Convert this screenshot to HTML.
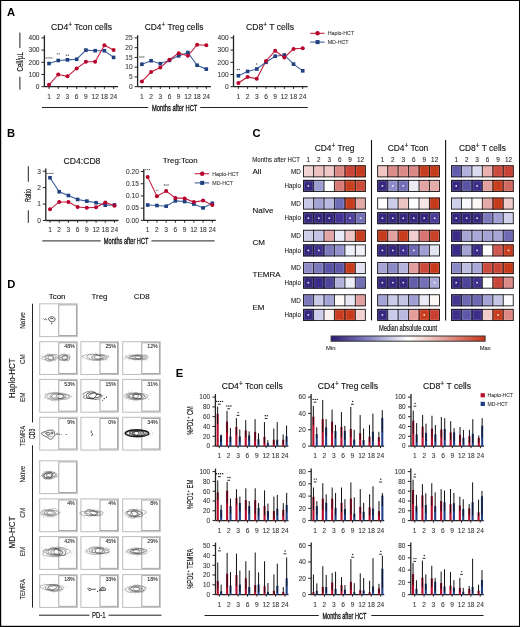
<!DOCTYPE html><html><head><meta charset="utf-8"><style>html,body{margin:0;padding:0;background:#fff;}svg{display:block;will-change:transform;}</style></head><body><svg width="520" height="627" viewBox="0 0 520 627" font-family='"Liberation Sans", sans-serif'>
<rect x="0.00" y="0.00" width="520.00" height="627.00" fill="#fff" stroke="none" stroke-width="1" />
<rect x="0.00" y="0.00" width="520.00" height="1.00" fill="#000" stroke="none" stroke-width="1" />
<rect x="0.00" y="0.00" width="1.20" height="627.00" fill="#000" stroke="none" stroke-width="1" />
<rect x="519.00" y="0.00" width="1.00" height="627.00" fill="#000" stroke="none" stroke-width="1" />
<rect x="0.00" y="625.80" width="520.00" height="1.20" fill="#000" stroke="none" stroke-width="1" />
<text x="7.00" y="15.90" font-size="11.2" text-anchor="start" fill="#000" font-weight="bold" >A</text>
<text x="7.00" y="137.00" font-size="11.2" text-anchor="start" fill="#000" font-weight="bold" >B</text>
<text x="252.50" y="137.00" font-size="11.2" text-anchor="start" fill="#000" font-weight="bold" >C</text>
<text x="7.20" y="288.30" font-size="11.2" text-anchor="start" fill="#000" font-weight="bold" >D</text>
<text x="175.80" y="376.50" font-size="11.2" text-anchor="start" fill="#000" font-weight="bold" >E</text>
<line x1="44.40" y1="35.30" x2="44.40" y2="86.70" stroke="#222" stroke-width="1.3" />
<line x1="44.40" y1="86.70" x2="118.00" y2="86.70" stroke="#222" stroke-width="1.3" />
<line x1="41.40" y1="86.70" x2="44.40" y2="86.70" stroke="#222" stroke-width="1" />
<text x="39.50" y="89.00" font-size="6.6" text-anchor="end" fill="#333"  stroke="#333" stroke-width="0.07">0</text>
<line x1="41.40" y1="74.50" x2="44.40" y2="74.50" stroke="#222" stroke-width="1" />
<text x="39.50" y="76.80" font-size="6.6" text-anchor="end" fill="#333"  stroke="#333" stroke-width="0.07">100</text>
<line x1="41.40" y1="62.30" x2="44.40" y2="62.30" stroke="#222" stroke-width="1" />
<text x="39.50" y="64.60" font-size="6.6" text-anchor="end" fill="#333"  stroke="#333" stroke-width="0.07">200</text>
<line x1="41.40" y1="50.10" x2="44.40" y2="50.10" stroke="#222" stroke-width="1" />
<text x="39.50" y="52.40" font-size="6.6" text-anchor="end" fill="#333"  stroke="#333" stroke-width="0.07">300</text>
<line x1="41.40" y1="37.90" x2="44.40" y2="37.90" stroke="#222" stroke-width="1" />
<text x="39.50" y="40.20" font-size="6.6" text-anchor="end" fill="#333"  stroke="#333" stroke-width="0.07">400</text>
<line x1="49.00" y1="86.70" x2="49.00" y2="88.90" stroke="#222" stroke-width="1" />
<text x="49.00" y="99.20" font-size="6.6" text-anchor="middle" fill="#333"  stroke="#333" stroke-width="0.07">1</text>
<line x1="58.23" y1="86.70" x2="58.23" y2="88.90" stroke="#222" stroke-width="1" />
<text x="58.23" y="99.20" font-size="6.6" text-anchor="middle" fill="#333"  stroke="#333" stroke-width="0.07">2</text>
<line x1="67.46" y1="86.70" x2="67.46" y2="88.90" stroke="#222" stroke-width="1" />
<text x="67.46" y="99.20" font-size="6.6" text-anchor="middle" fill="#333"  stroke="#333" stroke-width="0.07">3</text>
<line x1="76.69" y1="86.70" x2="76.69" y2="88.90" stroke="#222" stroke-width="1" />
<text x="76.69" y="99.20" font-size="6.6" text-anchor="middle" fill="#333"  stroke="#333" stroke-width="0.07">6</text>
<line x1="85.92" y1="86.70" x2="85.92" y2="88.90" stroke="#222" stroke-width="1" />
<text x="85.92" y="99.20" font-size="6.6" text-anchor="middle" fill="#333"  stroke="#333" stroke-width="0.07">9</text>
<line x1="95.15" y1="86.70" x2="95.15" y2="88.90" stroke="#222" stroke-width="1" />
<text x="95.15" y="99.20" font-size="6.6" text-anchor="middle" fill="#333"  stroke="#333" stroke-width="0.07">12</text>
<line x1="104.38" y1="86.70" x2="104.38" y2="88.90" stroke="#222" stroke-width="1" />
<text x="104.38" y="99.20" font-size="6.6" text-anchor="middle" fill="#333"  stroke="#333" stroke-width="0.07">18</text>
<line x1="113.61" y1="86.70" x2="113.61" y2="88.90" stroke="#222" stroke-width="1" />
<text x="113.61" y="99.20" font-size="6.6" text-anchor="middle" fill="#333"  stroke="#333" stroke-width="0.07">24</text>
<polyline points="49.00,63.52 58.23,60.47 67.46,59.86 76.69,59.25 85.92,50.10 95.15,50.71 104.38,50.71 113.61,57.42" fill="none" stroke="#3a5f9e" stroke-width="1.1"/>
<polyline points="49.00,84.87 58.23,74.50 67.46,76.33 76.69,68.40 85.92,61.69 95.15,61.69 104.38,45.22 113.61,50.10" fill="none" stroke="#c4203f" stroke-width="1.1"/>
<rect x="47.20" y="61.72" width="3.60" height="3.60" fill="#1f3f7e" stroke="none" stroke-width="1" />
<rect x="56.43" y="58.67" width="3.60" height="3.60" fill="#1f3f7e" stroke="none" stroke-width="1" />
<rect x="65.66" y="58.06" width="3.60" height="3.60" fill="#1f3f7e" stroke="none" stroke-width="1" />
<rect x="74.89" y="57.45" width="3.60" height="3.60" fill="#1f3f7e" stroke="none" stroke-width="1" />
<rect x="84.12" y="48.30" width="3.60" height="3.60" fill="#1f3f7e" stroke="none" stroke-width="1" />
<rect x="93.35" y="48.91" width="3.60" height="3.60" fill="#1f3f7e" stroke="none" stroke-width="1" />
<rect x="102.58" y="48.91" width="3.60" height="3.60" fill="#1f3f7e" stroke="none" stroke-width="1" />
<rect x="111.81" y="55.62" width="3.60" height="3.60" fill="#1f3f7e" stroke="none" stroke-width="1" />
<circle cx="49.00" cy="84.87" r="2" fill="#b8002c"/>
<circle cx="58.23" cy="74.50" r="2" fill="#b8002c"/>
<circle cx="67.46" cy="76.33" r="2" fill="#b8002c"/>
<circle cx="76.69" cy="68.40" r="2" fill="#b8002c"/>
<circle cx="85.92" cy="61.69" r="2" fill="#b8002c"/>
<circle cx="95.15" cy="61.69" r="2" fill="#b8002c"/>
<circle cx="104.38" cy="45.22" r="2" fill="#b8002c"/>
<circle cx="113.61" cy="50.10" r="2" fill="#b8002c"/>
<circle cx="46.15" cy="57.90" r="0.65" fill="#444"/>
<circle cx="48.05" cy="57.90" r="0.65" fill="#444"/>
<circle cx="49.95" cy="57.90" r="0.65" fill="#444"/>
<circle cx="51.85" cy="57.90" r="0.65" fill="#444"/>
<circle cx="57.28" cy="53.80" r="0.65" fill="#444"/>
<circle cx="59.18" cy="53.80" r="0.65" fill="#444"/>
<circle cx="66.51" cy="55.20" r="0.65" fill="#444"/>
<circle cx="68.41" cy="55.20" r="0.65" fill="#444"/>
<text x="81.5" y="30" font-size="8.6" text-anchor="middle" fill="#111" stroke="#111" stroke-width="0.12">CD4<tspan font-size="6.6" dy="-3.3">+</tspan><tspan dy="3.3"> Tcon cells</tspan></text>
<line x1="137.60" y1="35.30" x2="137.60" y2="86.70" stroke="#222" stroke-width="1.3" />
<line x1="137.60" y1="86.70" x2="211.00" y2="86.70" stroke="#222" stroke-width="1.3" />
<line x1="134.60" y1="86.70" x2="137.60" y2="86.70" stroke="#222" stroke-width="1" />
<text x="132.70" y="89.00" font-size="6.6" text-anchor="end" fill="#333"  stroke="#333" stroke-width="0.07">0</text>
<line x1="134.60" y1="76.94" x2="137.60" y2="76.94" stroke="#222" stroke-width="1" />
<text x="132.70" y="79.24" font-size="6.6" text-anchor="end" fill="#333"  stroke="#333" stroke-width="0.07">5</text>
<line x1="134.60" y1="67.18" x2="137.60" y2="67.18" stroke="#222" stroke-width="1" />
<text x="132.70" y="69.48" font-size="6.6" text-anchor="end" fill="#333"  stroke="#333" stroke-width="0.07">10</text>
<line x1="134.60" y1="57.42" x2="137.60" y2="57.42" stroke="#222" stroke-width="1" />
<text x="132.70" y="59.72" font-size="6.6" text-anchor="end" fill="#333"  stroke="#333" stroke-width="0.07">15</text>
<line x1="134.60" y1="47.66" x2="137.60" y2="47.66" stroke="#222" stroke-width="1" />
<text x="132.70" y="49.96" font-size="6.6" text-anchor="end" fill="#333"  stroke="#333" stroke-width="0.07">20</text>
<line x1="134.60" y1="37.90" x2="137.60" y2="37.90" stroke="#222" stroke-width="1" />
<text x="132.70" y="40.20" font-size="6.6" text-anchor="end" fill="#333"  stroke="#333" stroke-width="0.07">25</text>
<line x1="141.90" y1="86.70" x2="141.90" y2="88.90" stroke="#222" stroke-width="1" />
<text x="141.90" y="99.20" font-size="6.6" text-anchor="middle" fill="#333"  stroke="#333" stroke-width="0.07">1</text>
<line x1="151.10" y1="86.70" x2="151.10" y2="88.90" stroke="#222" stroke-width="1" />
<text x="151.10" y="99.20" font-size="6.6" text-anchor="middle" fill="#333"  stroke="#333" stroke-width="0.07">2</text>
<line x1="160.30" y1="86.70" x2="160.30" y2="88.90" stroke="#222" stroke-width="1" />
<text x="160.30" y="99.20" font-size="6.6" text-anchor="middle" fill="#333"  stroke="#333" stroke-width="0.07">3</text>
<line x1="169.50" y1="86.70" x2="169.50" y2="88.90" stroke="#222" stroke-width="1" />
<text x="169.50" y="99.20" font-size="6.6" text-anchor="middle" fill="#333"  stroke="#333" stroke-width="0.07">6</text>
<line x1="178.70" y1="86.70" x2="178.70" y2="88.90" stroke="#222" stroke-width="1" />
<text x="178.70" y="99.20" font-size="6.6" text-anchor="middle" fill="#333"  stroke="#333" stroke-width="0.07">9</text>
<line x1="187.90" y1="86.70" x2="187.90" y2="88.90" stroke="#222" stroke-width="1" />
<text x="187.90" y="99.20" font-size="6.6" text-anchor="middle" fill="#333"  stroke="#333" stroke-width="0.07">12</text>
<line x1="197.10" y1="86.70" x2="197.10" y2="88.90" stroke="#222" stroke-width="1" />
<text x="197.10" y="99.20" font-size="6.6" text-anchor="middle" fill="#333"  stroke="#333" stroke-width="0.07">18</text>
<line x1="206.30" y1="86.70" x2="206.30" y2="88.90" stroke="#222" stroke-width="1" />
<text x="206.30" y="99.20" font-size="6.6" text-anchor="middle" fill="#333"  stroke="#333" stroke-width="0.07">24</text>
<polyline points="141.90,64.25 151.10,60.74 160.30,63.67 169.50,60.35 178.70,55.86 187.90,52.54 197.10,65.23 206.30,69.13" fill="none" stroke="#3a5f9e" stroke-width="1.1"/>
<polyline points="141.90,81.43 151.10,72.06 160.30,67.57 169.50,59.76 178.70,53.13 187.90,55.86 197.10,44.73 206.30,45.32" fill="none" stroke="#c4203f" stroke-width="1.1"/>
<rect x="140.10" y="62.45" width="3.60" height="3.60" fill="#1f3f7e" stroke="none" stroke-width="1" />
<rect x="149.30" y="58.94" width="3.60" height="3.60" fill="#1f3f7e" stroke="none" stroke-width="1" />
<rect x="158.50" y="61.87" width="3.60" height="3.60" fill="#1f3f7e" stroke="none" stroke-width="1" />
<rect x="167.70" y="58.55" width="3.60" height="3.60" fill="#1f3f7e" stroke="none" stroke-width="1" />
<rect x="176.90" y="54.06" width="3.60" height="3.60" fill="#1f3f7e" stroke="none" stroke-width="1" />
<rect x="186.10" y="50.74" width="3.60" height="3.60" fill="#1f3f7e" stroke="none" stroke-width="1" />
<rect x="195.30" y="63.43" width="3.60" height="3.60" fill="#1f3f7e" stroke="none" stroke-width="1" />
<rect x="204.50" y="67.33" width="3.60" height="3.60" fill="#1f3f7e" stroke="none" stroke-width="1" />
<circle cx="141.90" cy="81.43" r="2" fill="#b8002c"/>
<circle cx="151.10" cy="72.06" r="2" fill="#b8002c"/>
<circle cx="160.30" cy="67.57" r="2" fill="#b8002c"/>
<circle cx="169.50" cy="59.76" r="2" fill="#b8002c"/>
<circle cx="178.70" cy="53.13" r="2" fill="#b8002c"/>
<circle cx="187.90" cy="55.86" r="2" fill="#b8002c"/>
<circle cx="197.10" cy="44.73" r="2" fill="#b8002c"/>
<circle cx="206.30" cy="45.32" r="2" fill="#b8002c"/>
<circle cx="140.00" cy="57.00" r="0.65" fill="#444"/>
<circle cx="141.90" cy="57.00" r="0.65" fill="#444"/>
<circle cx="143.80" cy="57.00" r="0.65" fill="#444"/>
<text x="174.1" y="30" font-size="8.35" text-anchor="middle" fill="#111" stroke="#111" stroke-width="0.12">CD4<tspan font-size="6.6" dy="-3.3">+</tspan><tspan dy="3.3"> Treg cells</tspan></text>
<line x1="233.50" y1="35.30" x2="233.50" y2="86.70" stroke="#222" stroke-width="1.3" />
<line x1="233.50" y1="86.70" x2="307.70" y2="86.70" stroke="#222" stroke-width="1.3" />
<line x1="230.50" y1="86.70" x2="233.50" y2="86.70" stroke="#222" stroke-width="1" />
<text x="228.60" y="89.00" font-size="6.6" text-anchor="end" fill="#333"  stroke="#333" stroke-width="0.07">0</text>
<line x1="230.50" y1="74.50" x2="233.50" y2="74.50" stroke="#222" stroke-width="1" />
<text x="228.60" y="76.80" font-size="6.6" text-anchor="end" fill="#333"  stroke="#333" stroke-width="0.07">100</text>
<line x1="230.50" y1="62.30" x2="233.50" y2="62.30" stroke="#222" stroke-width="1" />
<text x="228.60" y="64.60" font-size="6.6" text-anchor="end" fill="#333"  stroke="#333" stroke-width="0.07">200</text>
<line x1="230.50" y1="50.10" x2="233.50" y2="50.10" stroke="#222" stroke-width="1" />
<text x="228.60" y="52.40" font-size="6.6" text-anchor="end" fill="#333"  stroke="#333" stroke-width="0.07">300</text>
<line x1="230.50" y1="37.90" x2="233.50" y2="37.90" stroke="#222" stroke-width="1" />
<text x="228.60" y="40.20" font-size="6.6" text-anchor="end" fill="#333"  stroke="#333" stroke-width="0.07">400</text>
<line x1="238.40" y1="86.70" x2="238.40" y2="88.90" stroke="#222" stroke-width="1" />
<text x="238.40" y="99.20" font-size="6.6" text-anchor="middle" fill="#333"  stroke="#333" stroke-width="0.07">1</text>
<line x1="247.59" y1="86.70" x2="247.59" y2="88.90" stroke="#222" stroke-width="1" />
<text x="247.59" y="99.20" font-size="6.6" text-anchor="middle" fill="#333"  stroke="#333" stroke-width="0.07">2</text>
<line x1="256.78" y1="86.70" x2="256.78" y2="88.90" stroke="#222" stroke-width="1" />
<text x="256.78" y="99.20" font-size="6.6" text-anchor="middle" fill="#333"  stroke="#333" stroke-width="0.07">3</text>
<line x1="265.97" y1="86.70" x2="265.97" y2="88.90" stroke="#222" stroke-width="1" />
<text x="265.97" y="99.20" font-size="6.6" text-anchor="middle" fill="#333"  stroke="#333" stroke-width="0.07">6</text>
<line x1="275.16" y1="86.70" x2="275.16" y2="88.90" stroke="#222" stroke-width="1" />
<text x="275.16" y="99.20" font-size="6.6" text-anchor="middle" fill="#333"  stroke="#333" stroke-width="0.07">9</text>
<line x1="284.35" y1="86.70" x2="284.35" y2="88.90" stroke="#222" stroke-width="1" />
<text x="284.35" y="99.20" font-size="6.6" text-anchor="middle" fill="#333"  stroke="#333" stroke-width="0.07">12</text>
<line x1="293.54" y1="86.70" x2="293.54" y2="88.90" stroke="#222" stroke-width="1" />
<text x="293.54" y="99.20" font-size="6.6" text-anchor="middle" fill="#333"  stroke="#333" stroke-width="0.07">18</text>
<line x1="302.73" y1="86.70" x2="302.73" y2="88.90" stroke="#222" stroke-width="1" />
<text x="302.73" y="99.20" font-size="6.6" text-anchor="middle" fill="#333"  stroke="#333" stroke-width="0.07">24</text>
<polyline points="238.40,75.72 247.59,71.45 256.78,69.01 265.97,62.30 275.16,56.20 284.35,54.98 293.54,64.13 302.73,70.84" fill="none" stroke="#3a5f9e" stroke-width="1.1"/>
<polyline points="238.40,83.04 247.59,76.94 256.78,78.77 265.97,61.08 275.16,50.71 284.35,57.42 293.54,48.88 302.73,48.27" fill="none" stroke="#c4203f" stroke-width="1.1"/>
<rect x="236.60" y="73.92" width="3.60" height="3.60" fill="#1f3f7e" stroke="none" stroke-width="1" />
<rect x="245.79" y="69.65" width="3.60" height="3.60" fill="#1f3f7e" stroke="none" stroke-width="1" />
<rect x="254.98" y="67.21" width="3.60" height="3.60" fill="#1f3f7e" stroke="none" stroke-width="1" />
<rect x="264.17" y="60.50" width="3.60" height="3.60" fill="#1f3f7e" stroke="none" stroke-width="1" />
<rect x="273.36" y="54.40" width="3.60" height="3.60" fill="#1f3f7e" stroke="none" stroke-width="1" />
<rect x="282.55" y="53.18" width="3.60" height="3.60" fill="#1f3f7e" stroke="none" stroke-width="1" />
<rect x="291.74" y="62.33" width="3.60" height="3.60" fill="#1f3f7e" stroke="none" stroke-width="1" />
<rect x="300.93" y="69.04" width="3.60" height="3.60" fill="#1f3f7e" stroke="none" stroke-width="1" />
<circle cx="238.40" cy="83.04" r="2" fill="#b8002c"/>
<circle cx="247.59" cy="76.94" r="2" fill="#b8002c"/>
<circle cx="256.78" cy="78.77" r="2" fill="#b8002c"/>
<circle cx="265.97" cy="61.08" r="2" fill="#b8002c"/>
<circle cx="275.16" cy="50.71" r="2" fill="#b8002c"/>
<circle cx="284.35" cy="57.42" r="2" fill="#b8002c"/>
<circle cx="293.54" cy="48.88" r="2" fill="#b8002c"/>
<circle cx="302.73" cy="48.27" r="2" fill="#b8002c"/>
<circle cx="237.45" cy="69.50" r="0.65" fill="#444"/>
<circle cx="239.35" cy="69.50" r="0.65" fill="#444"/>
<circle cx="256.78" cy="64.00" r="0.65" fill="#444"/>
<text x="270" y="30" font-size="8.6" text-anchor="middle" fill="#111" stroke="#111" stroke-width="0.12">CD8<tspan font-size="6.6" dy="-3.3">+</tspan><tspan dy="3.3"> T cells</tspan></text>
<line x1="310.20" y1="33.30" x2="324.50" y2="33.30" stroke="#c4203f" stroke-width="1.1" />
<circle cx="317.60" cy="33.30" r="2.2" fill="#b8002c"/>
<text x="327.70" y="35.20" font-size="5.3" text-anchor="start" fill="#333"  stroke="#333" stroke-width="0.07">Haplo-HCT</text>
<line x1="310.20" y1="42.10" x2="324.50" y2="42.10" stroke="#3a5f9e" stroke-width="1.1" />
<rect x="315.60" y="40.10" width="4.00" height="4.00" fill="#1f3f7e" stroke="none" stroke-width="1" />
<text x="327.70" y="44.00" font-size="5.3" text-anchor="start" fill="#333"  stroke="#333" stroke-width="0.07">MD-HCT</text>
<text x="23.00" y="61.70" font-size="9.0" text-anchor="middle" fill="#111" textLength="19.4" lengthAdjust="spacingAndGlyphs" transform="rotate(-90 23.00 61.70)" stroke="#111" stroke-width="0.15">Cell/µL</text>
<line x1="19.90" y1="32.60" x2="19.90" y2="47.90" stroke="#222" stroke-width="1" />
<line x1="19.90" y1="76.80" x2="19.90" y2="89.70" stroke="#222" stroke-width="1" />
<line x1="42.00" y1="107.50" x2="148.30" y2="107.50" stroke="#222" stroke-width="1" />
<line x1="200.20" y1="107.50" x2="307.70" y2="107.50" stroke="#222" stroke-width="1" />
<text x="174.65" y="110.60" font-size="8.7" text-anchor="middle" fill="#111" textLength="45.3" lengthAdjust="spacingAndGlyphs" stroke="#111" stroke-width="0.32">Months after HCT</text>
<line x1="45.80" y1="168.60" x2="45.80" y2="220.50" stroke="#222" stroke-width="1.3" />
<line x1="45.80" y1="220.50" x2="118.50" y2="220.50" stroke="#222" stroke-width="1.3" />
<line x1="42.80" y1="220.50" x2="45.80" y2="220.50" stroke="#222" stroke-width="1" />
<text x="40.90" y="222.80" font-size="6.6" text-anchor="end" fill="#333"  stroke="#333" stroke-width="0.07">0</text>
<line x1="42.80" y1="204.07" x2="45.80" y2="204.07" stroke="#222" stroke-width="1" />
<text x="40.90" y="206.37" font-size="6.6" text-anchor="end" fill="#333"  stroke="#333" stroke-width="0.07">1</text>
<line x1="42.80" y1="187.63" x2="45.80" y2="187.63" stroke="#222" stroke-width="1" />
<text x="40.90" y="189.93" font-size="6.6" text-anchor="end" fill="#333"  stroke="#333" stroke-width="0.07">2</text>
<line x1="42.80" y1="171.20" x2="45.80" y2="171.20" stroke="#222" stroke-width="1" />
<text x="40.90" y="173.50" font-size="6.6" text-anchor="end" fill="#333"  stroke="#333" stroke-width="0.07">3</text>
<line x1="50.00" y1="220.50" x2="50.00" y2="222.70" stroke="#222" stroke-width="1" />
<text x="50.00" y="232.00" font-size="6.6" text-anchor="middle" fill="#333"  stroke="#333" stroke-width="0.07">1</text>
<line x1="59.21" y1="220.50" x2="59.21" y2="222.70" stroke="#222" stroke-width="1" />
<text x="59.21" y="232.00" font-size="6.6" text-anchor="middle" fill="#333"  stroke="#333" stroke-width="0.07">2</text>
<line x1="68.42" y1="220.50" x2="68.42" y2="222.70" stroke="#222" stroke-width="1" />
<text x="68.42" y="232.00" font-size="6.6" text-anchor="middle" fill="#333"  stroke="#333" stroke-width="0.07">3</text>
<line x1="77.63" y1="220.50" x2="77.63" y2="222.70" stroke="#222" stroke-width="1" />
<text x="77.63" y="232.00" font-size="6.6" text-anchor="middle" fill="#333"  stroke="#333" stroke-width="0.07">6</text>
<line x1="86.84" y1="220.50" x2="86.84" y2="222.70" stroke="#222" stroke-width="1" />
<text x="86.84" y="232.00" font-size="6.6" text-anchor="middle" fill="#333"  stroke="#333" stroke-width="0.07">9</text>
<line x1="96.05" y1="220.50" x2="96.05" y2="222.70" stroke="#222" stroke-width="1" />
<text x="96.05" y="232.00" font-size="6.6" text-anchor="middle" fill="#333"  stroke="#333" stroke-width="0.07">12</text>
<line x1="105.26" y1="220.50" x2="105.26" y2="222.70" stroke="#222" stroke-width="1" />
<text x="105.26" y="232.00" font-size="6.6" text-anchor="middle" fill="#333"  stroke="#333" stroke-width="0.07">18</text>
<line x1="114.47" y1="220.50" x2="114.47" y2="222.70" stroke="#222" stroke-width="1" />
<text x="114.47" y="232.00" font-size="6.6" text-anchor="middle" fill="#333"  stroke="#333" stroke-width="0.07">24</text>
<polyline points="50.00,177.77 59.21,191.74 68.42,195.52 77.63,199.47 86.84,201.11 96.05,202.75 105.26,205.22 114.47,204.89" fill="none" stroke="#3a5f9e" stroke-width="1.1"/>
<polyline points="50.00,209.33 59.21,201.93 68.42,201.93 77.63,207.02 86.84,207.68 96.05,207.35 105.26,202.42 114.47,205.71" fill="none" stroke="#c4203f" stroke-width="1.1"/>
<rect x="48.20" y="175.97" width="3.60" height="3.60" fill="#1f3f7e" stroke="none" stroke-width="1" />
<rect x="57.41" y="189.94" width="3.60" height="3.60" fill="#1f3f7e" stroke="none" stroke-width="1" />
<rect x="66.62" y="193.72" width="3.60" height="3.60" fill="#1f3f7e" stroke="none" stroke-width="1" />
<rect x="75.83" y="197.67" width="3.60" height="3.60" fill="#1f3f7e" stroke="none" stroke-width="1" />
<rect x="85.04" y="199.31" width="3.60" height="3.60" fill="#1f3f7e" stroke="none" stroke-width="1" />
<rect x="94.25" y="200.95" width="3.60" height="3.60" fill="#1f3f7e" stroke="none" stroke-width="1" />
<rect x="103.46" y="203.42" width="3.60" height="3.60" fill="#1f3f7e" stroke="none" stroke-width="1" />
<rect x="112.67" y="203.09" width="3.60" height="3.60" fill="#1f3f7e" stroke="none" stroke-width="1" />
<circle cx="50.00" cy="209.33" r="2" fill="#b8002c"/>
<circle cx="59.21" cy="201.93" r="2" fill="#b8002c"/>
<circle cx="68.42" cy="201.93" r="2" fill="#b8002c"/>
<circle cx="77.63" cy="207.02" r="2" fill="#b8002c"/>
<circle cx="86.84" cy="207.68" r="2" fill="#b8002c"/>
<circle cx="96.05" cy="207.35" r="2" fill="#b8002c"/>
<circle cx="105.26" cy="202.42" r="2" fill="#b8002c"/>
<circle cx="114.47" cy="205.71" r="2" fill="#b8002c"/>
<circle cx="47.15" cy="173.40" r="0.65" fill="#444"/>
<circle cx="49.05" cy="173.40" r="0.65" fill="#444"/>
<circle cx="50.95" cy="173.40" r="0.65" fill="#444"/>
<circle cx="52.85" cy="173.40" r="0.65" fill="#444"/>
<text x="82.00" y="163.50" font-size="8.6" text-anchor="middle" fill="#111"  stroke="#111" stroke-width="0.12">CD4:CD8</text>
<line x1="143.80" y1="168.90" x2="143.80" y2="220.40" stroke="#222" stroke-width="1.3" />
<line x1="143.80" y1="220.40" x2="215.80" y2="220.40" stroke="#222" stroke-width="1.3" />
<line x1="140.80" y1="220.40" x2="143.80" y2="220.40" stroke="#222" stroke-width="1" />
<text x="138.90" y="222.70" font-size="6.6" text-anchor="end" fill="#333"  stroke="#333" stroke-width="0.07">0.00</text>
<line x1="140.80" y1="208.18" x2="143.80" y2="208.18" stroke="#222" stroke-width="1" />
<text x="138.90" y="210.48" font-size="6.6" text-anchor="end" fill="#333"  stroke="#333" stroke-width="0.07">0.05</text>
<line x1="140.80" y1="195.95" x2="143.80" y2="195.95" stroke="#222" stroke-width="1" />
<text x="138.90" y="198.25" font-size="6.6" text-anchor="end" fill="#333"  stroke="#333" stroke-width="0.07">0.10</text>
<line x1="140.80" y1="183.72" x2="143.80" y2="183.72" stroke="#222" stroke-width="1" />
<text x="138.90" y="186.03" font-size="6.6" text-anchor="end" fill="#333"  stroke="#333" stroke-width="0.07">0.15</text>
<line x1="140.80" y1="171.50" x2="143.80" y2="171.50" stroke="#222" stroke-width="1" />
<text x="138.90" y="173.80" font-size="6.6" text-anchor="end" fill="#333"  stroke="#333" stroke-width="0.07">0.20</text>
<line x1="147.70" y1="220.40" x2="147.70" y2="222.60" stroke="#222" stroke-width="1" />
<text x="147.70" y="232.00" font-size="6.6" text-anchor="middle" fill="#333"  stroke="#333" stroke-width="0.07">1</text>
<line x1="156.93" y1="220.40" x2="156.93" y2="222.60" stroke="#222" stroke-width="1" />
<text x="156.93" y="232.00" font-size="6.6" text-anchor="middle" fill="#333"  stroke="#333" stroke-width="0.07">2</text>
<line x1="166.16" y1="220.40" x2="166.16" y2="222.60" stroke="#222" stroke-width="1" />
<text x="166.16" y="232.00" font-size="6.6" text-anchor="middle" fill="#333"  stroke="#333" stroke-width="0.07">3</text>
<line x1="175.39" y1="220.40" x2="175.39" y2="222.60" stroke="#222" stroke-width="1" />
<text x="175.39" y="232.00" font-size="6.6" text-anchor="middle" fill="#333"  stroke="#333" stroke-width="0.07">6</text>
<line x1="184.62" y1="220.40" x2="184.62" y2="222.60" stroke="#222" stroke-width="1" />
<text x="184.62" y="232.00" font-size="6.6" text-anchor="middle" fill="#333"  stroke="#333" stroke-width="0.07">9</text>
<line x1="193.85" y1="220.40" x2="193.85" y2="222.60" stroke="#222" stroke-width="1" />
<text x="193.85" y="232.00" font-size="6.6" text-anchor="middle" fill="#333"  stroke="#333" stroke-width="0.07">12</text>
<line x1="203.08" y1="220.40" x2="203.08" y2="222.60" stroke="#222" stroke-width="1" />
<text x="203.08" y="232.00" font-size="6.6" text-anchor="middle" fill="#333"  stroke="#333" stroke-width="0.07">18</text>
<line x1="212.31" y1="220.40" x2="212.31" y2="222.60" stroke="#222" stroke-width="1" />
<text x="212.31" y="232.00" font-size="6.6" text-anchor="middle" fill="#333"  stroke="#333" stroke-width="0.07">24</text>
<polyline points="147.70,205.00 156.93,205.49 166.16,206.22 175.39,200.84 184.62,201.57 193.85,204.02 203.08,207.93 212.31,203.28" fill="none" stroke="#3a5f9e" stroke-width="1.1"/>
<polyline points="147.70,176.88 156.93,196.19 166.16,191.06 175.39,197.91 184.62,198.40 193.85,202.06 203.08,200.60 212.31,205.00" fill="none" stroke="#c4203f" stroke-width="1.1"/>
<rect x="145.90" y="203.20" width="3.60" height="3.60" fill="#1f3f7e" stroke="none" stroke-width="1" />
<rect x="155.13" y="203.69" width="3.60" height="3.60" fill="#1f3f7e" stroke="none" stroke-width="1" />
<rect x="164.36" y="204.42" width="3.60" height="3.60" fill="#1f3f7e" stroke="none" stroke-width="1" />
<rect x="173.59" y="199.04" width="3.60" height="3.60" fill="#1f3f7e" stroke="none" stroke-width="1" />
<rect x="182.82" y="199.77" width="3.60" height="3.60" fill="#1f3f7e" stroke="none" stroke-width="1" />
<rect x="192.05" y="202.22" width="3.60" height="3.60" fill="#1f3f7e" stroke="none" stroke-width="1" />
<rect x="201.28" y="206.13" width="3.60" height="3.60" fill="#1f3f7e" stroke="none" stroke-width="1" />
<rect x="210.51" y="201.48" width="3.60" height="3.60" fill="#1f3f7e" stroke="none" stroke-width="1" />
<circle cx="147.70" cy="176.88" r="2" fill="#b8002c"/>
<circle cx="156.93" cy="196.19" r="2" fill="#b8002c"/>
<circle cx="166.16" cy="191.06" r="2" fill="#b8002c"/>
<circle cx="175.39" cy="197.91" r="2" fill="#b8002c"/>
<circle cx="184.62" cy="198.40" r="2" fill="#b8002c"/>
<circle cx="193.85" cy="202.06" r="2" fill="#b8002c"/>
<circle cx="203.08" cy="200.60" r="2" fill="#b8002c"/>
<circle cx="212.31" cy="205.00" r="2" fill="#b8002c"/>
<circle cx="145.80" cy="169.60" r="0.65" fill="#444"/>
<circle cx="147.70" cy="169.60" r="0.65" fill="#444"/>
<circle cx="149.60" cy="169.60" r="0.65" fill="#444"/>
<circle cx="156.93" cy="190.40" r="0.65" fill="#444"/>
<circle cx="164.26" cy="185.00" r="0.65" fill="#444"/>
<circle cx="166.16" cy="185.00" r="0.65" fill="#444"/>
<circle cx="168.06" cy="185.00" r="0.65" fill="#444"/>
<text x="180.25" y="162.90" font-size="7.9" text-anchor="middle" fill="#111"  stroke="#111" stroke-width="0.12">Treg:Tcon</text>
<line x1="194.80" y1="173.70" x2="209.10" y2="173.70" stroke="#c4203f" stroke-width="1.1" />
<circle cx="202.20" cy="173.70" r="2.2" fill="#b8002c"/>
<text x="212.30" y="175.60" font-size="5.3" text-anchor="start" fill="#333"  stroke="#333" stroke-width="0.07">Haplo-HCT</text>
<line x1="194.80" y1="182.90" x2="209.10" y2="182.90" stroke="#3a5f9e" stroke-width="1.1" />
<rect x="200.20" y="180.90" width="4.00" height="4.00" fill="#1f3f7e" stroke="none" stroke-width="1" />
<text x="212.30" y="184.80" font-size="5.3" text-anchor="start" fill="#333"  stroke="#333" stroke-width="0.07">MD-HCT</text>
<text x="30.60" y="195.50" font-size="8.3" text-anchor="middle" fill="#111" textLength="13" lengthAdjust="spacingAndGlyphs" transform="rotate(-90 30.60 195.50)" stroke="#111" stroke-width="0.15">Ratio</text>
<line x1="28.30" y1="166.20" x2="28.30" y2="181.80" stroke="#222" stroke-width="1" />
<line x1="28.30" y1="210.30" x2="28.30" y2="222.80" stroke="#222" stroke-width="1" />
<line x1="42.30" y1="240.90" x2="100.80" y2="240.90" stroke="#222" stroke-width="1" />
<line x1="151.50" y1="240.90" x2="214.60" y2="240.90" stroke="#222" stroke-width="1" />
<text x="126.15" y="244.00" font-size="8.7" text-anchor="middle" fill="#111" textLength="44.7" lengthAdjust="spacingAndGlyphs" stroke="#111" stroke-width="0.32">Months after HCT</text>
<text x="334.6" y="150.9" font-size="8.4" text-anchor="middle" fill="#111" stroke="#111" stroke-width="0.12">CD4<tspan font-size="6.6" dy="-3.3">+</tspan><tspan dy="3.3"> Treg</tspan></text>
<text x="308.33" y="161.60" font-size="6.4" text-anchor="middle" fill="#222"  stroke="#222" stroke-width="0.07">1</text>
<text x="318.78" y="161.60" font-size="6.4" text-anchor="middle" fill="#222"  stroke="#222" stroke-width="0.07">2</text>
<text x="329.23" y="161.60" font-size="6.4" text-anchor="middle" fill="#222"  stroke="#222" stroke-width="0.07">3</text>
<text x="339.68" y="161.60" font-size="6.4" text-anchor="middle" fill="#222"  stroke="#222" stroke-width="0.07">6</text>
<text x="350.12" y="161.60" font-size="6.4" text-anchor="middle" fill="#222"  stroke="#222" stroke-width="0.07">9</text>
<text x="360.58" y="161.60" font-size="6.4" text-anchor="middle" fill="#222"  stroke="#222" stroke-width="0.07">12</text>
<rect x="303.10" y="165.30" width="10.45" height="12.00" fill="#f2d4d4" stroke="none" stroke-width="1" />
<rect x="304.40" y="166.60" width="7.85" height="9.40" fill="none" stroke="#fff" stroke-width="0.5" opacity="0.25"/>
<rect x="313.55" y="165.30" width="10.45" height="12.00" fill="#eec0c0" stroke="none" stroke-width="1" />
<rect x="314.85" y="166.60" width="7.85" height="9.40" fill="none" stroke="#fff" stroke-width="0.5" opacity="0.25"/>
<rect x="324.00" y="165.30" width="10.45" height="12.00" fill="#f0c8c8" stroke="none" stroke-width="1" />
<rect x="325.30" y="166.60" width="7.85" height="9.40" fill="none" stroke="#fff" stroke-width="0.5" opacity="0.25"/>
<rect x="334.45" y="165.30" width="10.45" height="12.00" fill="#dc8a86" stroke="none" stroke-width="1" />
<rect x="335.75" y="166.60" width="7.85" height="9.40" fill="none" stroke="#fff" stroke-width="0.5" opacity="0.25"/>
<rect x="344.90" y="165.30" width="10.45" height="12.00" fill="#cc4438" stroke="none" stroke-width="1" />
<rect x="346.20" y="166.60" width="7.85" height="9.40" fill="none" stroke="#fff" stroke-width="0.5" opacity="0.25"/>
<rect x="355.35" y="165.30" width="10.45" height="12.00" fill="#c63a1e" stroke="none" stroke-width="1" />
<rect x="356.65" y="166.60" width="7.85" height="9.40" fill="none" stroke="#fff" stroke-width="0.5" opacity="0.25"/>
<line x1="313.55" y1="165.30" x2="313.55" y2="177.30" stroke="#1a1a1a" stroke-width="0.9" />
<line x1="324.00" y1="165.30" x2="324.00" y2="177.30" stroke="#1a1a1a" stroke-width="0.9" />
<line x1="334.45" y1="165.30" x2="334.45" y2="177.30" stroke="#1a1a1a" stroke-width="0.9" />
<line x1="344.90" y1="165.30" x2="344.90" y2="177.30" stroke="#1a1a1a" stroke-width="0.9" />
<line x1="355.35" y1="165.30" x2="355.35" y2="177.30" stroke="#1a1a1a" stroke-width="0.9" />
<rect x="303.55" y="165.75" width="61.80" height="11.10" fill="none" stroke="#1a1a1a" stroke-width="0.9" />
<rect x="303.10" y="179.90" width="10.45" height="12.00" fill="#37287f" stroke="none" stroke-width="1" />
<rect x="304.40" y="181.20" width="7.85" height="9.40" fill="none" stroke="#fff" stroke-width="0.5" opacity="0.25"/>
<circle cx="308.33" cy="185.90" r="0.95" fill="#fff" opacity="0.85"/>
<rect x="313.55" y="179.90" width="10.45" height="12.00" fill="#9f9ed4" stroke="none" stroke-width="1" />
<rect x="314.85" y="181.20" width="7.85" height="9.40" fill="none" stroke="#fff" stroke-width="0.5" opacity="0.25"/>
<rect x="324.00" y="179.90" width="10.45" height="12.00" fill="#ffffff" stroke="none" stroke-width="1" />
<rect x="325.30" y="181.20" width="7.85" height="9.40" fill="none" stroke="#fff" stroke-width="0.5" opacity="0.25"/>
<rect x="334.45" y="179.90" width="10.45" height="12.00" fill="#d87a76" stroke="none" stroke-width="1" />
<rect x="335.75" y="181.20" width="7.85" height="9.40" fill="none" stroke="#fff" stroke-width="0.5" opacity="0.25"/>
<rect x="344.90" y="179.90" width="10.45" height="12.00" fill="#c9401f" stroke="none" stroke-width="1" />
<rect x="346.20" y="181.20" width="7.85" height="9.40" fill="none" stroke="#fff" stroke-width="0.5" opacity="0.25"/>
<rect x="355.35" y="179.90" width="10.45" height="12.00" fill="#cc4a3a" stroke="none" stroke-width="1" />
<rect x="356.65" y="181.20" width="7.85" height="9.40" fill="none" stroke="#fff" stroke-width="0.5" opacity="0.25"/>
<line x1="313.55" y1="179.90" x2="313.55" y2="191.90" stroke="#1a1a1a" stroke-width="0.9" />
<line x1="324.00" y1="179.90" x2="324.00" y2="191.90" stroke="#1a1a1a" stroke-width="0.9" />
<line x1="334.45" y1="179.90" x2="334.45" y2="191.90" stroke="#1a1a1a" stroke-width="0.9" />
<line x1="344.90" y1="179.90" x2="344.90" y2="191.90" stroke="#1a1a1a" stroke-width="0.9" />
<line x1="355.35" y1="179.90" x2="355.35" y2="191.90" stroke="#1a1a1a" stroke-width="0.9" />
<rect x="303.55" y="180.35" width="61.80" height="11.10" fill="none" stroke="#1a1a1a" stroke-width="0.9" />
<rect x="303.10" y="197.55" width="10.45" height="12.00" fill="#c8c8ea" stroke="none" stroke-width="1" />
<rect x="304.40" y="198.85" width="7.85" height="9.40" fill="none" stroke="#fff" stroke-width="0.5" opacity="0.25"/>
<rect x="313.55" y="197.55" width="10.45" height="12.00" fill="#a3a2d4" stroke="none" stroke-width="1" />
<rect x="314.85" y="198.85" width="7.85" height="9.40" fill="none" stroke="#fff" stroke-width="0.5" opacity="0.25"/>
<rect x="324.00" y="197.55" width="10.45" height="12.00" fill="#b8b8e0" stroke="none" stroke-width="1" />
<rect x="325.30" y="198.85" width="7.85" height="9.40" fill="none" stroke="#fff" stroke-width="0.5" opacity="0.25"/>
<rect x="334.45" y="197.55" width="10.45" height="12.00" fill="#6f6cb6" stroke="none" stroke-width="1" />
<rect x="335.75" y="198.85" width="7.85" height="9.40" fill="none" stroke="#fff" stroke-width="0.5" opacity="0.25"/>
<rect x="344.90" y="197.55" width="10.45" height="12.00" fill="#c83c1e" stroke="none" stroke-width="1" />
<rect x="346.20" y="198.85" width="7.85" height="9.40" fill="none" stroke="#fff" stroke-width="0.5" opacity="0.25"/>
<rect x="355.35" y="197.55" width="10.45" height="12.00" fill="#e5aaa8" stroke="none" stroke-width="1" />
<rect x="356.65" y="198.85" width="7.85" height="9.40" fill="none" stroke="#fff" stroke-width="0.5" opacity="0.25"/>
<line x1="313.55" y1="197.55" x2="313.55" y2="209.55" stroke="#1a1a1a" stroke-width="0.9" />
<line x1="324.00" y1="197.55" x2="324.00" y2="209.55" stroke="#1a1a1a" stroke-width="0.9" />
<line x1="334.45" y1="197.55" x2="334.45" y2="209.55" stroke="#1a1a1a" stroke-width="0.9" />
<line x1="344.90" y1="197.55" x2="344.90" y2="209.55" stroke="#1a1a1a" stroke-width="0.9" />
<line x1="355.35" y1="197.55" x2="355.35" y2="209.55" stroke="#1a1a1a" stroke-width="0.9" />
<rect x="303.55" y="198.00" width="61.80" height="11.10" fill="none" stroke="#1a1a1a" stroke-width="0.9" />
<rect x="303.10" y="212.15" width="10.45" height="12.00" fill="#37287f" stroke="none" stroke-width="1" />
<rect x="304.40" y="213.45" width="7.85" height="9.40" fill="none" stroke="#fff" stroke-width="0.5" opacity="0.25"/>
<circle cx="308.33" cy="218.15" r="0.95" fill="#fff" opacity="0.85"/>
<rect x="313.55" y="212.15" width="10.45" height="12.00" fill="#37287f" stroke="none" stroke-width="1" />
<rect x="314.85" y="213.45" width="7.85" height="9.40" fill="none" stroke="#fff" stroke-width="0.5" opacity="0.25"/>
<circle cx="318.78" cy="218.15" r="0.95" fill="#fff" opacity="0.85"/>
<rect x="324.00" y="212.15" width="10.45" height="12.00" fill="#37287f" stroke="none" stroke-width="1" />
<rect x="325.30" y="213.45" width="7.85" height="9.40" fill="none" stroke="#fff" stroke-width="0.5" opacity="0.25"/>
<circle cx="329.23" cy="218.15" r="0.95" fill="#fff" opacity="0.85"/>
<rect x="334.45" y="212.15" width="10.45" height="12.00" fill="#443596" stroke="none" stroke-width="1" />
<rect x="335.75" y="213.45" width="7.85" height="9.40" fill="none" stroke="#fff" stroke-width="0.5" opacity="0.25"/>
<rect x="344.90" y="212.15" width="10.45" height="12.00" fill="#4d3f9c" stroke="none" stroke-width="1" />
<rect x="346.20" y="213.45" width="7.85" height="9.40" fill="none" stroke="#fff" stroke-width="0.5" opacity="0.25"/>
<circle cx="350.13" cy="218.15" r="0.95" fill="#fff" opacity="0.85"/>
<rect x="355.35" y="212.15" width="10.45" height="12.00" fill="#7470b8" stroke="none" stroke-width="1" />
<rect x="356.65" y="213.45" width="7.85" height="9.40" fill="none" stroke="#fff" stroke-width="0.5" opacity="0.25"/>
<circle cx="360.58" cy="218.15" r="0.95" fill="#fff" opacity="0.85"/>
<line x1="313.55" y1="212.15" x2="313.55" y2="224.15" stroke="#1a1a1a" stroke-width="0.9" />
<line x1="324.00" y1="212.15" x2="324.00" y2="224.15" stroke="#1a1a1a" stroke-width="0.9" />
<line x1="334.45" y1="212.15" x2="334.45" y2="224.15" stroke="#1a1a1a" stroke-width="0.9" />
<line x1="344.90" y1="212.15" x2="344.90" y2="224.15" stroke="#1a1a1a" stroke-width="0.9" />
<line x1="355.35" y1="212.15" x2="355.35" y2="224.15" stroke="#1a1a1a" stroke-width="0.9" />
<rect x="303.55" y="212.60" width="61.80" height="11.10" fill="none" stroke="#1a1a1a" stroke-width="0.9" />
<rect x="303.10" y="229.80" width="10.45" height="12.00" fill="#cfcfea" stroke="none" stroke-width="1" />
<rect x="304.40" y="231.10" width="7.85" height="9.40" fill="none" stroke="#fff" stroke-width="0.5" opacity="0.25"/>
<rect x="313.55" y="229.80" width="10.45" height="12.00" fill="#c4c4e6" stroke="none" stroke-width="1" />
<rect x="314.85" y="231.10" width="7.85" height="9.40" fill="none" stroke="#fff" stroke-width="0.5" opacity="0.25"/>
<rect x="324.00" y="229.80" width="10.45" height="12.00" fill="#e2a5a4" stroke="none" stroke-width="1" />
<rect x="325.30" y="231.10" width="7.85" height="9.40" fill="none" stroke="#fff" stroke-width="0.5" opacity="0.25"/>
<rect x="334.45" y="229.80" width="10.45" height="12.00" fill="#ebebf7" stroke="none" stroke-width="1" />
<rect x="335.75" y="231.10" width="7.85" height="9.40" fill="none" stroke="#fff" stroke-width="0.5" opacity="0.25"/>
<rect x="344.90" y="229.80" width="10.45" height="12.00" fill="#eec4c4" stroke="none" stroke-width="1" />
<rect x="346.20" y="231.10" width="7.85" height="9.40" fill="none" stroke="#fff" stroke-width="0.5" opacity="0.25"/>
<rect x="355.35" y="229.80" width="10.45" height="12.00" fill="#c83c1e" stroke="none" stroke-width="1" />
<rect x="356.65" y="231.10" width="7.85" height="9.40" fill="none" stroke="#fff" stroke-width="0.5" opacity="0.25"/>
<line x1="313.55" y1="229.80" x2="313.55" y2="241.80" stroke="#1a1a1a" stroke-width="0.9" />
<line x1="324.00" y1="229.80" x2="324.00" y2="241.80" stroke="#1a1a1a" stroke-width="0.9" />
<line x1="334.45" y1="229.80" x2="334.45" y2="241.80" stroke="#1a1a1a" stroke-width="0.9" />
<line x1="344.90" y1="229.80" x2="344.90" y2="241.80" stroke="#1a1a1a" stroke-width="0.9" />
<line x1="355.35" y1="229.80" x2="355.35" y2="241.80" stroke="#1a1a1a" stroke-width="0.9" />
<rect x="303.55" y="230.25" width="61.80" height="11.10" fill="none" stroke="#1a1a1a" stroke-width="0.9" />
<rect x="303.10" y="244.40" width="10.45" height="12.00" fill="#37287f" stroke="none" stroke-width="1" />
<rect x="304.40" y="245.70" width="7.85" height="9.40" fill="none" stroke="#fff" stroke-width="0.5" opacity="0.25"/>
<circle cx="308.33" cy="250.40" r="0.95" fill="#fff" opacity="0.85"/>
<rect x="313.55" y="244.40" width="10.45" height="12.00" fill="#402f8c" stroke="none" stroke-width="1" />
<rect x="314.85" y="245.70" width="7.85" height="9.40" fill="none" stroke="#fff" stroke-width="0.5" opacity="0.25"/>
<circle cx="318.78" cy="250.40" r="0.95" fill="#fff" opacity="0.85"/>
<rect x="324.00" y="244.40" width="10.45" height="12.00" fill="#7c7abc" stroke="none" stroke-width="1" />
<rect x="325.30" y="245.70" width="7.85" height="9.40" fill="none" stroke="#fff" stroke-width="0.5" opacity="0.25"/>
<rect x="334.45" y="244.40" width="10.45" height="12.00" fill="#9190cc" stroke="none" stroke-width="1" />
<rect x="335.75" y="245.70" width="7.85" height="9.40" fill="none" stroke="#fff" stroke-width="0.5" opacity="0.25"/>
<rect x="344.90" y="244.40" width="10.45" height="12.00" fill="#f0f0f8" stroke="none" stroke-width="1" />
<rect x="346.20" y="245.70" width="7.85" height="9.40" fill="none" stroke="#fff" stroke-width="0.5" opacity="0.25"/>
<rect x="355.35" y="244.40" width="10.45" height="12.00" fill="#f0f0f8" stroke="none" stroke-width="1" />
<rect x="356.65" y="245.70" width="7.85" height="9.40" fill="none" stroke="#fff" stroke-width="0.5" opacity="0.25"/>
<line x1="313.55" y1="244.40" x2="313.55" y2="256.40" stroke="#1a1a1a" stroke-width="0.9" />
<line x1="324.00" y1="244.40" x2="324.00" y2="256.40" stroke="#1a1a1a" stroke-width="0.9" />
<line x1="334.45" y1="244.40" x2="334.45" y2="256.40" stroke="#1a1a1a" stroke-width="0.9" />
<line x1="344.90" y1="244.40" x2="344.90" y2="256.40" stroke="#1a1a1a" stroke-width="0.9" />
<line x1="355.35" y1="244.40" x2="355.35" y2="256.40" stroke="#1a1a1a" stroke-width="0.9" />
<rect x="303.55" y="244.85" width="61.80" height="11.10" fill="none" stroke="#1a1a1a" stroke-width="0.9" />
<rect x="303.10" y="262.05" width="10.45" height="12.00" fill="#8e8cc8" stroke="none" stroke-width="1" />
<rect x="304.40" y="263.35" width="7.85" height="9.40" fill="none" stroke="#fff" stroke-width="0.5" opacity="0.25"/>
<rect x="313.55" y="262.05" width="10.45" height="12.00" fill="#7a78bc" stroke="none" stroke-width="1" />
<rect x="314.85" y="263.35" width="7.85" height="9.40" fill="none" stroke="#fff" stroke-width="0.5" opacity="0.25"/>
<rect x="324.00" y="262.05" width="10.45" height="12.00" fill="#5a52a6" stroke="none" stroke-width="1" />
<rect x="325.30" y="263.35" width="7.85" height="9.40" fill="none" stroke="#fff" stroke-width="0.5" opacity="0.25"/>
<rect x="334.45" y="262.05" width="10.45" height="12.00" fill="#5e58a8" stroke="none" stroke-width="1" />
<rect x="335.75" y="263.35" width="7.85" height="9.40" fill="none" stroke="#fff" stroke-width="0.5" opacity="0.25"/>
<rect x="344.90" y="262.05" width="10.45" height="12.00" fill="#c63a1e" stroke="none" stroke-width="1" />
<rect x="346.20" y="263.35" width="7.85" height="9.40" fill="none" stroke="#fff" stroke-width="0.5" opacity="0.25"/>
<rect x="355.35" y="262.05" width="10.45" height="12.00" fill="#e2e2f2" stroke="none" stroke-width="1" />
<rect x="356.65" y="263.35" width="7.85" height="9.40" fill="none" stroke="#fff" stroke-width="0.5" opacity="0.25"/>
<line x1="313.55" y1="262.05" x2="313.55" y2="274.05" stroke="#1a1a1a" stroke-width="0.9" />
<line x1="324.00" y1="262.05" x2="324.00" y2="274.05" stroke="#1a1a1a" stroke-width="0.9" />
<line x1="334.45" y1="262.05" x2="334.45" y2="274.05" stroke="#1a1a1a" stroke-width="0.9" />
<line x1="344.90" y1="262.05" x2="344.90" y2="274.05" stroke="#1a1a1a" stroke-width="0.9" />
<line x1="355.35" y1="262.05" x2="355.35" y2="274.05" stroke="#1a1a1a" stroke-width="0.9" />
<rect x="303.55" y="262.50" width="61.80" height="11.10" fill="none" stroke="#1a1a1a" stroke-width="0.9" />
<rect x="303.10" y="276.65" width="10.45" height="12.00" fill="#37287f" stroke="none" stroke-width="1" />
<rect x="304.40" y="277.95" width="7.85" height="9.40" fill="none" stroke="#fff" stroke-width="0.5" opacity="0.25"/>
<circle cx="308.33" cy="282.65" r="0.95" fill="#fff" opacity="0.85"/>
<rect x="313.55" y="276.65" width="10.45" height="12.00" fill="#3a2a88" stroke="none" stroke-width="1" />
<rect x="314.85" y="277.95" width="7.85" height="9.40" fill="none" stroke="#fff" stroke-width="0.5" opacity="0.25"/>
<rect x="324.00" y="276.65" width="10.45" height="12.00" fill="#4e4499" stroke="none" stroke-width="1" />
<rect x="325.30" y="277.95" width="7.85" height="9.40" fill="none" stroke="#fff" stroke-width="0.5" opacity="0.25"/>
<rect x="334.45" y="276.65" width="10.45" height="12.00" fill="#b3b2dc" stroke="none" stroke-width="1" />
<rect x="335.75" y="277.95" width="7.85" height="9.40" fill="none" stroke="#fff" stroke-width="0.5" opacity="0.25"/>
<rect x="344.90" y="276.65" width="10.45" height="12.00" fill="#ededf7" stroke="none" stroke-width="1" />
<rect x="346.20" y="277.95" width="7.85" height="9.40" fill="none" stroke="#fff" stroke-width="0.5" opacity="0.25"/>
<rect x="355.35" y="276.65" width="10.45" height="12.00" fill="#7370b6" stroke="none" stroke-width="1" />
<rect x="356.65" y="277.95" width="7.85" height="9.40" fill="none" stroke="#fff" stroke-width="0.5" opacity="0.25"/>
<line x1="313.55" y1="276.65" x2="313.55" y2="288.65" stroke="#1a1a1a" stroke-width="0.9" />
<line x1="324.00" y1="276.65" x2="324.00" y2="288.65" stroke="#1a1a1a" stroke-width="0.9" />
<line x1="334.45" y1="276.65" x2="334.45" y2="288.65" stroke="#1a1a1a" stroke-width="0.9" />
<line x1="344.90" y1="276.65" x2="344.90" y2="288.65" stroke="#1a1a1a" stroke-width="0.9" />
<line x1="355.35" y1="276.65" x2="355.35" y2="288.65" stroke="#1a1a1a" stroke-width="0.9" />
<rect x="303.55" y="277.10" width="61.80" height="11.10" fill="none" stroke="#1a1a1a" stroke-width="0.9" />
<rect x="303.10" y="294.30" width="10.45" height="12.00" fill="#7976ba" stroke="none" stroke-width="1" />
<rect x="304.40" y="295.60" width="7.85" height="9.40" fill="none" stroke="#fff" stroke-width="0.5" opacity="0.25"/>
<rect x="313.55" y="294.30" width="10.45" height="12.00" fill="#c9c9e8" stroke="none" stroke-width="1" />
<rect x="314.85" y="295.60" width="7.85" height="9.40" fill="none" stroke="#fff" stroke-width="0.5" opacity="0.25"/>
<rect x="324.00" y="294.30" width="10.45" height="12.00" fill="#a5a4d6" stroke="none" stroke-width="1" />
<rect x="325.30" y="295.60" width="7.85" height="9.40" fill="none" stroke="#fff" stroke-width="0.5" opacity="0.25"/>
<rect x="334.45" y="294.30" width="10.45" height="12.00" fill="#fdf8f8" stroke="none" stroke-width="1" />
<rect x="335.75" y="295.60" width="7.85" height="9.40" fill="none" stroke="#fff" stroke-width="0.5" opacity="0.25"/>
<rect x="344.90" y="294.30" width="10.45" height="12.00" fill="#e8e8f5" stroke="none" stroke-width="1" />
<rect x="346.20" y="295.60" width="7.85" height="9.40" fill="none" stroke="#fff" stroke-width="0.5" opacity="0.25"/>
<rect x="355.35" y="294.30" width="10.45" height="12.00" fill="#e2a0a0" stroke="none" stroke-width="1" />
<rect x="356.65" y="295.60" width="7.85" height="9.40" fill="none" stroke="#fff" stroke-width="0.5" opacity="0.25"/>
<line x1="313.55" y1="294.30" x2="313.55" y2="306.30" stroke="#1a1a1a" stroke-width="0.9" />
<line x1="324.00" y1="294.30" x2="324.00" y2="306.30" stroke="#1a1a1a" stroke-width="0.9" />
<line x1="334.45" y1="294.30" x2="334.45" y2="306.30" stroke="#1a1a1a" stroke-width="0.9" />
<line x1="344.90" y1="294.30" x2="344.90" y2="306.30" stroke="#1a1a1a" stroke-width="0.9" />
<line x1="355.35" y1="294.30" x2="355.35" y2="306.30" stroke="#1a1a1a" stroke-width="0.9" />
<rect x="303.55" y="294.75" width="61.80" height="11.10" fill="none" stroke="#1a1a1a" stroke-width="0.9" />
<rect x="303.10" y="308.90" width="10.45" height="12.00" fill="#37287f" stroke="none" stroke-width="1" />
<rect x="304.40" y="310.20" width="7.85" height="9.40" fill="none" stroke="#fff" stroke-width="0.5" opacity="0.25"/>
<circle cx="308.33" cy="314.90" r="0.95" fill="#fff" opacity="0.85"/>
<rect x="313.55" y="308.90" width="10.45" height="12.00" fill="#cdcdeb" stroke="none" stroke-width="1" />
<rect x="314.85" y="310.20" width="7.85" height="9.40" fill="none" stroke="#fff" stroke-width="0.5" opacity="0.25"/>
<rect x="324.00" y="308.90" width="10.45" height="12.00" fill="#fbefef" stroke="none" stroke-width="1" />
<rect x="325.30" y="310.20" width="7.85" height="9.40" fill="none" stroke="#fff" stroke-width="0.5" opacity="0.25"/>
<rect x="334.45" y="308.90" width="10.45" height="12.00" fill="#c93c1d" stroke="none" stroke-width="1" />
<rect x="335.75" y="310.20" width="7.85" height="9.40" fill="none" stroke="#fff" stroke-width="0.5" opacity="0.25"/>
<rect x="344.90" y="308.90" width="10.45" height="12.00" fill="#c63a1a" stroke="none" stroke-width="1" />
<rect x="346.20" y="310.20" width="7.85" height="9.40" fill="none" stroke="#fff" stroke-width="0.5" opacity="0.25"/>
<rect x="355.35" y="308.90" width="10.45" height="12.00" fill="#f4d2d2" stroke="none" stroke-width="1" />
<rect x="356.65" y="310.20" width="7.85" height="9.40" fill="none" stroke="#fff" stroke-width="0.5" opacity="0.25"/>
<line x1="313.55" y1="308.90" x2="313.55" y2="320.90" stroke="#1a1a1a" stroke-width="0.9" />
<line x1="324.00" y1="308.90" x2="324.00" y2="320.90" stroke="#1a1a1a" stroke-width="0.9" />
<line x1="334.45" y1="308.90" x2="334.45" y2="320.90" stroke="#1a1a1a" stroke-width="0.9" />
<line x1="344.90" y1="308.90" x2="344.90" y2="320.90" stroke="#1a1a1a" stroke-width="0.9" />
<line x1="355.35" y1="308.90" x2="355.35" y2="320.90" stroke="#1a1a1a" stroke-width="0.9" />
<rect x="303.55" y="309.35" width="61.80" height="11.10" fill="none" stroke="#1a1a1a" stroke-width="0.9" />
<text x="408.0" y="150.9" font-size="8.4" text-anchor="middle" fill="#111" stroke="#111" stroke-width="0.12">CD4<tspan font-size="6.6" dy="-3.3">+</tspan><tspan dy="3.3"> Tcon</tspan></text>
<text x="382.43" y="161.60" font-size="6.4" text-anchor="middle" fill="#222"  stroke="#222" stroke-width="0.07">1</text>
<text x="392.88" y="161.60" font-size="6.4" text-anchor="middle" fill="#222"  stroke="#222" stroke-width="0.07">2</text>
<text x="403.32" y="161.60" font-size="6.4" text-anchor="middle" fill="#222"  stroke="#222" stroke-width="0.07">3</text>
<text x="413.77" y="161.60" font-size="6.4" text-anchor="middle" fill="#222"  stroke="#222" stroke-width="0.07">6</text>
<text x="424.22" y="161.60" font-size="6.4" text-anchor="middle" fill="#222"  stroke="#222" stroke-width="0.07">9</text>
<text x="434.67" y="161.60" font-size="6.4" text-anchor="middle" fill="#222"  stroke="#222" stroke-width="0.07">12</text>
<rect x="377.20" y="165.30" width="10.45" height="12.00" fill="#efc6c4" stroke="none" stroke-width="1" />
<rect x="378.50" y="166.60" width="7.85" height="9.40" fill="none" stroke="#fff" stroke-width="0.5" opacity="0.25"/>
<rect x="387.65" y="165.30" width="10.45" height="12.00" fill="#db8a87" stroke="none" stroke-width="1" />
<rect x="388.95" y="166.60" width="7.85" height="9.40" fill="none" stroke="#fff" stroke-width="0.5" opacity="0.25"/>
<rect x="398.10" y="165.30" width="10.45" height="12.00" fill="#db8a87" stroke="none" stroke-width="1" />
<rect x="399.40" y="166.60" width="7.85" height="9.40" fill="none" stroke="#fff" stroke-width="0.5" opacity="0.25"/>
<rect x="408.55" y="165.30" width="10.45" height="12.00" fill="#da8884" stroke="none" stroke-width="1" />
<rect x="409.85" y="166.60" width="7.85" height="9.40" fill="none" stroke="#fff" stroke-width="0.5" opacity="0.25"/>
<rect x="419.00" y="165.30" width="10.45" height="12.00" fill="#c83c1e" stroke="none" stroke-width="1" />
<rect x="420.30" y="166.60" width="7.85" height="9.40" fill="none" stroke="#fff" stroke-width="0.5" opacity="0.25"/>
<rect x="429.45" y="165.30" width="10.45" height="12.00" fill="#c63a1c" stroke="none" stroke-width="1" />
<rect x="430.75" y="166.60" width="7.85" height="9.40" fill="none" stroke="#fff" stroke-width="0.5" opacity="0.25"/>
<line x1="387.65" y1="165.30" x2="387.65" y2="177.30" stroke="#1a1a1a" stroke-width="0.9" />
<line x1="398.10" y1="165.30" x2="398.10" y2="177.30" stroke="#1a1a1a" stroke-width="0.9" />
<line x1="408.55" y1="165.30" x2="408.55" y2="177.30" stroke="#1a1a1a" stroke-width="0.9" />
<line x1="419.00" y1="165.30" x2="419.00" y2="177.30" stroke="#1a1a1a" stroke-width="0.9" />
<line x1="429.45" y1="165.30" x2="429.45" y2="177.30" stroke="#1a1a1a" stroke-width="0.9" />
<rect x="377.65" y="165.75" width="61.80" height="11.10" fill="none" stroke="#1a1a1a" stroke-width="0.9" />
<rect x="377.20" y="179.90" width="10.45" height="12.00" fill="#37287f" stroke="none" stroke-width="1" />
<rect x="378.50" y="181.20" width="7.85" height="9.40" fill="none" stroke="#fff" stroke-width="0.5" opacity="0.25"/>
<circle cx="382.43" cy="185.90" r="0.95" fill="#fff" opacity="0.85"/>
<rect x="387.65" y="179.90" width="10.45" height="12.00" fill="#8d8bc8" stroke="none" stroke-width="1" />
<rect x="388.95" y="181.20" width="7.85" height="9.40" fill="none" stroke="#fff" stroke-width="0.5" opacity="0.25"/>
<circle cx="392.88" cy="185.90" r="0.95" fill="#fff" opacity="0.85"/>
<rect x="398.10" y="179.90" width="10.45" height="12.00" fill="#716eb6" stroke="none" stroke-width="1" />
<rect x="399.40" y="181.20" width="7.85" height="9.40" fill="none" stroke="#fff" stroke-width="0.5" opacity="0.25"/>
<circle cx="403.32" cy="185.90" r="0.95" fill="#fff" opacity="0.85"/>
<rect x="408.55" y="179.90" width="10.45" height="12.00" fill="#ebebf6" stroke="none" stroke-width="1" />
<rect x="409.85" y="181.20" width="7.85" height="9.40" fill="none" stroke="#fff" stroke-width="0.5" opacity="0.25"/>
<rect x="419.00" y="179.90" width="10.45" height="12.00" fill="#e2a4a2" stroke="none" stroke-width="1" />
<rect x="420.30" y="181.20" width="7.85" height="9.40" fill="none" stroke="#fff" stroke-width="0.5" opacity="0.25"/>
<rect x="429.45" y="179.90" width="10.45" height="12.00" fill="#e4aaa8" stroke="none" stroke-width="1" />
<rect x="430.75" y="181.20" width="7.85" height="9.40" fill="none" stroke="#fff" stroke-width="0.5" opacity="0.25"/>
<line x1="387.65" y1="179.90" x2="387.65" y2="191.90" stroke="#1a1a1a" stroke-width="0.9" />
<line x1="398.10" y1="179.90" x2="398.10" y2="191.90" stroke="#1a1a1a" stroke-width="0.9" />
<line x1="408.55" y1="179.90" x2="408.55" y2="191.90" stroke="#1a1a1a" stroke-width="0.9" />
<line x1="419.00" y1="179.90" x2="419.00" y2="191.90" stroke="#1a1a1a" stroke-width="0.9" />
<line x1="429.45" y1="179.90" x2="429.45" y2="191.90" stroke="#1a1a1a" stroke-width="0.9" />
<rect x="377.65" y="180.35" width="61.80" height="11.10" fill="none" stroke="#1a1a1a" stroke-width="0.9" />
<rect x="377.20" y="197.55" width="10.45" height="12.00" fill="#ffffff" stroke="none" stroke-width="1" />
<rect x="378.50" y="198.85" width="7.85" height="9.40" fill="none" stroke="#fff" stroke-width="0.5" opacity="0.25"/>
<rect x="387.65" y="197.55" width="10.45" height="12.00" fill="#cdcdea" stroke="none" stroke-width="1" />
<rect x="388.95" y="198.85" width="7.85" height="9.40" fill="none" stroke="#fff" stroke-width="0.5" opacity="0.25"/>
<rect x="398.10" y="197.55" width="10.45" height="12.00" fill="#efc4c2" stroke="none" stroke-width="1" />
<rect x="399.40" y="198.85" width="7.85" height="9.40" fill="none" stroke="#fff" stroke-width="0.5" opacity="0.25"/>
<rect x="408.55" y="197.55" width="10.45" height="12.00" fill="#ffffff" stroke="none" stroke-width="1" />
<rect x="409.85" y="198.85" width="7.85" height="9.40" fill="none" stroke="#fff" stroke-width="0.5" opacity="0.25"/>
<rect x="419.00" y="197.55" width="10.45" height="12.00" fill="#f8e6e6" stroke="none" stroke-width="1" />
<rect x="420.30" y="198.85" width="7.85" height="9.40" fill="none" stroke="#fff" stroke-width="0.5" opacity="0.25"/>
<rect x="429.45" y="197.55" width="10.45" height="12.00" fill="#c63a1c" stroke="none" stroke-width="1" />
<rect x="430.75" y="198.85" width="7.85" height="9.40" fill="none" stroke="#fff" stroke-width="0.5" opacity="0.25"/>
<line x1="387.65" y1="197.55" x2="387.65" y2="209.55" stroke="#1a1a1a" stroke-width="0.9" />
<line x1="398.10" y1="197.55" x2="398.10" y2="209.55" stroke="#1a1a1a" stroke-width="0.9" />
<line x1="408.55" y1="197.55" x2="408.55" y2="209.55" stroke="#1a1a1a" stroke-width="0.9" />
<line x1="419.00" y1="197.55" x2="419.00" y2="209.55" stroke="#1a1a1a" stroke-width="0.9" />
<line x1="429.45" y1="197.55" x2="429.45" y2="209.55" stroke="#1a1a1a" stroke-width="0.9" />
<rect x="377.65" y="198.00" width="61.80" height="11.10" fill="none" stroke="#1a1a1a" stroke-width="0.9" />
<rect x="377.20" y="212.15" width="10.45" height="12.00" fill="#37287f" stroke="none" stroke-width="1" />
<rect x="378.50" y="213.45" width="7.85" height="9.40" fill="none" stroke="#fff" stroke-width="0.5" opacity="0.25"/>
<circle cx="382.43" cy="218.15" r="0.95" fill="#fff" opacity="0.85"/>
<rect x="387.65" y="212.15" width="10.45" height="12.00" fill="#37287f" stroke="none" stroke-width="1" />
<rect x="388.95" y="213.45" width="7.85" height="9.40" fill="none" stroke="#fff" stroke-width="0.5" opacity="0.25"/>
<circle cx="392.88" cy="218.15" r="0.95" fill="#fff" opacity="0.85"/>
<rect x="398.10" y="212.15" width="10.45" height="12.00" fill="#37287f" stroke="none" stroke-width="1" />
<rect x="399.40" y="213.45" width="7.85" height="9.40" fill="none" stroke="#fff" stroke-width="0.5" opacity="0.25"/>
<circle cx="403.32" cy="218.15" r="0.95" fill="#fff" opacity="0.85"/>
<rect x="408.55" y="212.15" width="10.45" height="12.00" fill="#37287f" stroke="none" stroke-width="1" />
<rect x="409.85" y="213.45" width="7.85" height="9.40" fill="none" stroke="#fff" stroke-width="0.5" opacity="0.25"/>
<circle cx="413.78" cy="218.15" r="0.95" fill="#fff" opacity="0.85"/>
<rect x="419.00" y="212.15" width="10.45" height="12.00" fill="#37287f" stroke="none" stroke-width="1" />
<rect x="420.30" y="213.45" width="7.85" height="9.40" fill="none" stroke="#fff" stroke-width="0.5" opacity="0.25"/>
<circle cx="424.23" cy="218.15" r="0.95" fill="#fff" opacity="0.85"/>
<rect x="429.45" y="212.15" width="10.45" height="12.00" fill="#4a3d99" stroke="none" stroke-width="1" />
<rect x="430.75" y="213.45" width="7.85" height="9.40" fill="none" stroke="#fff" stroke-width="0.5" opacity="0.25"/>
<circle cx="434.68" cy="218.15" r="0.95" fill="#fff" opacity="0.85"/>
<line x1="387.65" y1="212.15" x2="387.65" y2="224.15" stroke="#1a1a1a" stroke-width="0.9" />
<line x1="398.10" y1="212.15" x2="398.10" y2="224.15" stroke="#1a1a1a" stroke-width="0.9" />
<line x1="408.55" y1="212.15" x2="408.55" y2="224.15" stroke="#1a1a1a" stroke-width="0.9" />
<line x1="419.00" y1="212.15" x2="419.00" y2="224.15" stroke="#1a1a1a" stroke-width="0.9" />
<line x1="429.45" y1="212.15" x2="429.45" y2="224.15" stroke="#1a1a1a" stroke-width="0.9" />
<rect x="377.65" y="212.60" width="61.80" height="11.10" fill="none" stroke="#1a1a1a" stroke-width="0.9" />
<rect x="377.20" y="229.80" width="10.45" height="12.00" fill="#c63a1c" stroke="none" stroke-width="1" />
<rect x="378.50" y="231.10" width="7.85" height="9.40" fill="none" stroke="#fff" stroke-width="0.5" opacity="0.25"/>
<rect x="387.65" y="229.80" width="10.45" height="12.00" fill="#e3a2a0" stroke="none" stroke-width="1" />
<rect x="388.95" y="231.10" width="7.85" height="9.40" fill="none" stroke="#fff" stroke-width="0.5" opacity="0.25"/>
<rect x="398.10" y="229.80" width="10.45" height="12.00" fill="#c83c1e" stroke="none" stroke-width="1" />
<rect x="399.40" y="231.10" width="7.85" height="9.40" fill="none" stroke="#fff" stroke-width="0.5" opacity="0.25"/>
<rect x="408.55" y="229.80" width="10.45" height="12.00" fill="#f2cece" stroke="none" stroke-width="1" />
<rect x="409.85" y="231.10" width="7.85" height="9.40" fill="none" stroke="#fff" stroke-width="0.5" opacity="0.25"/>
<rect x="419.00" y="229.80" width="10.45" height="12.00" fill="#d87470" stroke="none" stroke-width="1" />
<rect x="420.30" y="231.10" width="7.85" height="9.40" fill="none" stroke="#fff" stroke-width="0.5" opacity="0.25"/>
<rect x="429.45" y="229.80" width="10.45" height="12.00" fill="#c94028" stroke="none" stroke-width="1" />
<rect x="430.75" y="231.10" width="7.85" height="9.40" fill="none" stroke="#fff" stroke-width="0.5" opacity="0.25"/>
<line x1="387.65" y1="229.80" x2="387.65" y2="241.80" stroke="#1a1a1a" stroke-width="0.9" />
<line x1="398.10" y1="229.80" x2="398.10" y2="241.80" stroke="#1a1a1a" stroke-width="0.9" />
<line x1="408.55" y1="229.80" x2="408.55" y2="241.80" stroke="#1a1a1a" stroke-width="0.9" />
<line x1="419.00" y1="229.80" x2="419.00" y2="241.80" stroke="#1a1a1a" stroke-width="0.9" />
<line x1="429.45" y1="229.80" x2="429.45" y2="241.80" stroke="#1a1a1a" stroke-width="0.9" />
<rect x="377.65" y="230.25" width="61.80" height="11.10" fill="none" stroke="#1a1a1a" stroke-width="0.9" />
<rect x="377.20" y="244.40" width="10.45" height="12.00" fill="#37287f" stroke="none" stroke-width="1" />
<rect x="378.50" y="245.70" width="7.85" height="9.40" fill="none" stroke="#fff" stroke-width="0.5" opacity="0.25"/>
<circle cx="382.43" cy="250.40" r="0.95" fill="#fff" opacity="0.85"/>
<rect x="387.65" y="244.40" width="10.45" height="12.00" fill="#37287f" stroke="none" stroke-width="1" />
<rect x="388.95" y="245.70" width="7.85" height="9.40" fill="none" stroke="#fff" stroke-width="0.5" opacity="0.25"/>
<circle cx="392.88" cy="250.40" r="0.95" fill="#fff" opacity="0.85"/>
<rect x="398.10" y="244.40" width="10.45" height="12.00" fill="#3e2f8c" stroke="none" stroke-width="1" />
<rect x="399.40" y="245.70" width="7.85" height="9.40" fill="none" stroke="#fff" stroke-width="0.5" opacity="0.25"/>
<circle cx="403.32" cy="250.40" r="0.95" fill="#fff" opacity="0.85"/>
<rect x="408.55" y="244.40" width="10.45" height="12.00" fill="#6b68b2" stroke="none" stroke-width="1" />
<rect x="409.85" y="245.70" width="7.85" height="9.40" fill="none" stroke="#fff" stroke-width="0.5" opacity="0.25"/>
<circle cx="413.78" cy="250.40" r="0.95" fill="#fff" opacity="0.85"/>
<rect x="419.00" y="244.40" width="10.45" height="12.00" fill="#9f9ed3" stroke="none" stroke-width="1" />
<rect x="420.30" y="245.70" width="7.85" height="9.40" fill="none" stroke="#fff" stroke-width="0.5" opacity="0.25"/>
<rect x="429.45" y="244.40" width="10.45" height="12.00" fill="#e4e4f3" stroke="none" stroke-width="1" />
<rect x="430.75" y="245.70" width="7.85" height="9.40" fill="none" stroke="#fff" stroke-width="0.5" opacity="0.25"/>
<line x1="387.65" y1="244.40" x2="387.65" y2="256.40" stroke="#1a1a1a" stroke-width="0.9" />
<line x1="398.10" y1="244.40" x2="398.10" y2="256.40" stroke="#1a1a1a" stroke-width="0.9" />
<line x1="408.55" y1="244.40" x2="408.55" y2="256.40" stroke="#1a1a1a" stroke-width="0.9" />
<line x1="419.00" y1="244.40" x2="419.00" y2="256.40" stroke="#1a1a1a" stroke-width="0.9" />
<line x1="429.45" y1="244.40" x2="429.45" y2="256.40" stroke="#1a1a1a" stroke-width="0.9" />
<rect x="377.65" y="244.85" width="61.80" height="11.10" fill="none" stroke="#1a1a1a" stroke-width="0.9" />
<rect x="377.20" y="262.05" width="10.45" height="12.00" fill="#a6a5d6" stroke="none" stroke-width="1" />
<rect x="378.50" y="263.35" width="7.85" height="9.40" fill="none" stroke="#fff" stroke-width="0.5" opacity="0.25"/>
<rect x="387.65" y="262.05" width="10.45" height="12.00" fill="#8c8ac6" stroke="none" stroke-width="1" />
<rect x="388.95" y="263.35" width="7.85" height="9.40" fill="none" stroke="#fff" stroke-width="0.5" opacity="0.25"/>
<rect x="398.10" y="262.05" width="10.45" height="12.00" fill="#b5b4dd" stroke="none" stroke-width="1" />
<rect x="399.40" y="263.35" width="7.85" height="9.40" fill="none" stroke="#fff" stroke-width="0.5" opacity="0.25"/>
<rect x="408.55" y="262.05" width="10.45" height="12.00" fill="#e29e9c" stroke="none" stroke-width="1" />
<rect x="409.85" y="263.35" width="7.85" height="9.40" fill="none" stroke="#fff" stroke-width="0.5" opacity="0.25"/>
<rect x="419.00" y="262.05" width="10.45" height="12.00" fill="#cc4a3c" stroke="none" stroke-width="1" />
<rect x="420.30" y="263.35" width="7.85" height="9.40" fill="none" stroke="#fff" stroke-width="0.5" opacity="0.25"/>
<rect x="429.45" y="262.05" width="10.45" height="12.00" fill="#c63a1a" stroke="none" stroke-width="1" />
<rect x="430.75" y="263.35" width="7.85" height="9.40" fill="none" stroke="#fff" stroke-width="0.5" opacity="0.25"/>
<line x1="387.65" y1="262.05" x2="387.65" y2="274.05" stroke="#1a1a1a" stroke-width="0.9" />
<line x1="398.10" y1="262.05" x2="398.10" y2="274.05" stroke="#1a1a1a" stroke-width="0.9" />
<line x1="408.55" y1="262.05" x2="408.55" y2="274.05" stroke="#1a1a1a" stroke-width="0.9" />
<line x1="419.00" y1="262.05" x2="419.00" y2="274.05" stroke="#1a1a1a" stroke-width="0.9" />
<line x1="429.45" y1="262.05" x2="429.45" y2="274.05" stroke="#1a1a1a" stroke-width="0.9" />
<rect x="377.65" y="262.50" width="61.80" height="11.10" fill="none" stroke="#1a1a1a" stroke-width="0.9" />
<rect x="377.20" y="276.65" width="10.45" height="12.00" fill="#37287f" stroke="none" stroke-width="1" />
<rect x="378.50" y="277.95" width="7.85" height="9.40" fill="none" stroke="#fff" stroke-width="0.5" opacity="0.25"/>
<circle cx="382.43" cy="282.65" r="0.95" fill="#fff" opacity="0.85"/>
<rect x="387.65" y="276.65" width="10.45" height="12.00" fill="#37287f" stroke="none" stroke-width="1" />
<rect x="388.95" y="277.95" width="7.85" height="9.40" fill="none" stroke="#fff" stroke-width="0.5" opacity="0.25"/>
<circle cx="392.88" cy="282.65" r="0.95" fill="#fff" opacity="0.85"/>
<rect x="398.10" y="276.65" width="10.45" height="12.00" fill="#37287f" stroke="none" stroke-width="1" />
<rect x="399.40" y="277.95" width="7.85" height="9.40" fill="none" stroke="#fff" stroke-width="0.5" opacity="0.25"/>
<circle cx="403.32" cy="282.65" r="0.95" fill="#fff" opacity="0.85"/>
<rect x="408.55" y="276.65" width="10.45" height="12.00" fill="#625eac" stroke="none" stroke-width="1" />
<rect x="409.85" y="277.95" width="7.85" height="9.40" fill="none" stroke="#fff" stroke-width="0.5" opacity="0.25"/>
<rect x="419.00" y="276.65" width="10.45" height="12.00" fill="#7370b6" stroke="none" stroke-width="1" />
<rect x="420.30" y="277.95" width="7.85" height="9.40" fill="none" stroke="#fff" stroke-width="0.5" opacity="0.25"/>
<rect x="429.45" y="276.65" width="10.45" height="12.00" fill="#a9a8d8" stroke="none" stroke-width="1" />
<rect x="430.75" y="277.95" width="7.85" height="9.40" fill="none" stroke="#fff" stroke-width="0.5" opacity="0.25"/>
<circle cx="434.68" cy="282.65" r="0.95" fill="#fff" opacity="0.85"/>
<line x1="387.65" y1="276.65" x2="387.65" y2="288.65" stroke="#1a1a1a" stroke-width="0.9" />
<line x1="398.10" y1="276.65" x2="398.10" y2="288.65" stroke="#1a1a1a" stroke-width="0.9" />
<line x1="408.55" y1="276.65" x2="408.55" y2="288.65" stroke="#1a1a1a" stroke-width="0.9" />
<line x1="419.00" y1="276.65" x2="419.00" y2="288.65" stroke="#1a1a1a" stroke-width="0.9" />
<line x1="429.45" y1="276.65" x2="429.45" y2="288.65" stroke="#1a1a1a" stroke-width="0.9" />
<rect x="377.65" y="277.10" width="61.80" height="11.10" fill="none" stroke="#1a1a1a" stroke-width="0.9" />
<rect x="377.20" y="294.30" width="10.45" height="12.00" fill="#a4a3d5" stroke="none" stroke-width="1" />
<rect x="378.50" y="295.60" width="7.85" height="9.40" fill="none" stroke="#fff" stroke-width="0.5" opacity="0.25"/>
<rect x="387.65" y="294.30" width="10.45" height="12.00" fill="#cacaea" stroke="none" stroke-width="1" />
<rect x="388.95" y="295.60" width="7.85" height="9.40" fill="none" stroke="#fff" stroke-width="0.5" opacity="0.25"/>
<rect x="398.10" y="294.30" width="10.45" height="12.00" fill="#c3c3e6" stroke="none" stroke-width="1" />
<rect x="399.40" y="295.60" width="7.85" height="9.40" fill="none" stroke="#fff" stroke-width="0.5" opacity="0.25"/>
<rect x="408.55" y="294.30" width="10.45" height="12.00" fill="#a09fd3" stroke="none" stroke-width="1" />
<rect x="409.85" y="295.60" width="7.85" height="9.40" fill="none" stroke="#fff" stroke-width="0.5" opacity="0.25"/>
<rect x="419.00" y="294.30" width="10.45" height="12.00" fill="#ebebf7" stroke="none" stroke-width="1" />
<rect x="420.30" y="295.60" width="7.85" height="9.40" fill="none" stroke="#fff" stroke-width="0.5" opacity="0.25"/>
<rect x="429.45" y="294.30" width="10.45" height="12.00" fill="#fdf8f8" stroke="none" stroke-width="1" />
<rect x="430.75" y="295.60" width="7.85" height="9.40" fill="none" stroke="#fff" stroke-width="0.5" opacity="0.25"/>
<line x1="387.65" y1="294.30" x2="387.65" y2="306.30" stroke="#1a1a1a" stroke-width="0.9" />
<line x1="398.10" y1="294.30" x2="398.10" y2="306.30" stroke="#1a1a1a" stroke-width="0.9" />
<line x1="408.55" y1="294.30" x2="408.55" y2="306.30" stroke="#1a1a1a" stroke-width="0.9" />
<line x1="419.00" y1="294.30" x2="419.00" y2="306.30" stroke="#1a1a1a" stroke-width="0.9" />
<line x1="429.45" y1="294.30" x2="429.45" y2="306.30" stroke="#1a1a1a" stroke-width="0.9" />
<rect x="377.65" y="294.75" width="61.80" height="11.10" fill="none" stroke="#1a1a1a" stroke-width="0.9" />
<rect x="377.20" y="308.90" width="10.45" height="12.00" fill="#37287f" stroke="none" stroke-width="1" />
<rect x="378.50" y="310.20" width="7.85" height="9.40" fill="none" stroke="#fff" stroke-width="0.5" opacity="0.25"/>
<circle cx="382.43" cy="314.90" r="0.95" fill="#fff" opacity="0.85"/>
<rect x="387.65" y="308.90" width="10.45" height="12.00" fill="#cacaea" stroke="none" stroke-width="1" />
<rect x="388.95" y="310.20" width="7.85" height="9.40" fill="none" stroke="#fff" stroke-width="0.5" opacity="0.25"/>
<rect x="398.10" y="308.90" width="10.45" height="12.00" fill="#b8b8e0" stroke="none" stroke-width="1" />
<rect x="399.40" y="310.20" width="7.85" height="9.40" fill="none" stroke="#fff" stroke-width="0.5" opacity="0.25"/>
<rect x="408.55" y="308.90" width="10.45" height="12.00" fill="#e59c98" stroke="none" stroke-width="1" />
<rect x="409.85" y="310.20" width="7.85" height="9.40" fill="none" stroke="#fff" stroke-width="0.5" opacity="0.25"/>
<rect x="419.00" y="308.90" width="10.45" height="12.00" fill="#c93c1d" stroke="none" stroke-width="1" />
<rect x="420.30" y="310.20" width="7.85" height="9.40" fill="none" stroke="#fff" stroke-width="0.5" opacity="0.25"/>
<circle cx="424.23" cy="314.90" r="0.95" fill="#fff" opacity="0.85"/>
<rect x="429.45" y="308.90" width="10.45" height="12.00" fill="#c84030" stroke="none" stroke-width="1" />
<rect x="430.75" y="310.20" width="7.85" height="9.40" fill="none" stroke="#fff" stroke-width="0.5" opacity="0.25"/>
<line x1="387.65" y1="308.90" x2="387.65" y2="320.90" stroke="#1a1a1a" stroke-width="0.9" />
<line x1="398.10" y1="308.90" x2="398.10" y2="320.90" stroke="#1a1a1a" stroke-width="0.9" />
<line x1="408.55" y1="308.90" x2="408.55" y2="320.90" stroke="#1a1a1a" stroke-width="0.9" />
<line x1="419.00" y1="308.90" x2="419.00" y2="320.90" stroke="#1a1a1a" stroke-width="0.9" />
<line x1="429.45" y1="308.90" x2="429.45" y2="320.90" stroke="#1a1a1a" stroke-width="0.9" />
<rect x="377.65" y="309.35" width="61.80" height="11.10" fill="none" stroke="#1a1a1a" stroke-width="0.9" />
<text x="482.4" y="150.9" font-size="8.4" text-anchor="middle" fill="#111" stroke="#111" stroke-width="0.12">CD8<tspan font-size="6.6" dy="-3.3">+</tspan><tspan dy="3.3"> T cells</tspan></text>
<text x="456.23" y="161.60" font-size="6.4" text-anchor="middle" fill="#222"  stroke="#222" stroke-width="0.07">1</text>
<text x="466.68" y="161.60" font-size="6.4" text-anchor="middle" fill="#222"  stroke="#222" stroke-width="0.07">2</text>
<text x="477.12" y="161.60" font-size="6.4" text-anchor="middle" fill="#222"  stroke="#222" stroke-width="0.07">3</text>
<text x="487.57" y="161.60" font-size="6.4" text-anchor="middle" fill="#222"  stroke="#222" stroke-width="0.07">6</text>
<text x="498.02" y="161.60" font-size="6.4" text-anchor="middle" fill="#222"  stroke="#222" stroke-width="0.07">9</text>
<text x="508.48" y="161.60" font-size="6.4" text-anchor="middle" fill="#222"  stroke="#222" stroke-width="0.07">12</text>
<rect x="451.00" y="165.30" width="10.45" height="12.00" fill="#625cac" stroke="none" stroke-width="1" />
<rect x="452.30" y="166.60" width="7.85" height="9.40" fill="none" stroke="#fff" stroke-width="0.5" opacity="0.25"/>
<rect x="461.45" y="165.30" width="10.45" height="12.00" fill="#b2b1db" stroke="none" stroke-width="1" />
<rect x="462.75" y="166.60" width="7.85" height="9.40" fill="none" stroke="#fff" stroke-width="0.5" opacity="0.25"/>
<rect x="471.90" y="165.30" width="10.45" height="12.00" fill="#dcdcf0" stroke="none" stroke-width="1" />
<rect x="473.20" y="166.60" width="7.85" height="9.40" fill="none" stroke="#fff" stroke-width="0.5" opacity="0.25"/>
<rect x="482.35" y="165.30" width="10.45" height="12.00" fill="#e8b0ae" stroke="none" stroke-width="1" />
<rect x="483.65" y="166.60" width="7.85" height="9.40" fill="none" stroke="#fff" stroke-width="0.5" opacity="0.25"/>
<rect x="492.80" y="165.30" width="10.45" height="12.00" fill="#cc4a3e" stroke="none" stroke-width="1" />
<rect x="494.10" y="166.60" width="7.85" height="9.40" fill="none" stroke="#fff" stroke-width="0.5" opacity="0.25"/>
<rect x="503.25" y="165.30" width="10.45" height="12.00" fill="#c94236" stroke="none" stroke-width="1" />
<rect x="504.55" y="166.60" width="7.85" height="9.40" fill="none" stroke="#fff" stroke-width="0.5" opacity="0.25"/>
<line x1="461.45" y1="165.30" x2="461.45" y2="177.30" stroke="#1a1a1a" stroke-width="0.9" />
<line x1="471.90" y1="165.30" x2="471.90" y2="177.30" stroke="#1a1a1a" stroke-width="0.9" />
<line x1="482.35" y1="165.30" x2="482.35" y2="177.30" stroke="#1a1a1a" stroke-width="0.9" />
<line x1="492.80" y1="165.30" x2="492.80" y2="177.30" stroke="#1a1a1a" stroke-width="0.9" />
<line x1="503.25" y1="165.30" x2="503.25" y2="177.30" stroke="#1a1a1a" stroke-width="0.9" />
<rect x="451.45" y="165.75" width="61.80" height="11.10" fill="none" stroke="#1a1a1a" stroke-width="0.9" />
<rect x="451.00" y="179.90" width="10.45" height="12.00" fill="#37287f" stroke="none" stroke-width="1" />
<rect x="452.30" y="181.20" width="7.85" height="9.40" fill="none" stroke="#fff" stroke-width="0.5" opacity="0.25"/>
<circle cx="456.23" cy="185.90" r="0.95" fill="#fff" opacity="0.85"/>
<rect x="461.45" y="179.90" width="10.45" height="12.00" fill="#5a53a4" stroke="none" stroke-width="1" />
<rect x="462.75" y="181.20" width="7.85" height="9.40" fill="none" stroke="#fff" stroke-width="0.5" opacity="0.25"/>
<rect x="471.90" y="179.90" width="10.45" height="12.00" fill="#3c2c8a" stroke="none" stroke-width="1" />
<rect x="473.20" y="181.20" width="7.85" height="9.40" fill="none" stroke="#fff" stroke-width="0.5" opacity="0.25"/>
<circle cx="477.12" cy="185.90" r="0.95" fill="#fff" opacity="0.85"/>
<rect x="482.35" y="179.90" width="10.45" height="12.00" fill="#e2a09e" stroke="none" stroke-width="1" />
<rect x="483.65" y="181.20" width="7.85" height="9.40" fill="none" stroke="#fff" stroke-width="0.5" opacity="0.25"/>
<rect x="492.80" y="179.90" width="10.45" height="12.00" fill="#c83c1e" stroke="none" stroke-width="1" />
<rect x="494.10" y="181.20" width="7.85" height="9.40" fill="none" stroke="#fff" stroke-width="0.5" opacity="0.25"/>
<rect x="503.25" y="179.90" width="10.45" height="12.00" fill="#d26a62" stroke="none" stroke-width="1" />
<rect x="504.55" y="181.20" width="7.85" height="9.40" fill="none" stroke="#fff" stroke-width="0.5" opacity="0.25"/>
<line x1="461.45" y1="179.90" x2="461.45" y2="191.90" stroke="#1a1a1a" stroke-width="0.9" />
<line x1="471.90" y1="179.90" x2="471.90" y2="191.90" stroke="#1a1a1a" stroke-width="0.9" />
<line x1="482.35" y1="179.90" x2="482.35" y2="191.90" stroke="#1a1a1a" stroke-width="0.9" />
<line x1="492.80" y1="179.90" x2="492.80" y2="191.90" stroke="#1a1a1a" stroke-width="0.9" />
<line x1="503.25" y1="179.90" x2="503.25" y2="191.90" stroke="#1a1a1a" stroke-width="0.9" />
<rect x="451.45" y="180.35" width="61.80" height="11.10" fill="none" stroke="#1a1a1a" stroke-width="0.9" />
<rect x="451.00" y="197.55" width="10.45" height="12.00" fill="#cfcfeb" stroke="none" stroke-width="1" />
<rect x="452.30" y="198.85" width="7.85" height="9.40" fill="none" stroke="#fff" stroke-width="0.5" opacity="0.25"/>
<rect x="461.45" y="197.55" width="10.45" height="12.00" fill="#f8f8fc" stroke="none" stroke-width="1" />
<rect x="462.75" y="198.85" width="7.85" height="9.40" fill="none" stroke="#fff" stroke-width="0.5" opacity="0.25"/>
<rect x="471.90" y="197.55" width="10.45" height="12.00" fill="#fcf8f8" stroke="none" stroke-width="1" />
<rect x="473.20" y="198.85" width="7.85" height="9.40" fill="none" stroke="#fff" stroke-width="0.5" opacity="0.25"/>
<rect x="482.35" y="197.55" width="10.45" height="12.00" fill="#e4aaa8" stroke="none" stroke-width="1" />
<rect x="483.65" y="198.85" width="7.85" height="9.40" fill="none" stroke="#fff" stroke-width="0.5" opacity="0.25"/>
<rect x="492.80" y="197.55" width="10.45" height="12.00" fill="#c63a1c" stroke="none" stroke-width="1" />
<rect x="494.10" y="198.85" width="7.85" height="9.40" fill="none" stroke="#fff" stroke-width="0.5" opacity="0.25"/>
<rect x="503.25" y="197.55" width="10.45" height="12.00" fill="#f0cccb" stroke="none" stroke-width="1" />
<rect x="504.55" y="198.85" width="7.85" height="9.40" fill="none" stroke="#fff" stroke-width="0.5" opacity="0.25"/>
<line x1="461.45" y1="197.55" x2="461.45" y2="209.55" stroke="#1a1a1a" stroke-width="0.9" />
<line x1="471.90" y1="197.55" x2="471.90" y2="209.55" stroke="#1a1a1a" stroke-width="0.9" />
<line x1="482.35" y1="197.55" x2="482.35" y2="209.55" stroke="#1a1a1a" stroke-width="0.9" />
<line x1="492.80" y1="197.55" x2="492.80" y2="209.55" stroke="#1a1a1a" stroke-width="0.9" />
<line x1="503.25" y1="197.55" x2="503.25" y2="209.55" stroke="#1a1a1a" stroke-width="0.9" />
<rect x="451.45" y="198.00" width="61.80" height="11.10" fill="none" stroke="#1a1a1a" stroke-width="0.9" />
<rect x="451.00" y="212.15" width="10.45" height="12.00" fill="#37287f" stroke="none" stroke-width="1" />
<rect x="452.30" y="213.45" width="7.85" height="9.40" fill="none" stroke="#fff" stroke-width="0.5" opacity="0.25"/>
<circle cx="456.23" cy="218.15" r="0.95" fill="#fff" opacity="0.85"/>
<rect x="461.45" y="212.15" width="10.45" height="12.00" fill="#37287f" stroke="none" stroke-width="1" />
<rect x="462.75" y="213.45" width="7.85" height="9.40" fill="none" stroke="#fff" stroke-width="0.5" opacity="0.25"/>
<circle cx="466.68" cy="218.15" r="0.95" fill="#fff" opacity="0.85"/>
<rect x="471.90" y="212.15" width="10.45" height="12.00" fill="#37287f" stroke="none" stroke-width="1" />
<rect x="473.20" y="213.45" width="7.85" height="9.40" fill="none" stroke="#fff" stroke-width="0.5" opacity="0.25"/>
<circle cx="477.12" cy="218.15" r="0.95" fill="#fff" opacity="0.85"/>
<rect x="482.35" y="212.15" width="10.45" height="12.00" fill="#7c7abc" stroke="none" stroke-width="1" />
<rect x="483.65" y="213.45" width="7.85" height="9.40" fill="none" stroke="#fff" stroke-width="0.5" opacity="0.25"/>
<rect x="492.80" y="212.15" width="10.45" height="12.00" fill="#a09fd3" stroke="none" stroke-width="1" />
<rect x="494.10" y="213.45" width="7.85" height="9.40" fill="none" stroke="#fff" stroke-width="0.5" opacity="0.25"/>
<rect x="503.25" y="212.15" width="10.45" height="12.00" fill="#d0d0ec" stroke="none" stroke-width="1" />
<rect x="504.55" y="213.45" width="7.85" height="9.40" fill="none" stroke="#fff" stroke-width="0.5" opacity="0.25"/>
<line x1="461.45" y1="212.15" x2="461.45" y2="224.15" stroke="#1a1a1a" stroke-width="0.9" />
<line x1="471.90" y1="212.15" x2="471.90" y2="224.15" stroke="#1a1a1a" stroke-width="0.9" />
<line x1="482.35" y1="212.15" x2="482.35" y2="224.15" stroke="#1a1a1a" stroke-width="0.9" />
<line x1="492.80" y1="212.15" x2="492.80" y2="224.15" stroke="#1a1a1a" stroke-width="0.9" />
<line x1="503.25" y1="212.15" x2="503.25" y2="224.15" stroke="#1a1a1a" stroke-width="0.9" />
<rect x="451.45" y="212.60" width="61.80" height="11.10" fill="none" stroke="#1a1a1a" stroke-width="0.9" />
<rect x="451.00" y="229.80" width="10.45" height="12.00" fill="#3a2a88" stroke="none" stroke-width="1" />
<rect x="452.30" y="231.10" width="7.85" height="9.40" fill="none" stroke="#fff" stroke-width="0.5" opacity="0.25"/>
<rect x="461.45" y="229.80" width="10.45" height="12.00" fill="#a6a5d6" stroke="none" stroke-width="1" />
<rect x="462.75" y="231.10" width="7.85" height="9.40" fill="none" stroke="#fff" stroke-width="0.5" opacity="0.25"/>
<rect x="471.90" y="229.80" width="10.45" height="12.00" fill="#a9a8d8" stroke="none" stroke-width="1" />
<rect x="473.20" y="231.10" width="7.85" height="9.40" fill="none" stroke="#fff" stroke-width="0.5" opacity="0.25"/>
<rect x="482.35" y="229.80" width="10.45" height="12.00" fill="#a4a3d5" stroke="none" stroke-width="1" />
<rect x="483.65" y="231.10" width="7.85" height="9.40" fill="none" stroke="#fff" stroke-width="0.5" opacity="0.25"/>
<rect x="492.80" y="229.80" width="10.45" height="12.00" fill="#a6a5d6" stroke="none" stroke-width="1" />
<rect x="494.10" y="231.10" width="7.85" height="9.40" fill="none" stroke="#fff" stroke-width="0.5" opacity="0.25"/>
<rect x="503.25" y="229.80" width="10.45" height="12.00" fill="#6e6ab4" stroke="none" stroke-width="1" />
<rect x="504.55" y="231.10" width="7.85" height="9.40" fill="none" stroke="#fff" stroke-width="0.5" opacity="0.25"/>
<line x1="461.45" y1="229.80" x2="461.45" y2="241.80" stroke="#1a1a1a" stroke-width="0.9" />
<line x1="471.90" y1="229.80" x2="471.90" y2="241.80" stroke="#1a1a1a" stroke-width="0.9" />
<line x1="482.35" y1="229.80" x2="482.35" y2="241.80" stroke="#1a1a1a" stroke-width="0.9" />
<line x1="492.80" y1="229.80" x2="492.80" y2="241.80" stroke="#1a1a1a" stroke-width="0.9" />
<line x1="503.25" y1="229.80" x2="503.25" y2="241.80" stroke="#1a1a1a" stroke-width="0.9" />
<rect x="451.45" y="230.25" width="61.80" height="11.10" fill="none" stroke="#1a1a1a" stroke-width="0.9" />
<rect x="451.00" y="244.40" width="10.45" height="12.00" fill="#3a2a88" stroke="none" stroke-width="1" />
<rect x="452.30" y="245.70" width="7.85" height="9.40" fill="none" stroke="#fff" stroke-width="0.5" opacity="0.25"/>
<rect x="461.45" y="244.40" width="10.45" height="12.00" fill="#a3a2d4" stroke="none" stroke-width="1" />
<rect x="462.75" y="245.70" width="7.85" height="9.40" fill="none" stroke="#fff" stroke-width="0.5" opacity="0.25"/>
<rect x="471.90" y="244.40" width="10.45" height="12.00" fill="#3a2a88" stroke="none" stroke-width="1" />
<rect x="473.20" y="245.70" width="7.85" height="9.40" fill="none" stroke="#fff" stroke-width="0.5" opacity="0.25"/>
<circle cx="477.12" cy="250.40" r="0.95" fill="#fff" opacity="0.85"/>
<rect x="482.35" y="244.40" width="10.45" height="12.00" fill="#ffffff" stroke="none" stroke-width="1" />
<rect x="483.65" y="245.70" width="7.85" height="9.40" fill="none" stroke="#fff" stroke-width="0.5" opacity="0.25"/>
<rect x="492.80" y="244.40" width="10.45" height="12.00" fill="#d05850" stroke="none" stroke-width="1" />
<rect x="494.10" y="245.70" width="7.85" height="9.40" fill="none" stroke="#fff" stroke-width="0.5" opacity="0.25"/>
<rect x="503.25" y="244.40" width="10.45" height="12.00" fill="#c93c1d" stroke="none" stroke-width="1" />
<rect x="504.55" y="245.70" width="7.85" height="9.40" fill="none" stroke="#fff" stroke-width="0.5" opacity="0.25"/>
<circle cx="508.48" cy="250.40" r="0.95" fill="#fff" opacity="0.85"/>
<line x1="461.45" y1="244.40" x2="461.45" y2="256.40" stroke="#1a1a1a" stroke-width="0.9" />
<line x1="471.90" y1="244.40" x2="471.90" y2="256.40" stroke="#1a1a1a" stroke-width="0.9" />
<line x1="482.35" y1="244.40" x2="482.35" y2="256.40" stroke="#1a1a1a" stroke-width="0.9" />
<line x1="492.80" y1="244.40" x2="492.80" y2="256.40" stroke="#1a1a1a" stroke-width="0.9" />
<line x1="503.25" y1="244.40" x2="503.25" y2="256.40" stroke="#1a1a1a" stroke-width="0.9" />
<rect x="451.45" y="244.85" width="61.80" height="11.10" fill="none" stroke="#1a1a1a" stroke-width="0.9" />
<rect x="451.00" y="262.05" width="10.45" height="12.00" fill="#8a88c5" stroke="none" stroke-width="1" />
<rect x="452.30" y="263.35" width="7.85" height="9.40" fill="none" stroke="#fff" stroke-width="0.5" opacity="0.25"/>
<rect x="461.45" y="262.05" width="10.45" height="12.00" fill="#bebde2" stroke="none" stroke-width="1" />
<rect x="462.75" y="263.35" width="7.85" height="9.40" fill="none" stroke="#fff" stroke-width="0.5" opacity="0.25"/>
<rect x="471.90" y="262.05" width="10.45" height="12.00" fill="#a9a8d8" stroke="none" stroke-width="1" />
<rect x="473.20" y="263.35" width="7.85" height="9.40" fill="none" stroke="#fff" stroke-width="0.5" opacity="0.25"/>
<rect x="482.35" y="262.05" width="10.45" height="12.00" fill="#cc4a3e" stroke="none" stroke-width="1" />
<rect x="483.65" y="263.35" width="7.85" height="9.40" fill="none" stroke="#fff" stroke-width="0.5" opacity="0.25"/>
<rect x="492.80" y="262.05" width="10.45" height="12.00" fill="#ca4436" stroke="none" stroke-width="1" />
<rect x="494.10" y="263.35" width="7.85" height="9.40" fill="none" stroke="#fff" stroke-width="0.5" opacity="0.25"/>
<rect x="503.25" y="262.05" width="10.45" height="12.00" fill="#c63a1c" stroke="none" stroke-width="1" />
<rect x="504.55" y="263.35" width="7.85" height="9.40" fill="none" stroke="#fff" stroke-width="0.5" opacity="0.25"/>
<line x1="461.45" y1="262.05" x2="461.45" y2="274.05" stroke="#1a1a1a" stroke-width="0.9" />
<line x1="471.90" y1="262.05" x2="471.90" y2="274.05" stroke="#1a1a1a" stroke-width="0.9" />
<line x1="482.35" y1="262.05" x2="482.35" y2="274.05" stroke="#1a1a1a" stroke-width="0.9" />
<line x1="492.80" y1="262.05" x2="492.80" y2="274.05" stroke="#1a1a1a" stroke-width="0.9" />
<line x1="503.25" y1="262.05" x2="503.25" y2="274.05" stroke="#1a1a1a" stroke-width="0.9" />
<rect x="451.45" y="262.50" width="61.80" height="11.10" fill="none" stroke="#1a1a1a" stroke-width="0.9" />
<rect x="451.00" y="276.65" width="10.45" height="12.00" fill="#37287f" stroke="none" stroke-width="1" />
<rect x="452.30" y="277.95" width="7.85" height="9.40" fill="none" stroke="#fff" stroke-width="0.5" opacity="0.25"/>
<circle cx="456.23" cy="282.65" r="0.95" fill="#fff" opacity="0.85"/>
<rect x="461.45" y="276.65" width="10.45" height="12.00" fill="#4e4499" stroke="none" stroke-width="1" />
<rect x="462.75" y="277.95" width="7.85" height="9.40" fill="none" stroke="#fff" stroke-width="0.5" opacity="0.25"/>
<rect x="471.90" y="276.65" width="10.45" height="12.00" fill="#3e2f8c" stroke="none" stroke-width="1" />
<rect x="473.20" y="277.95" width="7.85" height="9.40" fill="none" stroke="#fff" stroke-width="0.5" opacity="0.25"/>
<circle cx="477.12" cy="282.65" r="0.95" fill="#fff" opacity="0.85"/>
<rect x="482.35" y="276.65" width="10.45" height="12.00" fill="#fdfafa" stroke="none" stroke-width="1" />
<rect x="483.65" y="277.95" width="7.85" height="9.40" fill="none" stroke="#fff" stroke-width="0.5" opacity="0.25"/>
<rect x="492.80" y="276.65" width="10.45" height="12.00" fill="#c94438" stroke="none" stroke-width="1" />
<rect x="494.10" y="277.95" width="7.85" height="9.40" fill="none" stroke="#fff" stroke-width="0.5" opacity="0.25"/>
<rect x="503.25" y="276.65" width="10.45" height="12.00" fill="#de8a86" stroke="none" stroke-width="1" />
<rect x="504.55" y="277.95" width="7.85" height="9.40" fill="none" stroke="#fff" stroke-width="0.5" opacity="0.25"/>
<line x1="461.45" y1="276.65" x2="461.45" y2="288.65" stroke="#1a1a1a" stroke-width="0.9" />
<line x1="471.90" y1="276.65" x2="471.90" y2="288.65" stroke="#1a1a1a" stroke-width="0.9" />
<line x1="482.35" y1="276.65" x2="482.35" y2="288.65" stroke="#1a1a1a" stroke-width="0.9" />
<line x1="492.80" y1="276.65" x2="492.80" y2="288.65" stroke="#1a1a1a" stroke-width="0.9" />
<line x1="503.25" y1="276.65" x2="503.25" y2="288.65" stroke="#1a1a1a" stroke-width="0.9" />
<rect x="451.45" y="277.10" width="61.80" height="11.10" fill="none" stroke="#1a1a1a" stroke-width="0.9" />
<rect x="451.00" y="294.30" width="10.45" height="12.00" fill="#44368f" stroke="none" stroke-width="1" />
<rect x="452.30" y="295.60" width="7.85" height="9.40" fill="none" stroke="#fff" stroke-width="0.5" opacity="0.25"/>
<rect x="461.45" y="294.30" width="10.45" height="12.00" fill="#6c68b2" stroke="none" stroke-width="1" />
<rect x="462.75" y="295.60" width="7.85" height="9.40" fill="none" stroke="#fff" stroke-width="0.5" opacity="0.25"/>
<rect x="471.90" y="294.30" width="10.45" height="12.00" fill="#6b67b1" stroke="none" stroke-width="1" />
<rect x="473.20" y="295.60" width="7.85" height="9.40" fill="none" stroke="#fff" stroke-width="0.5" opacity="0.25"/>
<rect x="482.35" y="294.30" width="10.45" height="12.00" fill="#a4a3d5" stroke="none" stroke-width="1" />
<rect x="483.65" y="295.60" width="7.85" height="9.40" fill="none" stroke="#fff" stroke-width="0.5" opacity="0.25"/>
<rect x="492.80" y="294.30" width="10.45" height="12.00" fill="#c5c5e6" stroke="none" stroke-width="1" />
<rect x="494.10" y="295.60" width="7.85" height="9.40" fill="none" stroke="#fff" stroke-width="0.5" opacity="0.25"/>
<rect x="503.25" y="294.30" width="10.45" height="12.00" fill="#fcfcfe" stroke="none" stroke-width="1" />
<rect x="504.55" y="295.60" width="7.85" height="9.40" fill="none" stroke="#fff" stroke-width="0.5" opacity="0.25"/>
<line x1="461.45" y1="294.30" x2="461.45" y2="306.30" stroke="#1a1a1a" stroke-width="0.9" />
<line x1="471.90" y1="294.30" x2="471.90" y2="306.30" stroke="#1a1a1a" stroke-width="0.9" />
<line x1="482.35" y1="294.30" x2="482.35" y2="306.30" stroke="#1a1a1a" stroke-width="0.9" />
<line x1="492.80" y1="294.30" x2="492.80" y2="306.30" stroke="#1a1a1a" stroke-width="0.9" />
<line x1="503.25" y1="294.30" x2="503.25" y2="306.30" stroke="#1a1a1a" stroke-width="0.9" />
<rect x="451.45" y="294.75" width="61.80" height="11.10" fill="none" stroke="#1a1a1a" stroke-width="0.9" />
<rect x="451.00" y="308.90" width="10.45" height="12.00" fill="#3e2f8c" stroke="none" stroke-width="1" />
<rect x="452.30" y="310.20" width="7.85" height="9.40" fill="none" stroke="#fff" stroke-width="0.5" opacity="0.25"/>
<rect x="461.45" y="308.90" width="10.45" height="12.00" fill="#5e58a8" stroke="none" stroke-width="1" />
<rect x="462.75" y="310.20" width="7.85" height="9.40" fill="none" stroke="#fff" stroke-width="0.5" opacity="0.25"/>
<rect x="471.90" y="308.90" width="10.45" height="12.00" fill="#3d2d8a" stroke="none" stroke-width="1" />
<rect x="473.20" y="310.20" width="7.85" height="9.40" fill="none" stroke="#fff" stroke-width="0.5" opacity="0.25"/>
<rect x="482.35" y="308.90" width="10.45" height="12.00" fill="#f2cccb" stroke="none" stroke-width="1" />
<rect x="483.65" y="310.20" width="7.85" height="9.40" fill="none" stroke="#fff" stroke-width="0.5" opacity="0.25"/>
<rect x="492.80" y="308.90" width="10.45" height="12.00" fill="#c93c1d" stroke="none" stroke-width="1" />
<rect x="494.10" y="310.20" width="7.85" height="9.40" fill="none" stroke="#fff" stroke-width="0.5" opacity="0.25"/>
<circle cx="498.03" cy="314.90" r="0.95" fill="#fff" opacity="0.85"/>
<rect x="503.25" y="308.90" width="10.45" height="12.00" fill="#dd8884" stroke="none" stroke-width="1" />
<rect x="504.55" y="310.20" width="7.85" height="9.40" fill="none" stroke="#fff" stroke-width="0.5" opacity="0.25"/>
<line x1="461.45" y1="308.90" x2="461.45" y2="320.90" stroke="#1a1a1a" stroke-width="0.9" />
<line x1="471.90" y1="308.90" x2="471.90" y2="320.90" stroke="#1a1a1a" stroke-width="0.9" />
<line x1="482.35" y1="308.90" x2="482.35" y2="320.90" stroke="#1a1a1a" stroke-width="0.9" />
<line x1="492.80" y1="308.90" x2="492.80" y2="320.90" stroke="#1a1a1a" stroke-width="0.9" />
<line x1="503.25" y1="308.90" x2="503.25" y2="320.90" stroke="#1a1a1a" stroke-width="0.9" />
<rect x="451.45" y="309.35" width="61.80" height="11.10" fill="none" stroke="#1a1a1a" stroke-width="0.9" />
<line x1="371.50" y1="140.00" x2="371.50" y2="320.40" stroke="#111" stroke-width="1.1" />
<line x1="445.60" y1="140.00" x2="445.60" y2="320.40" stroke="#111" stroke-width="1.1" />
<text x="252.30" y="161.50" font-size="6.4" text-anchor="start" fill="#222" textLength="47.7" lengthAdjust="spacingAndGlyphs"  stroke="#222" stroke-width="0.07">Months after HCT</text>
<text x="300.90" y="173.60" font-size="6.3" text-anchor="end" fill="#222"  stroke="#222" stroke-width="0.07">MD</text>
<text x="300.90" y="188.20" font-size="6.3" text-anchor="end" fill="#222"  stroke="#222" stroke-width="0.07">Haplo</text>
<text x="300.90" y="205.85" font-size="6.3" text-anchor="end" fill="#222"  stroke="#222" stroke-width="0.07">MD</text>
<text x="300.90" y="220.45" font-size="6.3" text-anchor="end" fill="#222"  stroke="#222" stroke-width="0.07">Haplo</text>
<text x="300.90" y="238.10" font-size="6.3" text-anchor="end" fill="#222"  stroke="#222" stroke-width="0.07">MD</text>
<text x="300.90" y="252.70" font-size="6.3" text-anchor="end" fill="#222"  stroke="#222" stroke-width="0.07">Haplo</text>
<text x="300.90" y="270.35" font-size="6.3" text-anchor="end" fill="#222"  stroke="#222" stroke-width="0.07">MD</text>
<text x="300.90" y="284.95" font-size="6.3" text-anchor="end" fill="#222"  stroke="#222" stroke-width="0.07">Haplo</text>
<text x="300.90" y="302.60" font-size="6.3" text-anchor="end" fill="#222"  stroke="#222" stroke-width="0.07">MD</text>
<text x="300.90" y="317.20" font-size="6.3" text-anchor="end" fill="#222"  stroke="#222" stroke-width="0.07">Haplo</text>
<text x="252.50" y="173.70" font-size="8.0" text-anchor="start" fill="#111"  stroke="#111" stroke-width="0.12">All</text>
<text x="252.50" y="213.10" font-size="8.0" text-anchor="start" fill="#111"  stroke="#111" stroke-width="0.12">Na&#239;ve</text>
<text x="252.50" y="244.90" font-size="8.0" text-anchor="start" fill="#111"  stroke="#111" stroke-width="0.12">CM</text>
<text x="252.50" y="277.10" font-size="8.0" text-anchor="start" fill="#111"  stroke="#111" stroke-width="0.12">TEMRA</text>
<text x="252.50" y="309.50" font-size="8.0" text-anchor="start" fill="#111"  stroke="#111" stroke-width="0.12">EM</text>
<defs><linearGradient id="cb" x1="0" x2="1" y1="0" y2="0"><stop offset="0" stop-color="#2a1a78"/><stop offset="0.25" stop-color="#8a86c4"/><stop offset="0.5" stop-color="#ffffff"/><stop offset="0.75" stop-color="#e39a92"/><stop offset="1" stop-color="#c63519"/></linearGradient></defs>
<rect x="331.10" y="336.00" width="154.00" height="5.20" fill="url(#cb)" stroke="#333" stroke-width="1" />
<text x="408.10" y="331.20" font-size="8.2" text-anchor="middle" fill="#111" textLength="58" lengthAdjust="spacingAndGlyphs" stroke="#111" stroke-width="0.18">Median absolute count</text>
<text x="330.80" y="350.00" font-size="6.0" text-anchor="middle" fill="#222" textLength="9.6" lengthAdjust="spacingAndGlyphs"  stroke="#222" stroke-width="0.07">Min</text>
<text x="485.20" y="350.00" font-size="6.0" text-anchor="middle" fill="#222" textLength="11" lengthAdjust="spacingAndGlyphs"  stroke="#222" stroke-width="0.07">Max</text>
<text x="57.10" y="298.80" font-size="7.9" text-anchor="middle" fill="#111"  stroke="#111" stroke-width="0.12">Tcon</text>
<text x="99.50" y="298.80" font-size="7.9" text-anchor="middle" fill="#111"  stroke="#111" stroke-width="0.12">Treg</text>
<text x="141.70" y="298.80" font-size="7.9" text-anchor="middle" fill="#111"  stroke="#111" stroke-width="0.12">CD8</text>
<rect x="39.70" y="303.80" width="37.60" height="32.80" fill="none" stroke="#c0c0c0" stroke-width="1.05" />
<rect x="58.80" y="304.90" width="17.60" height="30.60" fill="none" stroke="#999" stroke-width="0.85" />
<rect x="39.70" y="460.80" width="37.60" height="32.80" fill="none" stroke="#c0c0c0" stroke-width="1.05" />
<rect x="58.80" y="461.90" width="17.60" height="30.60" fill="none" stroke="#999" stroke-width="0.85" />
<rect x="39.70" y="341.70" width="37.60" height="32.80" fill="none" stroke="#c0c0c0" stroke-width="1.05" />
<rect x="58.80" y="342.80" width="17.60" height="30.60" fill="none" stroke="#999" stroke-width="0.85" />
<text x="74.80" y="348.00" font-size="5.3" text-anchor="end" fill="#222"  stroke="#222" stroke-width="0.07">48%</text>
<rect x="39.70" y="498.90" width="37.60" height="32.80" fill="none" stroke="#c0c0c0" stroke-width="1.05" />
<rect x="58.80" y="500.00" width="17.60" height="30.60" fill="none" stroke="#999" stroke-width="0.85" />
<text x="74.80" y="505.20" font-size="5.3" text-anchor="end" fill="#222"  stroke="#222" stroke-width="0.07">4%</text>
<rect x="80.90" y="341.70" width="37.60" height="32.80" fill="none" stroke="#c0c0c0" stroke-width="1.05" />
<rect x="100.00" y="342.80" width="17.60" height="30.60" fill="none" stroke="#999" stroke-width="0.85" />
<text x="116.00" y="348.00" font-size="5.3" text-anchor="end" fill="#222"  stroke="#222" stroke-width="0.07">25%</text>
<rect x="80.90" y="498.90" width="37.60" height="32.80" fill="none" stroke="#c0c0c0" stroke-width="1.05" />
<rect x="100.00" y="500.00" width="17.60" height="30.60" fill="none" stroke="#999" stroke-width="0.85" />
<text x="116.00" y="505.20" font-size="5.3" text-anchor="end" fill="#222"  stroke="#222" stroke-width="0.07">4%</text>
<rect x="122.70" y="341.70" width="37.60" height="32.80" fill="none" stroke="#c0c0c0" stroke-width="1.05" />
<rect x="141.80" y="342.80" width="17.60" height="30.60" fill="none" stroke="#999" stroke-width="0.85" />
<text x="157.80" y="348.00" font-size="5.3" text-anchor="end" fill="#222"  stroke="#222" stroke-width="0.07">12%</text>
<rect x="122.70" y="498.90" width="37.60" height="32.80" fill="none" stroke="#c0c0c0" stroke-width="1.05" />
<rect x="141.80" y="500.00" width="17.60" height="30.60" fill="none" stroke="#999" stroke-width="0.85" />
<text x="157.80" y="505.20" font-size="5.3" text-anchor="end" fill="#222"  stroke="#222" stroke-width="0.07">8%</text>
<rect x="39.70" y="379.40" width="37.60" height="32.80" fill="none" stroke="#c0c0c0" stroke-width="1.05" />
<rect x="58.80" y="380.50" width="17.60" height="30.60" fill="none" stroke="#999" stroke-width="0.85" />
<text x="74.80" y="385.70" font-size="5.3" text-anchor="end" fill="#222"  stroke="#222" stroke-width="0.07">53%</text>
<rect x="39.70" y="536.60" width="37.60" height="32.80" fill="none" stroke="#c0c0c0" stroke-width="1.05" />
<rect x="58.80" y="537.70" width="17.60" height="30.60" fill="none" stroke="#999" stroke-width="0.85" />
<text x="74.80" y="542.90" font-size="5.3" text-anchor="end" fill="#222"  stroke="#222" stroke-width="0.07">42%</text>
<rect x="80.90" y="379.40" width="37.60" height="32.80" fill="none" stroke="#c0c0c0" stroke-width="1.05" />
<rect x="100.00" y="380.50" width="17.60" height="30.60" fill="none" stroke="#999" stroke-width="0.85" />
<text x="116.00" y="385.70" font-size="5.3" text-anchor="end" fill="#222"  stroke="#222" stroke-width="0.07">15%</text>
<rect x="80.90" y="536.60" width="37.60" height="32.80" fill="none" stroke="#c0c0c0" stroke-width="1.05" />
<rect x="100.00" y="537.70" width="17.60" height="30.60" fill="none" stroke="#999" stroke-width="0.85" />
<text x="116.00" y="542.90" font-size="5.3" text-anchor="end" fill="#222"  stroke="#222" stroke-width="0.07">45%</text>
<rect x="122.70" y="379.40" width="37.60" height="32.80" fill="none" stroke="#c0c0c0" stroke-width="1.05" />
<rect x="141.80" y="380.50" width="17.60" height="30.60" fill="none" stroke="#999" stroke-width="0.85" />
<text x="157.80" y="385.70" font-size="5.3" text-anchor="end" fill="#222"  stroke="#222" stroke-width="0.07">31%</text>
<rect x="122.70" y="536.60" width="37.60" height="32.80" fill="none" stroke="#c0c0c0" stroke-width="1.05" />
<rect x="141.80" y="537.70" width="17.60" height="30.60" fill="none" stroke="#999" stroke-width="0.85" />
<text x="157.80" y="542.90" font-size="5.3" text-anchor="end" fill="#222"  stroke="#222" stroke-width="0.07">29%</text>
<rect x="39.70" y="417.30" width="37.60" height="32.80" fill="none" stroke="#c0c0c0" stroke-width="1.05" />
<rect x="58.80" y="418.40" width="17.60" height="30.60" fill="none" stroke="#999" stroke-width="0.85" />
<text x="74.80" y="423.60" font-size="5.3" text-anchor="end" fill="#222"  stroke="#222" stroke-width="0.07">9%</text>
<rect x="39.70" y="574.60" width="37.60" height="32.80" fill="none" stroke="#c0c0c0" stroke-width="1.05" />
<rect x="58.80" y="575.70" width="17.60" height="30.60" fill="none" stroke="#999" stroke-width="0.85" />
<text x="74.80" y="580.90" font-size="5.3" text-anchor="end" fill="#222"  stroke="#222" stroke-width="0.07">18%</text>
<rect x="80.90" y="417.30" width="37.60" height="32.80" fill="none" stroke="#c0c0c0" stroke-width="1.05" />
<rect x="100.00" y="418.40" width="17.60" height="30.60" fill="none" stroke="#999" stroke-width="0.85" />
<text x="116.00" y="423.60" font-size="5.3" text-anchor="end" fill="#222"  stroke="#222" stroke-width="0.07">0%</text>
<rect x="80.90" y="574.60" width="37.60" height="32.80" fill="none" stroke="#c0c0c0" stroke-width="1.05" />
<rect x="100.00" y="575.70" width="17.60" height="30.60" fill="none" stroke="#999" stroke-width="0.85" />
<text x="116.00" y="580.90" font-size="5.3" text-anchor="end" fill="#222"  stroke="#222" stroke-width="0.07">33%</text>
<rect x="122.70" y="417.30" width="37.60" height="32.80" fill="none" stroke="#c0c0c0" stroke-width="1.05" />
<rect x="141.80" y="418.40" width="17.60" height="30.60" fill="none" stroke="#999" stroke-width="0.85" />
<text x="157.80" y="423.60" font-size="5.3" text-anchor="end" fill="#222"  stroke="#222" stroke-width="0.07">34%</text>
<rect x="122.70" y="574.60" width="37.60" height="32.80" fill="none" stroke="#c0c0c0" stroke-width="1.05" />
<rect x="141.80" y="575.70" width="17.60" height="30.60" fill="none" stroke="#999" stroke-width="0.85" />
<text x="157.80" y="580.90" font-size="5.3" text-anchor="end" fill="#222"  stroke="#222" stroke-width="0.07">18%</text>
<path d="M43.5,318.6 l1.2,0.9 l1,-0.6 l1.3,1.3 M48.5,318.6 C49.5,316.5 53,316.2 54.8,318.2 C56,319.8 54.5,321.6 52.5,321.7 C50.5,321.8 48.8,320.9 48.5,318.6 Z M50.2,318.9 C51,317.9 53,318.1 53.5,319.4" fill="none" stroke="#222" stroke-width="0.75"/><circle cx="51.7" cy="323.3" r="0.6" fill="#222"/>
<path d="M58.04,357.60 L56.79,358.28 L56.62,359.01 L55.73,359.63 L54.34,360.04 L52.72,360.17 L51.44,360.97 L49.55,361.08 L47.63,360.94 L46.24,360.32 L45.18,359.68 L42.93,359.35 L42.26,358.49 L42.30,357.60 L42.72,356.76 L44.51,356.21 L45.84,355.78 L46.45,355.01 L48.22,354.94 L49.80,355.03 L51.25,354.92 L53.10,354.60 L55.54,354.39 L57.05,355.05 L58.36,355.79 L58.42,356.74Z" fill="none" stroke="#8e8e8e" stroke-width="0.55" stroke-linejoin="round"/>
<path d="M55.95,357.60 L55.13,358.18 L54.94,358.79 L54.61,359.47 L53.36,359.78 L52.19,360.07 L51.00,360.59 L49.46,360.76 L47.76,360.77 L46.72,360.07 L45.60,359.59 L45.62,358.77 L44.88,358.24 L44.32,357.60 L44.85,356.96 L45.50,356.40 L46.03,355.79 L47.02,355.34 L47.89,354.60 L49.54,354.77 L50.90,355.01 L52.47,354.78 L54.07,354.93 L54.94,355.59 L55.67,356.23 L56.11,356.90Z" fill="none" stroke="#787878" stroke-width="0.55" stroke-linejoin="round"/>
<path d="M53.91,357.60 L54.44,358.20 L53.69,358.67 L53.58,359.35 L52.85,359.87 L51.70,360.02 L50.63,360.24 L49.56,359.84 L48.71,359.58 L48.33,358.99 L47.36,358.93 L46.44,358.66 L46.01,358.16 L45.60,357.60 L45.60,356.99 L45.99,356.41 L46.41,355.80 L47.69,355.69 L48.54,355.38 L49.51,355.11 L50.57,355.23 L51.51,355.45 L52.79,355.38 L52.89,356.20 L52.93,356.75 L53.74,357.09Z" fill="none" stroke="#616161" stroke-width="0.55" stroke-linejoin="round"/>
<path d="M53.61,357.60 L53.61,358.14 L52.82,358.45 L52.23,358.66 L51.96,359.04 L51.40,359.16 L50.88,359.34 L50.26,359.57 L49.68,359.36 L49.16,359.11 L48.44,358.99 L47.89,358.63 L47.89,358.09 L48.17,357.60 L48.12,357.16 L48.03,356.62 L48.57,356.30 L49.00,355.92 L49.68,355.84 L50.31,355.88 L50.86,355.99 L51.36,356.13 L51.97,356.15 L52.84,356.15 L52.94,356.70 L53.45,357.09Z" fill="none" stroke="#4b4b4b" stroke-width="0.55" stroke-linejoin="round"/>
<circle cx="50.09" cy="362.86" r="0.26" fill="#bbb"/>
<circle cx="54.58" cy="362.03" r="0.24" fill="#777"/>
<circle cx="41.89" cy="358.23" r="0.26" fill="#777"/>
<circle cx="55.98" cy="355.87" r="0.23" fill="#777"/>
<circle cx="44.94" cy="359.51" r="0.25" fill="#777"/>
<circle cx="44.90" cy="360.94" r="0.23" fill="#999"/>
<circle cx="55.41" cy="360.80" r="0.32" fill="#aaa"/>
<circle cx="47.48" cy="353.34" r="0.31" fill="#999"/>
<circle cx="57.36" cy="355.62" r="0.33" fill="#aaa"/>
<circle cx="55.71" cy="356.91" r="0.29" fill="#777"/>
<circle cx="49.64" cy="353.82" r="0.23" fill="#777"/>
<circle cx="41.76" cy="356.18" r="0.34" fill="#999"/>
<circle cx="56.60" cy="355.60" r="0.36" fill="#bbb"/>
<circle cx="55.62" cy="354.63" r="0.35" fill="#777"/>
<circle cx="42.84" cy="355.54" r="0.28" fill="#bbb"/>
<circle cx="56.11" cy="357.84" r="0.32" fill="#777"/>
<circle cx="60.36" cy="357.36" r="0.28" fill="#aaa"/>
<circle cx="49.70" cy="353.06" r="0.29" fill="#bbb"/>
<circle cx="42.79" cy="356.48" r="0.27" fill="#777"/>
<circle cx="55.07" cy="359.15" r="0.29" fill="#777"/>
<circle cx="42.90" cy="353.95" r="0.35" fill="#aaa"/>
<circle cx="46.45" cy="360.04" r="0.30" fill="#999"/>
<circle cx="50.65" cy="353.72" r="0.29" fill="#bbb"/>
<circle cx="50.90" cy="361.65" r="0.25" fill="#aaa"/>
<circle cx="41.90" cy="359.80" r="0.35" fill="#999"/>
<circle cx="44.29" cy="360.64" r="0.25" fill="#aaa"/>
<circle cx="55.21" cy="360.52" r="0.33" fill="#777"/>
<circle cx="56.87" cy="356.45" r="0.24" fill="#999"/>
<circle cx="40.56" cy="358.60" r="0.28" fill="#bbb"/>
<circle cx="41.79" cy="357.00" r="0.27" fill="#bbb"/>
<circle cx="53.67" cy="354.35" r="0.32" fill="#777"/>
<circle cx="49.13" cy="361.44" r="0.32" fill="#777"/>
<circle cx="45.33" cy="359.53" r="0.26" fill="#aaa"/>
<circle cx="53.98" cy="359.94" r="0.29" fill="#777"/>
<circle cx="44.54" cy="354.12" r="0.36" fill="#aaa"/>
<circle cx="47.97" cy="354.43" r="0.26" fill="#bbb"/>
<path d="M69.92,357.60 L69.58,358.21 L69.69,358.92 L69.13,359.60 L68.79,360.65 L66.75,360.66 L65.09,360.84 L63.41,360.73 L61.84,360.52 L60.42,360.15 L59.32,359.61 L58.97,358.88 L58.12,358.29 L58.22,357.60 L57.74,356.86 L59.08,356.35 L59.69,355.74 L60.92,355.39 L62.00,354.88 L63.30,354.04 L65.14,354.16 L66.68,354.62 L68.44,354.78 L69.15,355.59 L70.29,356.13 L70.04,356.94Z" fill="none" stroke="#858585" stroke-width="0.55" stroke-linejoin="round"/>
<path d="M69.43,357.60 L69.69,358.30 L69.14,358.94 L68.10,359.39 L67.31,359.95 L65.82,359.91 L64.73,360.25 L63.53,359.99 L62.46,359.79 L61.40,359.58 L60.28,359.31 L59.22,358.90 L60.02,358.11 L59.58,357.60 L59.49,357.02 L59.73,356.44 L59.98,355.75 L60.77,355.16 L61.90,354.67 L63.43,354.80 L64.78,354.74 L66.05,355.00 L66.76,355.65 L67.16,356.23 L67.60,356.67 L69.16,356.97Z" fill="none" stroke="#666666" stroke-width="0.55" stroke-linejoin="round"/>
<path d="M67.88,357.60 L67.44,358.02 L67.31,358.45 L67.33,359.04 L66.74,359.45 L65.76,359.45 L65.04,359.92 L64.02,360.18 L63.08,359.88 L62.43,359.41 L61.87,358.99 L61.44,358.56 L60.91,358.13 L60.82,357.60 L60.86,357.07 L61.67,356.71 L62.50,356.53 L62.86,356.16 L63.29,355.64 L64.12,355.47 L64.97,355.62 L66.09,355.23 L67.07,355.47 L67.95,355.84 L67.86,356.58 L67.83,357.13Z" fill="none" stroke="#464646" stroke-width="0.55" stroke-linejoin="round"/>
<path d="M67.13,357.60 L67.15,358.04 L67.03,358.50 L66.61,358.83 L66.30,359.27 L65.67,359.38 L65.04,359.15 L64.59,358.89 L64.15,358.89 L63.54,358.99 L63.22,358.66 L62.82,358.39 L62.31,358.07 L62.08,357.60 L62.58,357.18 L62.78,356.79 L63.20,356.52 L63.65,356.34 L64.04,356.08 L64.53,355.92 L65.08,355.78 L65.55,356.08 L65.91,356.36 L66.44,356.48 L66.82,356.79 L67.08,357.17Z" fill="none" stroke="#2d2d2d" stroke-width="0.55" stroke-linejoin="round"/>
<circle cx="61.91" cy="352.90" r="0.28" fill="#777"/>
<circle cx="58.55" cy="359.68" r="0.30" fill="#999"/>
<circle cx="69.06" cy="354.55" r="0.30" fill="#999"/>
<circle cx="68.84" cy="354.19" r="0.25" fill="#999"/>
<circle cx="64.00" cy="352.86" r="0.27" fill="#999"/>
<circle cx="61.03" cy="362.23" r="0.34" fill="#999"/>
<circle cx="66.21" cy="360.31" r="0.24" fill="#999"/>
<circle cx="69.87" cy="359.52" r="0.34" fill="#bbb"/>
<circle cx="57.33" cy="359.83" r="0.25" fill="#999"/>
<circle cx="58.81" cy="354.21" r="0.25" fill="#777"/>
<circle cx="60.90" cy="353.03" r="0.24" fill="#aaa"/>
<circle cx="56.51" cy="357.44" r="0.34" fill="#999"/>
<circle cx="59.87" cy="357.91" r="0.24" fill="#bbb"/>
<circle cx="66.69" cy="360.50" r="0.37" fill="#999"/>
<circle cx="68.96" cy="356.32" r="0.24" fill="#777"/>
<circle cx="62.43" cy="355.04" r="0.27" fill="#777"/>
<circle cx="57.76" cy="358.43" r="0.25" fill="#bbb"/>
<circle cx="59.31" cy="360.67" r="0.35" fill="#777"/>
<path d="M107.91,357.20 L107.33,357.98 L105.85,358.64 L105.79,359.62 L102.63,359.88 L99.67,359.91 L97.37,360.39 L94.50,360.57 L92.01,360.11 L90.01,359.60 L88.25,359.10 L85.70,358.70 L84.44,357.99 L83.68,357.20 L81.79,356.23 L83.95,355.44 L86.66,354.90 L88.82,354.32 L91.81,354.14 L94.66,354.20 L97.09,354.64 L99.37,354.71 L102.43,354.60 L105.26,354.91 L107.08,355.58 L109.21,356.29Z" fill="none" stroke="#8a8a8a" stroke-width="0.55" stroke-linejoin="round"/>
<path d="M106.95,357.20 L106.46,357.94 L104.39,358.44 L103.90,359.17 L102.29,359.71 L99.90,359.83 L97.66,359.79 L95.62,359.73 L93.37,359.82 L91.54,359.45 L90.01,358.99 L89.59,358.33 L88.40,357.82 L87.53,357.20 L86.60,356.45 L87.68,355.77 L88.42,354.98 L90.95,354.69 L93.53,354.70 L95.52,354.43 L97.57,354.82 L98.97,355.32 L100.45,355.51 L102.34,355.65 L104.51,355.94 L106.65,356.45Z" fill="none" stroke="#6f6f6f" stroke-width="0.55" stroke-linejoin="round"/>
<path d="M104.31,357.20 L103.95,357.71 L102.83,358.08 L102.30,358.51 L101.25,358.81 L100.12,359.08 L99.07,360.00 L97.21,359.79 L95.62,359.51 L94.48,359.05 L93.03,358.79 L92.19,358.30 L92.35,357.70 L91.14,357.20 L92.08,356.68 L92.90,356.24 L93.47,355.75 L94.42,355.32 L95.96,355.21 L97.41,355.19 L98.84,355.07 L100.58,354.90 L102.61,354.89 L103.57,355.49 L104.12,356.08 L104.50,356.64Z" fill="none" stroke="#545454" stroke-width="0.55" stroke-linejoin="round"/>
<path d="M102.74,357.20 L102.29,357.65 L102.76,358.28 L102.11,358.75 L100.51,358.67 L99.64,358.82 L98.74,358.84 L97.83,359.03 L96.81,359.03 L96.30,358.54 L95.48,358.36 L94.67,358.08 L94.49,357.63 L94.36,357.20 L93.92,356.70 L94.48,356.27 L95.21,355.93 L95.86,355.56 L96.55,355.06 L97.79,355.22 L98.72,355.66 L99.39,355.89 L100.26,355.90 L100.69,356.23 L101.46,356.44 L102.32,356.74Z" fill="none" stroke="#393939" stroke-width="0.55" stroke-linejoin="round"/>
<circle cx="86.74" cy="358.18" r="0.27" fill="#bbb"/>
<circle cx="95.90" cy="352.12" r="0.36" fill="#999"/>
<circle cx="95.49" cy="353.75" r="0.30" fill="#777"/>
<circle cx="92.14" cy="361.14" r="0.26" fill="#aaa"/>
<circle cx="85.77" cy="354.13" r="0.31" fill="#999"/>
<circle cx="96.68" cy="353.87" r="0.30" fill="#999"/>
<circle cx="90.97" cy="354.46" r="0.31" fill="#777"/>
<circle cx="106.62" cy="357.41" r="0.31" fill="#777"/>
<circle cx="106.43" cy="359.79" r="0.33" fill="#777"/>
<circle cx="104.47" cy="355.50" r="0.31" fill="#999"/>
<circle cx="88.19" cy="360.16" r="0.27" fill="#999"/>
<circle cx="87.38" cy="357.32" r="0.34" fill="#777"/>
<circle cx="82.64" cy="358.87" r="0.29" fill="#999"/>
<circle cx="96.28" cy="353.31" r="0.28" fill="#999"/>
<circle cx="87.36" cy="352.63" r="0.26" fill="#aaa"/>
<circle cx="97.29" cy="352.09" r="0.28" fill="#999"/>
<circle cx="90.49" cy="359.45" r="0.23" fill="#aaa"/>
<circle cx="107.42" cy="359.38" r="0.34" fill="#bbb"/>
<circle cx="82.21" cy="358.37" r="0.23" fill="#777"/>
<circle cx="99.57" cy="361.73" r="0.32" fill="#777"/>
<circle cx="82.31" cy="357.37" r="0.26" fill="#aaa"/>
<circle cx="103.32" cy="360.17" r="0.27" fill="#aaa"/>
<circle cx="106.69" cy="360.42" r="0.29" fill="#aaa"/>
<circle cx="99.91" cy="353.74" r="0.25" fill="#aaa"/>
<circle cx="110.13" cy="356.21" r="0.23" fill="#999"/>
<circle cx="100.39" cy="354.67" r="0.31" fill="#bbb"/>
<circle cx="100.47" cy="352.53" r="0.34" fill="#aaa"/>
<circle cx="82.19" cy="355.91" r="0.25" fill="#999"/>
<circle cx="97.31" cy="351.94" r="0.34" fill="#aaa"/>
<circle cx="98.04" cy="360.11" r="0.31" fill="#999"/>
<path d="M148.67,357.30 L147.92,357.83 L147.41,358.38 L147.15,359.07 L145.28,359.63 L141.76,359.60 L139.05,359.83 L136.23,359.62 L133.34,359.63 L131.66,359.09 L130.97,358.52 L128.95,358.24 L125.76,357.91 L125.46,357.30 L125.42,356.67 L126.86,356.13 L128.61,355.64 L130.34,355.11 L133.27,354.93 L136.16,354.86 L138.92,354.99 L141.50,355.14 L144.28,355.28 L147.12,355.54 L147.31,356.23 L148.07,356.76Z" fill="none" stroke="#919191" stroke-width="0.55" stroke-linejoin="round"/>
<path d="M146.72,357.30 L146.93,357.78 L146.69,358.30 L145.53,358.76 L143.81,359.14 L141.60,359.33 L139.34,359.46 L137.06,359.35 L134.52,359.46 L132.13,359.26 L131.31,358.66 L130.39,358.22 L128.99,357.81 L128.48,357.30 L130.06,356.85 L130.44,356.39 L132.28,356.13 L133.12,355.66 L134.99,355.42 L136.93,355.00 L139.49,354.86 L141.67,355.23 L143.54,355.55 L145.68,355.81 L146.68,356.30 L146.76,356.82Z" fill="none" stroke="#7d7d7d" stroke-width="0.55" stroke-linejoin="round"/>
<path d="M145.53,357.30 L145.26,357.80 L143.75,358.18 L142.61,358.53 L141.34,358.85 L139.54,358.94 L137.93,359.13 L136.22,358.98 L134.57,358.92 L132.94,358.78 L131.59,358.50 L130.43,358.17 L129.46,357.77 L129.75,357.30 L130.27,356.88 L129.98,356.38 L130.59,355.88 L132.58,355.69 L134.37,355.54 L136.18,355.52 L137.98,355.37 L139.64,355.59 L140.86,355.92 L141.88,356.23 L142.63,356.57 L143.73,356.89Z" fill="none" stroke="#696969" stroke-width="0.55" stroke-linejoin="round"/>
<path d="M142.63,357.30 L143.01,357.70 L142.29,358.04 L141.57,358.37 L140.70,358.68 L139.55,358.92 L138.12,358.91 L136.86,358.73 L135.60,358.73 L134.75,358.45 L133.85,358.24 L132.65,358.04 L132.49,357.66 L132.09,357.30 L132.37,356.93 L131.92,356.45 L133.24,356.21 L134.21,355.92 L135.56,355.84 L136.79,355.70 L138.06,355.83 L139.26,355.91 L140.52,356.00 L141.07,356.36 L141.85,356.62 L142.24,356.95Z" fill="none" stroke="#555555" stroke-width="0.55" stroke-linejoin="round"/>
<path d="M141.08,357.30 L141.28,357.62 L140.75,357.87 L140.79,358.27 L139.94,358.40 L139.23,358.57 L138.43,358.68 L137.59,358.63 L136.78,358.56 L136.46,358.17 L136.02,357.99 L135.55,357.80 L135.02,357.59 L134.71,357.30 L134.49,356.96 L134.91,356.67 L135.33,356.37 L136.13,356.24 L136.76,356.03 L137.61,356.03 L138.39,356.05 L139.16,356.11 L139.96,356.19 L140.31,356.50 L140.70,356.75 L141.08,357.00Z" fill="none" stroke="#414141" stroke-width="0.55" stroke-linejoin="round"/>
<circle cx="138.50" cy="360.57" r="0.34" fill="#bbb"/>
<circle cx="146.65" cy="354.25" r="0.36" fill="#999"/>
<circle cx="145.06" cy="360.09" r="0.36" fill="#aaa"/>
<circle cx="137.86" cy="354.03" r="0.26" fill="#777"/>
<circle cx="141.82" cy="360.76" r="0.27" fill="#aaa"/>
<circle cx="135.75" cy="360.35" r="0.29" fill="#aaa"/>
<circle cx="130.95" cy="358.86" r="0.24" fill="#777"/>
<circle cx="131.00" cy="355.49" r="0.28" fill="#999"/>
<circle cx="144.13" cy="354.44" r="0.24" fill="#777"/>
<circle cx="153.17" cy="358.14" r="0.28" fill="#bbb"/>
<circle cx="151.38" cy="359.08" r="0.36" fill="#bbb"/>
<circle cx="143.73" cy="359.24" r="0.34" fill="#999"/>
<circle cx="129.43" cy="359.14" r="0.31" fill="#bbb"/>
<circle cx="135.60" cy="353.95" r="0.37" fill="#aaa"/>
<circle cx="140.76" cy="353.92" r="0.26" fill="#777"/>
<circle cx="141.45" cy="359.84" r="0.24" fill="#bbb"/>
<circle cx="128.78" cy="359.51" r="0.34" fill="#aaa"/>
<circle cx="130.36" cy="355.74" r="0.30" fill="#aaa"/>
<circle cx="130.26" cy="359.82" r="0.31" fill="#999"/>
<circle cx="142.49" cy="361.15" r="0.31" fill="#999"/>
<circle cx="150.67" cy="357.88" r="0.24" fill="#777"/>
<circle cx="126.20" cy="357.72" r="0.27" fill="#aaa"/>
<circle cx="147.37" cy="356.06" r="0.35" fill="#bbb"/>
<circle cx="124.20" cy="358.38" r="0.36" fill="#999"/>
<circle cx="125.40" cy="356.42" r="0.25" fill="#aaa"/>
<circle cx="137.05" cy="353.32" r="0.31" fill="#aaa"/>
<circle cx="148.04" cy="359.97" r="0.32" fill="#aaa"/>
<circle cx="128.24" cy="360.09" r="0.34" fill="#aaa"/>
<circle cx="142.41" cy="360.29" r="0.29" fill="#777"/>
<circle cx="125.72" cy="359.44" r="0.27" fill="#999"/>
<circle cx="130.83" cy="354.09" r="0.31" fill="#bbb"/>
<circle cx="128.45" cy="354.45" r="0.25" fill="#999"/>
<circle cx="128.49" cy="357.78" r="0.24" fill="#bbb"/>
<circle cx="128.58" cy="358.87" r="0.26" fill="#999"/>
<circle cx="127.73" cy="356.14" r="0.33" fill="#777"/>
<circle cx="140.11" cy="354.43" r="0.31" fill="#bbb"/>
<circle cx="126.34" cy="357.86" r="0.33" fill="#bbb"/>
<circle cx="121.51" cy="357.68" r="0.34" fill="#bbb"/>
<circle cx="144.14" cy="358.87" r="0.30" fill="#aaa"/>
<circle cx="123.55" cy="358.96" r="0.36" fill="#aaa"/>
<circle cx="133.80" cy="360.55" r="0.33" fill="#bbb"/>
<circle cx="125.95" cy="355.19" r="0.35" fill="#aaa"/>
<path d="M71.76,396.30 L70.64,397.16 L68.82,397.87 L68.49,398.88 L65.14,399.26 L62.05,399.58 L59.03,400.09 L55.35,400.37 L51.64,400.14 L49.48,399.22 L47.33,398.58 L46.26,397.80 L45.02,397.08 L45.02,396.30 L45.75,395.56 L45.04,394.64 L46.79,393.90 L49.16,393.26 L51.97,392.68 L55.45,392.44 L58.73,393.15 L61.93,393.11 L64.71,393.50 L66.86,394.09 L67.76,394.87 L69.94,395.49Z" fill="none" stroke="#919191" stroke-width="0.55" stroke-linejoin="round"/>
<path d="M68.75,396.30 L68.92,397.09 L67.41,397.76 L66.30,398.50 L64.02,398.97 L61.15,399.05 L58.65,399.16 L56.21,399.05 L53.50,399.17 L50.90,398.93 L48.39,398.53 L48.37,397.62 L47.18,397.00 L46.62,396.30 L46.85,395.57 L47.16,394.80 L48.24,394.03 L50.24,393.41 L53.38,393.34 L55.97,392.99 L58.77,393.17 L61.12,393.56 L62.88,394.09 L63.94,394.69 L67.18,394.87 L69.62,395.46Z" fill="none" stroke="#7d7d7d" stroke-width="0.55" stroke-linejoin="round"/>
<path d="M65.84,396.30 L66.52,396.97 L64.85,397.46 L64.05,398.03 L62.46,398.42 L60.68,398.71 L58.75,398.90 L56.51,399.42 L54.30,399.10 L52.08,398.83 L51.55,397.99 L50.17,397.53 L49.53,396.93 L49.93,396.30 L50.71,395.76 L50.40,395.11 L51.22,394.51 L52.88,394.13 L54.46,393.63 L56.53,393.24 L58.87,393.39 L60.57,393.98 L62.49,394.16 L64.40,394.47 L66.04,394.95 L65.78,395.69Z" fill="none" stroke="#696969" stroke-width="0.55" stroke-linejoin="round"/>
<path d="M64.44,396.30 L64.98,396.92 L64.27,397.49 L63.07,397.92 L61.59,398.17 L60.56,398.72 L58.74,398.41 L57.40,398.19 L56.01,398.24 L55.09,397.85 L53.39,397.80 L52.65,397.33 L50.97,396.93 L51.26,396.30 L51.62,395.72 L52.34,395.21 L53.35,394.79 L54.08,394.21 L56.02,394.36 L57.34,394.23 L58.83,393.91 L60.37,394.05 L61.31,394.57 L62.40,394.89 L62.63,395.42 L63.32,395.83Z" fill="none" stroke="#555555" stroke-width="0.55" stroke-linejoin="round"/>
<path d="M63.32,396.30 L63.62,396.74 L63.17,397.12 L62.79,397.53 L62.24,397.92 L61.49,398.29 L60.47,398.41 L59.42,398.39 L58.54,398.09 L57.98,397.68 L57.33,397.42 L56.68,397.13 L56.27,396.74 L56.20,396.30 L56.47,395.88 L56.36,395.39 L57.10,395.08 L57.57,394.63 L58.46,394.41 L59.50,394.54 L60.42,394.36 L61.42,394.40 L62.34,394.61 L62.88,395.03 L63.38,395.42 L63.48,395.88Z" fill="none" stroke="#414141" stroke-width="0.55" stroke-linejoin="round"/>
<circle cx="66.83" cy="396.96" r="0.31" fill="#999"/>
<circle cx="40.18" cy="394.84" r="0.31" fill="#999"/>
<circle cx="69.20" cy="397.75" r="0.34" fill="#aaa"/>
<circle cx="55.24" cy="390.86" r="0.23" fill="#bbb"/>
<circle cx="61.22" cy="393.05" r="0.26" fill="#aaa"/>
<circle cx="40.83" cy="396.41" r="0.23" fill="#bbb"/>
<circle cx="45.60" cy="398.53" r="0.33" fill="#999"/>
<circle cx="66.77" cy="395.37" r="0.24" fill="#999"/>
<circle cx="40.66" cy="397.79" r="0.22" fill="#777"/>
<circle cx="44.34" cy="398.81" r="0.28" fill="#777"/>
<circle cx="52.51" cy="400.47" r="0.37" fill="#777"/>
<circle cx="49.55" cy="391.55" r="0.26" fill="#999"/>
<circle cx="69.37" cy="400.16" r="0.29" fill="#bbb"/>
<circle cx="68.23" cy="394.57" r="0.36" fill="#aaa"/>
<circle cx="66.68" cy="394.56" r="0.28" fill="#999"/>
<circle cx="50.59" cy="393.68" r="0.31" fill="#aaa"/>
<circle cx="71.63" cy="393.25" r="0.29" fill="#999"/>
<circle cx="42.89" cy="399.82" r="0.28" fill="#bbb"/>
<circle cx="69.27" cy="397.62" r="0.25" fill="#999"/>
<circle cx="46.02" cy="395.21" r="0.28" fill="#999"/>
<circle cx="42.66" cy="393.31" r="0.29" fill="#bbb"/>
<circle cx="72.35" cy="396.07" r="0.25" fill="#bbb"/>
<circle cx="48.99" cy="398.51" r="0.27" fill="#aaa"/>
<circle cx="55.03" cy="399.38" r="0.33" fill="#999"/>
<circle cx="41.73" cy="395.94" r="0.26" fill="#999"/>
<circle cx="49.50" cy="399.01" r="0.24" fill="#aaa"/>
<circle cx="57.51" cy="401.92" r="0.22" fill="#777"/>
<circle cx="50.79" cy="400.11" r="0.35" fill="#777"/>
<circle cx="47.79" cy="398.91" r="0.27" fill="#777"/>
<circle cx="45.53" cy="393.45" r="0.24" fill="#999"/>
<circle cx="48.44" cy="394.52" r="0.28" fill="#aaa"/>
<circle cx="40.64" cy="397.00" r="0.27" fill="#aaa"/>
<circle cx="44.09" cy="397.57" r="0.35" fill="#999"/>
<circle cx="43.13" cy="395.34" r="0.28" fill="#999"/>
<circle cx="64.19" cy="393.49" r="0.28" fill="#aaa"/>
<circle cx="48.24" cy="394.06" r="0.33" fill="#777"/>
<circle cx="47.00" cy="396.64" r="0.32" fill="#aaa"/>
<circle cx="72.49" cy="398.61" r="0.32" fill="#aaa"/>
<circle cx="73.44" cy="394.69" r="0.34" fill="#999"/>
<circle cx="55.49" cy="401.80" r="0.28" fill="#777"/>
<circle cx="68.65" cy="397.86" r="0.26" fill="#aaa"/>
<circle cx="53.14" cy="392.72" r="0.25" fill="#bbb"/>
<circle cx="57.93" cy="392.19" r="0.30" fill="#999"/>
<circle cx="55.64" cy="390.46" r="0.29" fill="#999"/>
<circle cx="55.74" cy="401.97" r="0.33" fill="#aaa"/>
<circle cx="69.51" cy="396.91" r="0.36" fill="#aaa"/>
<circle cx="66.73" cy="394.25" r="0.29" fill="#bbb"/>
<circle cx="44.58" cy="394.00" r="0.35" fill="#aaa"/>
<path d="M102.36,395.60 L101.76,396.76 L100.56,397.78 L99.41,398.80 L97.24,399.35 L94.91,399.53 L92.56,398.76 L90.88,398.95 L89.57,398.30 L87.89,398.22 L85.39,398.25 L83.37,397.67 L83.71,396.53 L84.41,395.60 L83.32,394.62 L83.15,393.48 L85.05,392.81 L86.36,391.93 L88.50,391.58 L90.60,391.17 L92.79,391.52 L94.51,392.16 L95.78,392.85 L96.03,393.81 L96.79,394.35 L100.43,394.59Z" fill="none" stroke="#696969" stroke-width="0.8" stroke-linejoin="round"/>
<path d="M101.12,395.60 L99.10,396.46 L98.31,397.21 L97.01,397.71 L95.44,397.84 L94.16,397.87 L93.26,398.75 L91.83,398.75 L90.59,398.35 L88.82,398.48 L87.16,398.14 L86.62,397.26 L87.13,396.31 L86.24,395.60 L86.46,394.80 L86.73,393.97 L87.82,393.37 L88.98,392.84 L90.61,392.88 L91.98,393.13 L93.17,392.85 L94.68,392.59 L95.59,393.24 L96.45,393.75 L98.12,394.04 L100.42,394.56Z" fill="none" stroke="#2d2d2d" stroke-width="0.8" stroke-linejoin="round"/>
<path d="M96.14,395.60 L95.66,396.12 L95.43,396.63 L94.97,397.06 L94.64,397.67 L93.95,398.13 L93.06,398.53 L92.09,398.04 L91.20,397.97 L90.27,397.82 L89.20,397.60 L89.13,396.81 L88.87,396.21 L88.52,395.60 L88.66,394.95 L89.17,394.41 L89.93,394.04 L90.91,394.01 L91.55,393.85 L92.17,393.56 L93.05,392.71 L94.12,392.78 L95.12,393.06 L95.62,393.75 L96.64,394.14 L96.50,394.94Z" fill="none" stroke="#2d2d2d" stroke-width="0.8" stroke-linejoin="round"/>
<circle cx="101.71" cy="394.98" r="0.31" fill="#999"/>
<circle cx="97.20" cy="390.09" r="0.25" fill="#999"/>
<circle cx="86.43" cy="392.49" r="0.37" fill="#999"/>
<circle cx="82.08" cy="396.65" r="0.26" fill="#999"/>
<circle cx="91.02" cy="399.94" r="0.28" fill="#bbb"/>
<circle cx="89.07" cy="392.00" r="0.33" fill="#999"/>
<circle cx="96.57" cy="398.07" r="0.27" fill="#aaa"/>
<circle cx="81.59" cy="394.10" r="0.27" fill="#bbb"/>
<circle cx="101.05" cy="396.49" r="0.25" fill="#bbb"/>
<circle cx="104.2" cy="398.6" r="0.7" fill="#111"/><circle cx="106.4" cy="397.2" r="0.6" fill="#111"/><circle cx="102.6" cy="400.2" r="0.5" fill="#111"/>
<path d="M147.92,396.30 L147.45,397.18 L146.51,398.02 L145.06,398.81 L142.52,399.25 L139.89,399.49 L137.44,399.95 L134.51,400.21 L132.12,399.52 L129.61,399.21 L128.17,398.48 L126.26,397.90 L124.58,397.18 L123.97,396.30 L124.68,395.42 L124.70,394.44 L126.91,393.77 L128.55,392.91 L131.90,392.90 L134.77,393.07 L137.20,393.26 L139.44,393.48 L141.80,393.68 L144.51,393.95 L146.63,394.56 L146.87,395.46Z" fill="none" stroke="#8d8d8d" stroke-width="0.55" stroke-linejoin="round"/>
<path d="M144.67,396.30 L146.15,397.11 L146.06,398.02 L144.21,398.66 L142.12,399.14 L139.88,399.51 L137.38,399.48 L135.09,399.38 L133.04,399.09 L131.02,398.81 L129.55,398.26 L128.67,397.62 L126.91,397.06 L125.99,396.30 L126.47,395.50 L126.66,394.63 L128.61,394.06 L130.34,393.47 L132.99,393.47 L134.92,392.73 L137.50,392.80 L139.49,393.43 L141.62,393.69 L143.27,394.22 L143.99,394.94 L144.91,395.59Z" fill="none" stroke="#757575" stroke-width="0.55" stroke-linejoin="round"/>
<path d="M144.83,396.30 L144.31,397.01 L143.36,397.64 L142.73,398.37 L140.92,398.73 L139.08,398.98 L137.25,399.22 L135.24,399.34 L133.25,399.17 L131.94,398.56 L130.78,398.05 L129.77,397.53 L127.95,397.04 L128.14,396.30 L127.70,395.54 L128.34,394.80 L129.99,394.29 L131.61,393.87 L133.44,393.61 L135.30,393.43 L137.12,393.76 L138.61,394.07 L140.96,393.85 L142.59,394.28 L143.35,394.96 L143.61,395.65Z" fill="none" stroke="#5c5c5c" stroke-width="0.55" stroke-linejoin="round"/>
<path d="M141.94,396.30 L141.45,396.84 L141.26,397.41 L141.07,398.11 L139.87,398.56 L138.26,398.71 L136.70,398.61 L135.28,398.71 L134.00,398.44 L133.11,398.00 L131.94,397.76 L131.21,397.32 L130.39,396.86 L128.90,396.30 L128.71,395.57 L129.48,394.92 L131.56,394.71 L132.74,394.39 L133.93,394.09 L135.24,393.74 L136.72,393.91 L137.99,394.19 L139.45,394.28 L141.02,394.50 L141.52,395.13 L142.39,395.66Z" fill="none" stroke="#454545" stroke-width="0.55" stroke-linejoin="round"/>
<path d="M141.77,396.30 L141.71,396.83 L141.37,397.35 L140.65,397.76 L140.13,398.32 L139.00,398.56 L137.86,398.81 L136.70,398.41 L135.72,398.22 L135.06,397.81 L134.06,397.65 L133.04,397.36 L132.94,396.81 L132.50,396.30 L132.55,395.75 L133.43,395.34 L133.68,394.79 L134.45,394.36 L135.54,394.16 L136.67,394.10 L137.81,393.97 L138.96,394.10 L139.92,394.42 L140.44,394.93 L140.35,395.51 L141.41,395.80Z" fill="none" stroke="#2d2d2d" stroke-width="0.55" stroke-linejoin="round"/>
<path d="M138.57,396.30 L138.37,396.73 L137.75,397.00 L137.39,397.26 L137.26,397.75 L136.70,397.97 L136.07,398.15 L135.38,398.20 L134.73,398.03 L133.90,398.04 L133.47,397.61 L133.05,397.22 L133.23,396.70 L133.28,396.30 L132.99,395.86 L133.09,395.39 L133.71,395.13 L134.35,394.99 L134.90,394.87 L135.42,394.62 L136.06,394.52 L136.70,394.64 L137.29,394.82 L137.96,395.01 L138.39,395.38 L138.52,395.85Z" fill="none" stroke="#2d2d2d" stroke-width="0.55" stroke-linejoin="round"/>
<circle cx="138.66" cy="399.38" r="0.25" fill="#bbb"/>
<circle cx="134.06" cy="401.39" r="0.24" fill="#777"/>
<circle cx="123.34" cy="398.33" r="0.23" fill="#999"/>
<circle cx="128.00" cy="396.38" r="0.34" fill="#777"/>
<circle cx="142.87" cy="399.81" r="0.27" fill="#777"/>
<circle cx="150.67" cy="393.62" r="0.35" fill="#999"/>
<circle cx="143.54" cy="398.80" r="0.22" fill="#bbb"/>
<circle cx="131.58" cy="392.10" r="0.23" fill="#bbb"/>
<circle cx="146.18" cy="396.00" r="0.35" fill="#aaa"/>
<circle cx="135.13" cy="392.57" r="0.28" fill="#bbb"/>
<circle cx="142.02" cy="391.40" r="0.32" fill="#aaa"/>
<circle cx="139.01" cy="399.98" r="0.25" fill="#999"/>
<circle cx="129.16" cy="394.72" r="0.24" fill="#aaa"/>
<circle cx="148.57" cy="394.45" r="0.27" fill="#aaa"/>
<circle cx="145.09" cy="396.47" r="0.33" fill="#999"/>
<circle cx="129.77" cy="399.48" r="0.25" fill="#bbb"/>
<circle cx="145.68" cy="398.03" r="0.34" fill="#aaa"/>
<circle cx="126.65" cy="398.79" r="0.36" fill="#777"/>
<circle cx="128.71" cy="400.72" r="0.29" fill="#999"/>
<circle cx="143.19" cy="398.68" r="0.36" fill="#aaa"/>
<circle cx="148.20" cy="398.75" r="0.36" fill="#999"/>
<circle cx="125.83" cy="399.87" r="0.29" fill="#999"/>
<circle cx="147.01" cy="398.05" r="0.31" fill="#aaa"/>
<circle cx="130.93" cy="392.95" r="0.32" fill="#777"/>
<circle cx="136.89" cy="400.74" r="0.31" fill="#999"/>
<circle cx="143.93" cy="393.03" r="0.27" fill="#aaa"/>
<circle cx="142.85" cy="391.03" r="0.30" fill="#777"/>
<circle cx="148.89" cy="399.79" r="0.34" fill="#777"/>
<circle cx="144.75" cy="396.63" r="0.37" fill="#aaa"/>
<circle cx="142.51" cy="390.89" r="0.29" fill="#999"/>
<circle cx="128.89" cy="399.83" r="0.29" fill="#aaa"/>
<circle cx="131.55" cy="393.58" r="0.37" fill="#999"/>
<circle cx="147.72" cy="396.08" r="0.32" fill="#999"/>
<circle cx="131.60" cy="390.31" r="0.37" fill="#777"/>
<circle cx="128.46" cy="391.62" r="0.30" fill="#999"/>
<circle cx="126.09" cy="393.92" r="0.30" fill="#999"/>
<circle cx="148.40" cy="399.50" r="0.25" fill="#777"/>
<circle cx="128.73" cy="392.19" r="0.32" fill="#aaa"/>
<circle cx="148.15" cy="395.41" r="0.28" fill="#777"/>
<circle cx="142.66" cy="399.88" r="0.36" fill="#aaa"/>
<circle cx="143.03" cy="394.33" r="0.28" fill="#aaa"/>
<circle cx="121.75" cy="393.98" r="0.27" fill="#777"/>
<circle cx="127.46" cy="396.14" r="0.24" fill="#999"/>
<circle cx="146.85" cy="398.81" r="0.27" fill="#aaa"/>
<circle cx="136.84" cy="401.31" r="0.23" fill="#bbb"/>
<circle cx="138.87" cy="400.78" r="0.29" fill="#777"/>
<circle cx="141.74" cy="393.49" r="0.24" fill="#999"/>
<circle cx="127.81" cy="394.85" r="0.28" fill="#777"/>
<path d="M41.5,433 C43,431.6 45,432.2 46.5,431 C48,429.6 50,430.6 51.5,430.1 C53,429.8 54.6,431 54.2,433 C55.6,434.5 55.1,436 53.6,436.5 C53,438.6 51,439.9 49.5,438.9 C48,437.6 46.5,436.6 45,436.1 C43.5,435.6 41.5,434.8 41.5,433 Z M45.8,433.2 C47,431.8 49.4,432 50,433.5 C50.4,435 48,435.6 47,434.9 Z M51,432.2 C52.2,431.5 53.4,432.6 52.8,433.8 C52,434.6 50.8,433.6 51,432.2 Z" fill="none" stroke="#222" stroke-width="0.7"/>
<path d="M44,432.5 C46,433.5 48,434 50.5,435 M47.5,437 C49,436.5 51,437 52.5,436" fill="none" stroke="#666" stroke-width="0.5"/>
<ellipse cx="57.2" cy="433.9" rx="1.1" ry="0.6" fill="none" stroke="#333" stroke-width="0.5"/><circle cx="59.8" cy="434.3" r="0.55" fill="#222"/><circle cx="61.3" cy="434.1" r="0.4" fill="#444"/><circle cx="66.2" cy="434.5" r="0.6" fill="#222"/>
<path d="M92.2,430.8 C90.6,431.1 90.6,432.7 91.9,433.2 C93.2,433.7 93,435.5 91.1,435.7" fill="none" stroke="#333" stroke-width="0.85"/>
<path d="M148.40,433.30 L149.61,434.22 L148.18,435.03 L146.19,435.68 L143.80,436.14 L141.79,436.85 L138.82,436.93 L135.90,437.02 L133.55,436.38 L130.80,436.21 L129.43,435.45 L127.87,434.82 L126.80,434.09 L124.58,433.30 L126.35,432.47 L127.20,431.67 L127.98,430.76 L129.59,429.86 L132.56,429.42 L135.90,429.60 L138.78,429.78 L141.59,429.91 L143.37,430.65 L145.34,431.15 L147.95,431.61 L148.10,432.49Z" fill="none" stroke="#838383" stroke-width="0.8" stroke-linejoin="round"/>
<path d="M147.77,433.30 L145.82,434.01 L145.83,434.81 L143.72,435.25 L142.53,435.93 L140.33,436.22 L138.04,436.38 L135.69,436.44 L133.39,436.25 L131.00,436.04 L129.12,435.51 L127.65,434.86 L127.54,434.04 L126.19,433.30 L126.32,432.46 L128.03,431.81 L129.47,431.19 L130.94,430.54 L133.68,430.59 L135.68,430.14 L138.13,429.99 L140.31,430.39 L142.83,430.53 L144.65,431.09 L146.36,431.70 L148.15,432.41Z" fill="none" stroke="#626262" stroke-width="0.8" stroke-linejoin="round"/>
<path d="M145.56,433.30 L144.74,433.92 L144.30,434.53 L143.42,435.12 L142.37,435.75 L140.38,435.95 L138.57,436.47 L136.36,436.37 L134.25,436.19 L131.90,436.06 L130.87,435.30 L129.24,434.78 L129.24,433.99 L129.49,433.30 L129.38,432.62 L129.59,431.88 L130.93,431.32 L132.44,430.81 L134.51,430.64 L136.34,430.15 L138.44,430.49 L140.67,430.38 L142.45,430.81 L144.41,431.18 L145.71,431.81 L145.86,432.59Z" fill="none" stroke="#404040" stroke-width="0.8" stroke-linejoin="round"/>
<path d="M143.99,433.30 L144.36,433.94 L144.31,434.65 L143.47,435.31 L141.66,435.60 L140.28,436.13 L138.28,435.94 L136.55,435.99 L134.97,435.72 L133.55,435.40 L132.59,434.90 L131.94,434.38 L130.75,433.92 L129.82,433.30 L130.72,432.68 L131.23,432.08 L131.68,431.39 L133.31,431.07 L134.85,430.77 L136.56,430.66 L138.27,430.68 L139.83,430.92 L141.63,431.01 L142.77,431.52 L144.00,432.00 L143.55,432.73Z" fill="none" stroke="#2d2d2d" stroke-width="0.8" stroke-linejoin="round"/>
<path d="M143.28,433.30 L142.64,433.82 L142.32,434.34 L141.52,434.75 L140.78,435.21 L139.69,435.57 L138.32,435.60 L136.94,435.81 L135.61,435.60 L134.35,435.33 L133.87,434.72 L132.42,434.47 L132.19,433.87 L131.77,433.30 L132.42,432.75 L132.80,432.22 L133.79,431.85 L134.73,431.50 L135.75,431.16 L137.02,431.06 L138.28,431.15 L139.59,431.14 L141.21,431.12 L142.26,431.57 L143.07,432.10 L143.20,432.72Z" fill="none" stroke="#2d2d2d" stroke-width="0.8" stroke-linejoin="round"/>
<path d="M140.85,433.30 L140.60,433.81 L140.07,434.24 L139.53,434.64 L139.08,435.15 L137.96,435.16 L137.07,435.39 L136.08,435.41 L135.06,435.35 L134.32,434.97 L133.54,434.67 L133.01,434.25 L132.91,433.76 L132.68,433.30 L132.74,432.82 L132.65,432.25 L133.60,431.95 L134.22,431.56 L134.94,431.10 L136.10,431.30 L137.05,431.30 L137.88,431.55 L138.74,431.70 L139.43,432.01 L139.88,432.41 L140.78,432.77Z" fill="none" stroke="#2d2d2d" stroke-width="0.8" stroke-linejoin="round"/>
<path d="M138.65,433.30 L138.86,433.71 L138.75,434.13 L138.24,434.38 L138.00,434.84 L137.47,435.10 L136.85,435.30 L136.18,435.19 L135.62,434.94 L135.15,434.68 L134.53,434.53 L134.25,434.13 L134.17,433.71 L133.90,433.30 L134.14,432.89 L134.50,432.56 L134.71,432.18 L135.17,431.94 L135.62,431.66 L136.21,431.61 L136.81,431.48 L137.43,431.57 L137.89,431.88 L138.34,432.15 L138.51,432.56 L138.60,432.93Z" fill="none" stroke="#2d2d2d" stroke-width="0.8" stroke-linejoin="round"/>
<circle cx="134.86" cy="437.98" r="0.24" fill="#bbb"/>
<circle cx="146.70" cy="428.78" r="0.30" fill="#777"/>
<circle cx="135.69" cy="428.49" r="0.27" fill="#aaa"/>
<circle cx="123.82" cy="435.79" r="0.29" fill="#999"/>
<circle cx="132.64" cy="429.40" r="0.36" fill="#999"/>
<circle cx="124.07" cy="433.13" r="0.35" fill="#aaa"/>
<circle cx="148.40" cy="435.53" r="0.27" fill="#777"/>
<circle cx="152.97" cy="433.40" r="0.25" fill="#777"/>
<circle cx="129.49" cy="436.46" r="0.23" fill="#999"/>
<circle cx="132.56" cy="430.39" r="0.28" fill="#777"/>
<circle cx="146.79" cy="437.99" r="0.29" fill="#777"/>
<circle cx="133.13" cy="430.21" r="0.31" fill="#aaa"/>
<circle cx="150.83" cy="430.61" r="0.28" fill="#777"/>
<circle cx="128.13" cy="433.61" r="0.22" fill="#bbb"/>
<circle cx="151.56" cy="431.08" r="0.24" fill="#777"/>
<circle cx="133.59" cy="437.30" r="0.36" fill="#aaa"/>
<circle cx="152.92" cy="432.36" r="0.35" fill="#999"/>
<circle cx="144.72" cy="432.01" r="0.34" fill="#bbb"/>
<circle cx="149.98" cy="433.18" r="0.36" fill="#aaa"/>
<circle cx="147.75" cy="435.77" r="0.24" fill="#777"/>
<circle cx="133.82" cy="437.21" r="0.28" fill="#777"/>
<circle cx="142.81" cy="436.31" r="0.22" fill="#777"/>
<circle cx="150.49" cy="435.64" r="0.35" fill="#bbb"/>
<circle cx="127.78" cy="435.61" r="0.28" fill="#aaa"/>
<circle cx="145.22" cy="430.96" r="0.31" fill="#777"/>
<circle cx="126.11" cy="432.62" r="0.29" fill="#aaa"/>
<circle cx="138.53" cy="439.20" r="0.25" fill="#999"/>
<circle cx="139.88" cy="437.74" r="0.34" fill="#999"/>
<circle cx="131.92" cy="436.69" r="0.31" fill="#aaa"/>
<circle cx="125.38" cy="431.08" r="0.25" fill="#777"/>
<circle cx="138.21" cy="437.37" r="0.33" fill="#aaa"/>
<circle cx="139.42" cy="436.42" r="0.30" fill="#999"/>
<circle cx="149.83" cy="435.93" r="0.29" fill="#999"/>
<circle cx="149.35" cy="434.67" r="0.28" fill="#999"/>
<circle cx="127.23" cy="438.03" r="0.37" fill="#bbb"/>
<circle cx="124.96" cy="435.87" r="0.27" fill="#999"/>
<circle cx="139.84" cy="429.09" r="0.30" fill="#aaa"/>
<circle cx="145.27" cy="432.13" r="0.23" fill="#777"/>
<circle cx="152.80" cy="434.56" r="0.36" fill="#bbb"/>
<circle cx="143.18" cy="436.28" r="0.36" fill="#bbb"/>
<circle cx="147.06" cy="431.52" r="0.24" fill="#999"/>
<circle cx="133.41" cy="427.33" r="0.26" fill="#999"/>
<ellipse cx="137" cy="433.3" rx="11.8" ry="3.4" fill="none" stroke="#111" stroke-width="1.1"/>
<path d="M56.29,475.30 L57.28,476.15 L56.79,476.99 L54.31,477.22 L53.54,477.97 L52.20,478.66 L50.25,478.99 L48.09,479.20 L45.99,478.90 L44.13,478.42 L43.17,477.57 L42.91,476.70 L41.80,476.08 L41.58,475.30 L43.06,474.66 L42.92,473.90 L43.39,473.11 L44.43,472.36 L45.95,471.65 L48.20,471.80 L50.30,471.45 L52.23,471.91 L53.97,472.36 L55.61,472.89 L56.05,473.77 L56.85,474.50Z" fill="none" stroke="#7c7c7c" stroke-width="0.7" stroke-linejoin="round"/>
<path d="M54.90,475.30 L55.44,476.03 L54.34,476.58 L53.12,476.95 L52.40,477.52 L51.34,478.04 L49.86,478.14 L48.39,478.08 L46.58,478.42 L44.73,478.27 L43.97,477.42 L43.98,476.56 L43.46,475.95 L43.15,475.30 L43.54,474.66 L44.75,474.23 L44.84,473.53 L45.47,472.83 L46.81,472.46 L48.29,472.12 L49.97,472.02 L51.44,472.45 L52.30,473.15 L54.05,473.26 L54.63,473.95 L55.40,474.58Z" fill="none" stroke="#545454" stroke-width="0.7" stroke-linejoin="round"/>
<path d="M52.45,475.30 L52.51,475.82 L52.15,476.31 L51.48,476.68 L51.08,477.24 L50.31,477.73 L49.25,478.19 L48.05,477.73 L47.00,477.58 L45.83,477.47 L44.70,477.16 L44.36,476.50 L44.16,475.89 L43.96,475.30 L44.05,474.70 L44.69,474.19 L45.16,473.66 L46.36,473.55 L47.26,473.39 L48.11,473.14 L49.22,472.52 L50.49,472.61 L51.59,472.97 L52.35,473.51 L52.58,474.17 L52.99,474.72Z" fill="none" stroke="#2d2d2d" stroke-width="0.7" stroke-linejoin="round"/>
<path d="M51.84,475.30 L51.93,475.77 L52.11,476.37 L51.77,476.89 L50.91,477.02 L50.15,477.03 L49.55,477.20 L48.90,477.15 L48.46,476.72 L47.98,476.57 L47.56,476.34 L46.92,476.15 L46.51,475.77 L45.94,475.30 L46.26,474.79 L46.66,474.35 L47.17,474.02 L47.69,473.74 L48.29,473.58 L48.91,473.50 L49.51,473.65 L50.14,473.59 L50.64,473.86 L51.14,474.10 L51.88,474.32 L51.68,474.87Z" fill="none" stroke="#2d2d2d" stroke-width="0.7" stroke-linejoin="round"/>
<circle cx="45.25" cy="479.84" r="0.36" fill="#aaa"/>
<circle cx="43.26" cy="471.30" r="0.34" fill="#bbb"/>
<circle cx="59.64" cy="474.52" r="0.34" fill="#999"/>
<circle cx="46.56" cy="470.07" r="0.24" fill="#999"/>
<circle cx="39.51" cy="476.08" r="0.36" fill="#777"/>
<circle cx="57.38" cy="475.94" r="0.29" fill="#aaa"/>
<circle cx="43.19" cy="471.39" r="0.36" fill="#bbb"/>
<circle cx="45.32" cy="472.81" r="0.24" fill="#999"/>
<circle cx="59.41" cy="474.66" r="0.26" fill="#aaa"/>
<path d="M59.10,512.80 L58.65,513.52 L57.88,514.20 L56.78,514.82 L55.64,515.52 L54.28,516.51 L51.46,516.35 L49.09,516.02 L46.92,515.82 L43.93,515.96 L42.34,515.22 L40.81,514.51 L41.38,513.56 L39.88,512.80 L41.29,512.04 L41.85,511.28 L43.89,510.86 L45.10,510.22 L47.42,510.24 L49.15,509.73 L51.61,508.84 L54.61,508.79 L56.77,509.51 L57.24,510.64 L58.65,511.26 L59.69,511.99Z" fill="none" stroke="#949494" stroke-width="0.55" stroke-linejoin="round"/>
<path d="M59.49,512.80 L59.36,513.66 L57.74,514.31 L55.33,514.55 L54.16,515.02 L52.78,515.49 L51.08,515.97 L49.16,515.52 L47.44,515.37 L45.73,515.14 L45.19,514.41 L42.87,514.21 L41.97,513.54 L42.49,512.80 L41.88,512.05 L42.12,511.25 L42.63,510.35 L44.84,509.98 L47.23,510.02 L49.08,509.81 L50.84,510.37 L52.51,510.37 L54.32,510.49 L55.88,510.87 L56.60,511.52 L58.45,512.03Z" fill="none" stroke="#848484" stroke-width="0.55" stroke-linejoin="round"/>
<path d="M55.55,512.80 L55.88,513.40 L55.97,514.11 L55.42,514.80 L53.79,515.10 L52.52,515.59 L50.83,515.76 L49.15,515.58 L48.04,514.90 L46.96,514.60 L45.37,514.49 L43.57,514.19 L43.95,513.41 L44.70,512.80 L44.06,512.20 L44.71,511.66 L45.47,511.15 L45.94,510.38 L47.54,510.15 L49.10,509.85 L50.75,510.12 L52.46,510.08 L53.72,510.54 L54.55,511.12 L54.65,511.78 L54.69,512.32Z" fill="none" stroke="#747474" stroke-width="0.55" stroke-linejoin="round"/>
<path d="M54.81,512.80 L55.04,513.41 L54.64,514.00 L53.65,514.40 L52.88,514.87 L51.43,514.70 L50.40,514.60 L49.56,514.37 L48.38,514.82 L47.38,514.61 L46.73,514.19 L45.58,513.92 L44.94,513.40 L44.57,512.80 L45.16,512.23 L45.85,511.75 L46.63,511.37 L47.71,511.22 L48.50,510.95 L49.42,510.66 L50.49,510.62 L51.50,510.81 L52.52,510.99 L53.62,511.21 L54.47,511.65 L54.56,512.25Z" fill="none" stroke="#646464" stroke-width="0.55" stroke-linejoin="round"/>
<path d="M53.06,512.80 L53.33,513.32 L52.92,513.76 L52.12,513.96 L51.36,513.97 L50.88,514.12 L50.39,514.26 L49.81,514.43 L49.22,514.34 L48.44,514.37 L47.90,514.08 L47.53,513.68 L46.74,513.34 L46.77,512.80 L47.59,512.40 L47.96,512.06 L48.23,511.72 L48.54,511.32 L49.12,511.10 L49.79,511.06 L50.44,511.05 L51.14,511.04 L51.78,511.23 L52.40,511.48 L52.63,511.94 L52.81,512.37Z" fill="none" stroke="#545454" stroke-width="0.55" stroke-linejoin="round"/>
<circle cx="51.47" cy="517.53" r="0.29" fill="#bbb"/>
<circle cx="45.19" cy="509.81" r="0.30" fill="#777"/>
<circle cx="59.13" cy="512.29" r="0.22" fill="#bbb"/>
<circle cx="39.53" cy="515.45" r="0.23" fill="#aaa"/>
<circle cx="40.70" cy="516.61" r="0.37" fill="#aaa"/>
<circle cx="54.33" cy="518.17" r="0.29" fill="#777"/>
<circle cx="57.90" cy="513.95" r="0.23" fill="#bbb"/>
<circle cx="61.63" cy="512.07" r="0.33" fill="#aaa"/>
<circle cx="42.44" cy="511.03" r="0.30" fill="#bbb"/>
<circle cx="57.77" cy="512.52" r="0.34" fill="#aaa"/>
<circle cx="43.00" cy="512.63" r="0.30" fill="#aaa"/>
<circle cx="42.00" cy="512.91" r="0.32" fill="#bbb"/>
<circle cx="46.99" cy="518.01" r="0.32" fill="#bbb"/>
<circle cx="55.87" cy="514.60" r="0.30" fill="#bbb"/>
<circle cx="60.75" cy="512.53" r="0.27" fill="#aaa"/>
<circle cx="50.40" cy="509.61" r="0.30" fill="#aaa"/>
<circle cx="54.60" cy="516.33" r="0.28" fill="#999"/>
<circle cx="48.63" cy="516.80" r="0.30" fill="#777"/>
<circle cx="42.29" cy="515.31" r="0.31" fill="#aaa"/>
<circle cx="55.57" cy="508.66" r="0.25" fill="#999"/>
<circle cx="55.50" cy="514.98" r="0.33" fill="#777"/>
<circle cx="49.09" cy="517.21" r="0.32" fill="#777"/>
<circle cx="47.67" cy="516.63" r="0.32" fill="#aaa"/>
<circle cx="43.31" cy="517.58" r="0.35" fill="#999"/>
<circle cx="47.86" cy="509.89" r="0.31" fill="#aaa"/>
<circle cx="58.36" cy="512.49" r="0.31" fill="#999"/>
<circle cx="45.23" cy="517.24" r="0.34" fill="#aaa"/>
<circle cx="56.09" cy="510.51" r="0.36" fill="#999"/>
<circle cx="46.43" cy="509.68" r="0.31" fill="#aaa"/>
<circle cx="42.99" cy="517.10" r="0.35" fill="#aaa"/>
<circle cx="51.38" cy="516.81" r="0.29" fill="#999"/>
<circle cx="43.78" cy="508.00" r="0.33" fill="#777"/>
<circle cx="44.33" cy="507.58" r="0.23" fill="#777"/>
<circle cx="58.93" cy="513.90" r="0.31" fill="#bbb"/>
<circle cx="54.71" cy="510.39" r="0.28" fill="#777"/>
<circle cx="59.29" cy="510.19" r="0.23" fill="#aaa"/>
<circle cx="56.62" cy="516.89" r="0.29" fill="#777"/>
<circle cx="47.41" cy="517.31" r="0.26" fill="#aaa"/>
<circle cx="63.19" cy="512.93" r="0.26" fill="#aaa"/>
<circle cx="58.94" cy="513.20" r="0.26" fill="#999"/>
<circle cx="59.61" cy="516.38" r="0.32" fill="#bbb"/>
<circle cx="53.91" cy="517.07" r="0.32" fill="#bbb"/>
<circle cx="40.31" cy="512.79" r="0.27" fill="#bbb"/>
<circle cx="49.04" cy="517.08" r="0.26" fill="#999"/>
<circle cx="47.28" cy="516.77" r="0.31" fill="#777"/>
<circle cx="48.20" cy="516.26" r="0.32" fill="#bbb"/>
<circle cx="49.63" cy="508.48" r="0.30" fill="#bbb"/>
<circle cx="51.60" cy="517.45" r="0.23" fill="#999"/>
<path d="M103.17,513.00 L101.89,513.80 L102.55,514.82 L100.08,515.37 L97.98,515.91 L94.43,515.29 L92.59,515.31 L90.79,515.43 L88.67,515.57 L86.38,515.47 L83.14,515.43 L81.25,514.76 L81.35,513.82 L79.67,513.00 L80.13,512.09 L82.74,511.49 L85.74,511.31 L86.68,510.67 L88.03,509.89 L90.50,509.81 L92.83,510.05 L95.13,510.12 L96.90,510.60 L98.18,511.17 L100.92,511.45 L102.99,512.11Z" fill="none" stroke="#838383" stroke-width="0.55" stroke-linejoin="round"/>
<path d="M100.70,513.00 L99.95,513.71 L99.94,514.50 L98.64,515.13 L96.44,515.36 L94.43,515.44 L92.58,515.26 L90.80,515.87 L88.72,515.84 L87.30,515.28 L87.04,514.48 L86.11,514.05 L84.56,513.63 L84.96,513.00 L84.25,512.35 L84.57,511.67 L85.72,511.11 L86.86,510.49 L88.22,509.69 L90.72,509.90 L92.62,510.62 L94.00,510.96 L95.08,511.33 L97.04,511.37 L98.28,511.81 L99.96,512.29Z" fill="none" stroke="#616161" stroke-width="0.55" stroke-linejoin="round"/>
<path d="M98.33,513.00 L97.74,513.53 L97.55,514.08 L97.15,514.67 L96.01,515.07 L94.87,515.54 L93.28,515.63 L91.87,515.10 L90.90,514.71 L89.72,514.63 L89.07,514.23 L88.68,513.81 L87.23,513.53 L86.27,513.00 L85.68,512.32 L86.22,511.66 L87.24,511.11 L89.14,511.02 L90.64,511.01 L91.88,510.94 L93.12,510.92 L94.35,511.02 L95.12,511.45 L96.40,511.60 L97.36,511.96 L97.81,512.47Z" fill="none" stroke="#3f3f3f" stroke-width="0.55" stroke-linejoin="round"/>
<path d="M97.65,513.00 L96.88,513.45 L96.32,513.80 L96.01,514.21 L95.76,514.78 L94.85,514.96 L93.86,514.82 L93.04,514.77 L92.15,514.81 L91.72,514.32 L91.00,514.15 L90.98,513.69 L90.81,513.34 L90.58,513.00 L89.81,512.52 L89.52,511.91 L90.07,511.42 L91.16,511.25 L92.09,511.11 L93.03,511.20 L93.86,511.17 L94.41,511.65 L95.00,511.81 L95.51,512.03 L96.00,512.29 L97.13,512.52Z" fill="none" stroke="#2d2d2d" stroke-width="0.55" stroke-linejoin="round"/>
<circle cx="86.43" cy="515.07" r="0.24" fill="#777"/>
<circle cx="84.39" cy="517.66" r="0.31" fill="#777"/>
<circle cx="93.04" cy="516.28" r="0.24" fill="#bbb"/>
<circle cx="95.52" cy="517.37" r="0.23" fill="#999"/>
<circle cx="97.77" cy="508.55" r="0.24" fill="#bbb"/>
<circle cx="82.39" cy="511.25" r="0.22" fill="#bbb"/>
<circle cx="87.10" cy="518.21" r="0.25" fill="#777"/>
<circle cx="88.38" cy="515.43" r="0.26" fill="#bbb"/>
<circle cx="89.40" cy="517.54" r="0.28" fill="#999"/>
<circle cx="89.48" cy="509.29" r="0.36" fill="#777"/>
<circle cx="100.70" cy="513.91" r="0.26" fill="#aaa"/>
<circle cx="99.69" cy="512.93" r="0.31" fill="#999"/>
<circle cx="98.20" cy="510.18" r="0.24" fill="#aaa"/>
<circle cx="104.08" cy="512.37" r="0.31" fill="#aaa"/>
<circle cx="87.07" cy="509.05" r="0.37" fill="#aaa"/>
<circle cx="98.14" cy="509.07" r="0.26" fill="#999"/>
<circle cx="84.37" cy="513.07" r="0.29" fill="#777"/>
<circle cx="84.55" cy="511.40" r="0.25" fill="#bbb"/>
<circle cx="79.71" cy="514.69" r="0.26" fill="#777"/>
<circle cx="84.14" cy="516.55" r="0.30" fill="#999"/>
<circle cx="91.23" cy="516.85" r="0.33" fill="#aaa"/>
<circle cx="100.86" cy="516.13" r="0.32" fill="#aaa"/>
<circle cx="81.65" cy="513.82" r="0.23" fill="#777"/>
<circle cx="90.15" cy="509.63" r="0.25" fill="#bbb"/>
<path d="M144.86,513.50 L143.65,514.36 L142.49,515.08 L141.66,515.87 L140.24,516.54 L138.26,516.91 L136.22,517.29 L133.66,518.30 L131.14,517.75 L128.96,517.13 L127.44,516.27 L126.37,515.37 L124.99,514.52 L125.02,513.50 L125.33,512.52 L125.95,511.54 L128.83,511.23 L130.25,510.64 L131.86,510.03 L133.88,509.43 L136.05,510.29 L138.39,509.95 L141.11,509.94 L143.86,510.33 L145.57,511.25 L146.62,512.34Z" fill="none" stroke="#888888" stroke-width="0.55" stroke-linejoin="round"/>
<path d="M142.11,513.50 L142.58,514.38 L142.38,515.34 L141.92,516.42 L139.28,516.60 L137.25,516.78 L135.39,517.05 L133.39,517.20 L131.71,516.63 L129.87,516.39 L128.63,515.75 L127.99,514.98 L127.43,514.26 L126.97,513.50 L126.85,512.68 L127.47,511.90 L128.86,511.34 L129.33,510.27 L130.91,509.44 L133.27,509.36 L135.38,509.99 L137.09,510.40 L138.53,510.88 L139.08,511.68 L140.90,512.01 L141.33,512.75Z" fill="none" stroke="#6b6b6b" stroke-width="0.55" stroke-linejoin="round"/>
<path d="M142.36,513.50 L140.59,514.24 L138.95,514.66 L139.04,515.50 L137.97,516.01 L136.48,516.17 L135.19,516.63 L133.67,516.47 L132.26,516.26 L131.04,515.88 L129.31,515.70 L128.91,514.91 L128.71,514.18 L127.53,513.50 L126.83,512.59 L127.09,511.63 L129.16,511.23 L131.29,511.30 L132.52,511.08 L133.85,511.26 L135.00,511.13 L136.38,510.97 L138.16,510.85 L139.12,511.46 L140.49,511.94 L142.39,512.54Z" fill="none" stroke="#4e4e4e" stroke-width="0.55" stroke-linejoin="round"/>
<path d="M138.64,513.50 L139.26,514.17 L138.43,514.68 L137.81,515.18 L137.13,515.68 L136.22,516.09 L135.05,516.06 L133.89,516.41 L132.86,515.98 L132.04,515.55 L130.76,515.40 L130.03,514.84 L130.39,514.08 L130.91,513.50 L130.86,512.99 L131.01,512.45 L131.24,511.84 L131.79,511.25 L132.70,510.78 L133.82,510.28 L135.20,510.22 L136.28,510.81 L137.33,511.15 L137.59,511.93 L137.54,512.59 L138.22,512.98Z" fill="none" stroke="#313131" stroke-width="0.55" stroke-linejoin="round"/>
<path d="M137.34,513.50 L137.24,514.01 L137.16,514.56 L136.82,515.05 L136.24,515.40 L135.58,515.62 L134.95,516.16 L134.15,515.91 L133.60,515.37 L133.24,514.93 L132.74,514.72 L132.32,514.39 L132.19,513.94 L132.08,513.50 L131.80,512.98 L131.74,512.38 L131.93,511.73 L132.49,511.24 L133.36,511.13 L134.23,511.63 L134.80,511.78 L135.49,511.57 L135.97,511.90 L136.21,512.36 L136.67,512.64 L137.48,512.94Z" fill="none" stroke="#2d2d2d" stroke-width="0.55" stroke-linejoin="round"/>
<circle cx="126.81" cy="513.88" r="0.25" fill="#777"/>
<circle cx="145.87" cy="512.59" r="0.23" fill="#999"/>
<circle cx="124.59" cy="513.32" r="0.28" fill="#bbb"/>
<circle cx="129.36" cy="509.64" r="0.34" fill="#bbb"/>
<circle cx="141.13" cy="516.56" r="0.27" fill="#bbb"/>
<circle cx="142.03" cy="508.32" r="0.35" fill="#999"/>
<circle cx="126.51" cy="517.28" r="0.28" fill="#aaa"/>
<circle cx="122.72" cy="510.62" r="0.36" fill="#999"/>
<circle cx="131.93" cy="518.06" r="0.32" fill="#777"/>
<circle cx="145.42" cy="512.82" r="0.30" fill="#777"/>
<circle cx="136.73" cy="508.36" r="0.35" fill="#777"/>
<circle cx="128.92" cy="517.62" r="0.34" fill="#999"/>
<circle cx="146.28" cy="510.89" r="0.33" fill="#aaa"/>
<circle cx="146.04" cy="514.58" r="0.29" fill="#aaa"/>
<circle cx="144.71" cy="513.87" r="0.34" fill="#777"/>
<circle cx="129.44" cy="511.36" r="0.29" fill="#bbb"/>
<circle cx="125.98" cy="513.86" r="0.29" fill="#bbb"/>
<circle cx="134.62" cy="517.46" r="0.24" fill="#777"/>
<circle cx="137.64" cy="509.93" r="0.30" fill="#777"/>
<circle cx="139.81" cy="518.60" r="0.37" fill="#aaa"/>
<circle cx="123.50" cy="510.39" r="0.33" fill="#777"/>
<circle cx="128.83" cy="509.42" r="0.32" fill="#aaa"/>
<circle cx="140.74" cy="517.98" r="0.34" fill="#bbb"/>
<circle cx="134.56" cy="506.87" r="0.23" fill="#bbb"/>
<circle cx="139.40" cy="516.40" r="0.36" fill="#999"/>
<circle cx="136.33" cy="509.66" r="0.29" fill="#999"/>
<circle cx="126.93" cy="511.74" r="0.24" fill="#aaa"/>
<circle cx="130.09" cy="517.79" r="0.30" fill="#bbb"/>
<circle cx="145.78" cy="517.14" r="0.27" fill="#777"/>
<circle cx="128.14" cy="508.83" r="0.28" fill="#999"/>
<path d="M70.60,552.00 L68.75,552.98 L66.86,553.77 L66.17,554.79 L64.04,555.57 L60.47,555.47 L58.04,556.43 L54.56,556.79 L50.95,556.59 L47.79,555.99 L43.99,555.53 L42.07,554.41 L43.97,552.98 L43.18,552.00 L42.83,550.93 L43.46,549.82 L47.22,549.39 L49.57,548.83 L51.62,547.98 L54.64,547.41 L58.22,547.09 L61.67,547.50 L64.39,548.27 L66.39,549.15 L68.90,549.89 L70.60,550.87Z" fill="none" stroke="#8e8e8e" stroke-width="0.55" stroke-linejoin="round"/>
<path d="M66.10,552.00 L65.41,552.80 L65.72,553.76 L65.32,554.85 L62.98,555.50 L60.00,555.68 L57.46,556.35 L54.40,556.25 L51.78,555.71 L49.38,555.23 L47.34,554.59 L46.25,553.73 L45.24,552.90 L43.97,552.00 L43.47,550.95 L45.69,550.17 L48.87,549.87 L49.73,548.94 L51.65,548.17 L54.48,547.99 L57.29,548.11 L60.59,547.78 L63.97,548.01 L65.42,549.12 L66.01,550.19 L66.06,551.15Z" fill="none" stroke="#787878" stroke-width="0.55" stroke-linejoin="round"/>
<path d="M65.35,552.00 L65.81,552.84 L65.59,553.75 L64.72,554.66 L62.87,555.36 L60.43,555.73 L57.87,555.83 L55.56,555.20 L53.73,554.82 L51.40,554.80 L49.97,554.18 L47.91,553.69 L46.53,552.92 L46.19,552.00 L45.86,551.02 L46.83,550.10 L49.09,549.53 L50.39,548.66 L53.48,548.94 L55.44,548.43 L57.76,548.51 L60.14,548.55 L61.89,549.17 L63.63,549.70 L64.88,550.39 L65.13,551.22Z" fill="none" stroke="#616161" stroke-width="0.55" stroke-linejoin="round"/>
<path d="M62.34,552.00 L62.67,552.73 L62.89,553.60 L61.93,554.35 L60.88,555.20 L58.39,555.11 L56.42,554.96 L54.65,555.08 L52.96,554.84 L51.52,554.42 L50.65,553.80 L49.68,553.28 L48.39,552.73 L47.95,552.00 L48.23,551.25 L48.49,550.46 L49.98,549.95 L51.69,549.68 L52.69,548.86 L54.53,548.51 L56.58,548.49 L58.22,549.08 L59.50,549.62 L60.53,550.17 L61.48,550.71 L61.87,551.35Z" fill="none" stroke="#4b4b4b" stroke-width="0.55" stroke-linejoin="round"/>
<path d="M62.56,552.00 L62.68,552.72 L62.13,553.38 L60.96,553.83 L60.02,554.31 L58.85,554.68 L57.38,554.36 L56.24,554.28 L55.00,554.34 L53.54,554.33 L52.71,553.79 L51.65,553.34 L50.95,552.71 L50.76,552.00 L51.07,551.30 L51.48,550.62 L52.54,550.13 L53.72,549.79 L54.82,549.43 L56.08,549.10 L57.52,549.06 L58.69,549.53 L59.27,550.23 L60.72,550.28 L61.56,550.76 L62.22,551.34Z" fill="none" stroke="#343434" stroke-width="0.55" stroke-linejoin="round"/>
<path d="M60.16,552.00 L60.21,552.54 L59.88,553.04 L59.91,553.77 L59.09,554.09 L58.21,554.26 L57.33,554.14 L56.52,554.36 L55.86,553.92 L55.12,553.78 L54.26,553.60 L53.82,553.10 L53.83,552.52 L53.96,552.00 L53.85,551.49 L53.77,550.88 L54.34,550.45 L55.09,550.19 L55.50,549.45 L56.47,549.41 L57.35,549.74 L58.14,549.87 L58.67,550.32 L58.93,550.81 L59.75,551.01 L60.36,551.43Z" fill="none" stroke="#2d2d2d" stroke-width="0.55" stroke-linejoin="round"/>
<circle cx="66.08" cy="556.00" r="0.30" fill="#aaa"/>
<circle cx="44.42" cy="551.97" r="0.28" fill="#bbb"/>
<circle cx="42.14" cy="552.97" r="0.36" fill="#aaa"/>
<circle cx="72.96" cy="548.85" r="0.33" fill="#999"/>
<circle cx="62.02" cy="559.13" r="0.31" fill="#bbb"/>
<circle cx="44.59" cy="558.36" r="0.32" fill="#aaa"/>
<circle cx="69.01" cy="557.53" r="0.32" fill="#777"/>
<circle cx="64.88" cy="554.58" r="0.35" fill="#777"/>
<circle cx="55.11" cy="556.33" r="0.37" fill="#aaa"/>
<circle cx="52.96" cy="546.33" r="0.34" fill="#aaa"/>
<circle cx="43.56" cy="551.71" r="0.33" fill="#aaa"/>
<circle cx="64.08" cy="555.74" r="0.25" fill="#999"/>
<circle cx="55.57" cy="547.61" r="0.36" fill="#777"/>
<circle cx="65.78" cy="545.87" r="0.31" fill="#aaa"/>
<circle cx="71.16" cy="555.07" r="0.23" fill="#777"/>
<circle cx="71.72" cy="554.56" r="0.23" fill="#bbb"/>
<circle cx="41.75" cy="548.63" r="0.32" fill="#999"/>
<circle cx="51.33" cy="546.95" r="0.33" fill="#777"/>
<circle cx="43.85" cy="556.67" r="0.29" fill="#bbb"/>
<circle cx="59.97" cy="557.49" r="0.24" fill="#777"/>
<circle cx="74.74" cy="551.36" r="0.24" fill="#999"/>
<circle cx="73.47" cy="550.56" r="0.32" fill="#999"/>
<circle cx="74.15" cy="552.95" r="0.33" fill="#999"/>
<circle cx="45.95" cy="548.52" r="0.32" fill="#aaa"/>
<circle cx="44.68" cy="558.38" r="0.32" fill="#777"/>
<circle cx="42.06" cy="547.60" r="0.29" fill="#bbb"/>
<circle cx="71.75" cy="552.58" r="0.35" fill="#999"/>
<circle cx="45.81" cy="548.53" r="0.32" fill="#777"/>
<circle cx="49.48" cy="557.26" r="0.31" fill="#bbb"/>
<circle cx="66.41" cy="546.41" r="0.29" fill="#999"/>
<circle cx="66.91" cy="548.68" r="0.30" fill="#777"/>
<circle cx="65.01" cy="549.92" r="0.27" fill="#bbb"/>
<circle cx="72.89" cy="554.91" r="0.33" fill="#aaa"/>
<circle cx="55.58" cy="547.70" r="0.27" fill="#bbb"/>
<circle cx="71.24" cy="553.81" r="0.31" fill="#999"/>
<circle cx="51.93" cy="556.95" r="0.28" fill="#aaa"/>
<circle cx="51.00" cy="547.13" r="0.32" fill="#aaa"/>
<circle cx="47.36" cy="556.32" r="0.36" fill="#aaa"/>
<circle cx="58.83" cy="544.99" r="0.35" fill="#999"/>
<circle cx="55.39" cy="547.85" r="0.26" fill="#999"/>
<circle cx="70.73" cy="556.11" r="0.34" fill="#999"/>
<circle cx="66.95" cy="555.57" r="0.24" fill="#bbb"/>
<circle cx="70.50" cy="550.81" r="0.23" fill="#aaa"/>
<circle cx="39.39" cy="554.64" r="0.26" fill="#777"/>
<circle cx="58.55" cy="557.03" r="0.27" fill="#bbb"/>
<circle cx="46.42" cy="545.56" r="0.35" fill="#999"/>
<circle cx="66.80" cy="549.65" r="0.23" fill="#aaa"/>
<circle cx="46.81" cy="549.93" r="0.30" fill="#777"/>
<path d="M108.21,550.70 L109.23,551.48 L109.10,552.34 L107.26,553.03 L104.42,553.38 L101.66,553.61 L99.18,554.21 L95.95,554.43 L92.36,554.46 L89.97,553.71 L87.60,553.11 L86.46,552.29 L87.46,551.38 L86.91,550.70 L86.87,549.98 L87.95,549.32 L88.60,548.53 L90.28,547.81 L92.40,546.96 L95.85,546.76 L99.29,546.94 L102.30,547.33 L104.35,548.05 L106.14,548.65 L108.82,549.10 L109.26,549.92Z" fill="none" stroke="#858585" stroke-width="0.55" stroke-linejoin="round"/>
<path d="M108.26,550.70 L109.26,551.50 L108.47,552.29 L106.06,552.74 L104.02,553.16 L102.03,553.61 L99.64,553.90 L97.22,553.43 L95.15,553.21 L93.40,552.83 L91.00,552.64 L90.25,551.97 L88.79,551.40 L89.81,550.70 L90.28,550.11 L89.29,549.28 L90.22,548.55 L92.24,548.06 L94.53,547.71 L97.03,547.50 L99.57,547.65 L101.78,547.99 L103.39,548.52 L104.40,549.10 L104.85,549.68 L106.05,550.13Z" fill="none" stroke="#666666" stroke-width="0.55" stroke-linejoin="round"/>
<path d="M105.27,550.70 L104.64,551.21 L104.35,551.73 L104.35,552.45 L103.55,553.16 L101.68,553.47 L99.54,553.28 L97.80,553.09 L96.27,552.85 L95.52,552.26 L93.27,552.34 L91.87,551.93 L91.67,551.29 L92.80,550.70 L91.46,550.09 L92.35,549.56 L92.96,548.96 L94.82,548.79 L96.08,548.38 L97.75,548.18 L99.51,548.21 L101.30,548.27 L103.17,548.43 L103.43,549.23 L103.19,549.87 L104.52,550.20Z" fill="none" stroke="#464646" stroke-width="0.55" stroke-linejoin="round"/>
<path d="M103.25,550.70 L102.55,551.10 L102.59,551.56 L102.66,552.18 L101.43,552.32 L100.58,552.63 L99.48,552.62 L98.33,553.02 L97.23,552.75 L96.39,552.38 L95.50,552.08 L95.52,551.51 L95.98,551.03 L95.28,550.70 L94.87,550.25 L94.87,549.73 L95.43,549.29 L96.39,549.02 L97.22,548.64 L98.35,548.45 L99.51,548.66 L100.56,548.81 L101.11,549.29 L101.82,549.56 L102.47,549.87 L103.51,550.20Z" fill="none" stroke="#2d2d2d" stroke-width="0.55" stroke-linejoin="round"/>
<circle cx="103.07" cy="547.03" r="0.24" fill="#777"/>
<circle cx="106.32" cy="554.23" r="0.31" fill="#999"/>
<circle cx="85.32" cy="551.96" r="0.31" fill="#777"/>
<circle cx="105.90" cy="555.43" r="0.35" fill="#bbb"/>
<circle cx="102.03" cy="554.80" r="0.27" fill="#999"/>
<circle cx="100.80" cy="554.80" r="0.29" fill="#bbb"/>
<circle cx="108.24" cy="550.36" r="0.34" fill="#bbb"/>
<circle cx="108.05" cy="549.87" r="0.35" fill="#999"/>
<circle cx="106.86" cy="548.94" r="0.37" fill="#777"/>
<circle cx="107.46" cy="547.67" r="0.30" fill="#999"/>
<circle cx="85.33" cy="549.82" r="0.33" fill="#777"/>
<circle cx="86.51" cy="551.16" r="0.35" fill="#777"/>
<circle cx="84.84" cy="551.84" r="0.36" fill="#777"/>
<circle cx="107.21" cy="554.05" r="0.32" fill="#999"/>
<circle cx="95.16" cy="547.38" r="0.32" fill="#777"/>
<circle cx="104.51" cy="552.77" r="0.31" fill="#777"/>
<circle cx="106.08" cy="547.26" r="0.34" fill="#999"/>
<circle cx="109.20" cy="548.28" r="0.22" fill="#777"/>
<circle cx="91.51" cy="553.37" r="0.31" fill="#999"/>
<circle cx="96.46" cy="553.81" r="0.28" fill="#aaa"/>
<circle cx="106.56" cy="549.18" r="0.25" fill="#999"/>
<circle cx="88.87" cy="552.41" r="0.24" fill="#bbb"/>
<circle cx="110.73" cy="551.15" r="0.25" fill="#999"/>
<circle cx="102.34" cy="556.30" r="0.33" fill="#aaa"/>
<circle cx="86.76" cy="549.29" r="0.26" fill="#999"/>
<circle cx="106.98" cy="547.04" r="0.25" fill="#aaa"/>
<circle cx="88.58" cy="549.64" r="0.27" fill="#777"/>
<circle cx="103.89" cy="552.72" r="0.26" fill="#999"/>
<circle cx="109.58" cy="553.81" r="0.35" fill="#999"/>
<circle cx="86.81" cy="551.42" r="0.34" fill="#777"/>
<path d="M146.98,551.30 L147.20,551.99 L147.02,552.73 L145.99,553.47 L143.66,553.93 L141.26,554.36 L138.38,554.39 L135.68,554.28 L133.12,554.09 L130.92,553.70 L129.22,553.18 L128.05,552.58 L126.04,552.04 L126.18,551.30 L126.95,550.62 L127.67,549.96 L128.87,549.34 L130.51,548.74 L132.76,548.25 L135.45,547.81 L138.46,548.02 L140.70,548.64 L142.73,549.04 L145.28,549.30 L146.80,549.90 L146.04,550.69Z" fill="none" stroke="#8d8d8d" stroke-width="0.55" stroke-linejoin="round"/>
<path d="M145.69,551.30 L144.61,551.83 L143.49,552.26 L143.01,552.79 L142.21,553.40 L140.35,553.67 L138.39,553.98 L136.17,553.98 L133.64,554.12 L131.69,553.68 L130.24,553.13 L129.36,552.52 L128.79,551.91 L129.13,551.30 L128.57,550.67 L128.72,549.98 L131.06,549.68 L132.52,549.28 L134.23,548.94 L136.09,548.42 L138.42,548.55 L140.59,548.74 L143.02,548.86 L144.52,549.42 L145.75,549.99 L146.42,550.64Z" fill="none" stroke="#767676" stroke-width="0.55" stroke-linejoin="round"/>
<path d="M143.95,551.30 L144.60,551.86 L143.48,552.31 L142.46,552.70 L141.60,553.19 L140.31,553.63 L138.56,553.89 L136.69,553.74 L135.04,553.50 L133.46,553.25 L132.57,552.75 L131.22,552.39 L130.63,551.86 L130.72,551.30 L131.22,550.79 L131.28,550.22 L132.09,549.71 L133.93,549.57 L135.16,549.21 L136.70,548.88 L138.54,548.77 L140.59,548.73 L141.94,549.25 L142.80,549.80 L143.54,550.28 L143.46,550.83Z" fill="none" stroke="#5e5e5e" stroke-width="0.55" stroke-linejoin="round"/>
<path d="M141.56,551.30 L142.10,551.85 L141.02,552.26 L140.51,552.74 L138.97,552.80 L138.26,553.32 L136.90,553.33 L135.73,552.95 L134.73,552.84 L133.60,552.77 L132.55,552.56 L131.57,552.24 L130.92,551.80 L130.37,551.30 L131.36,550.84 L131.63,550.37 L132.32,549.96 L133.30,549.66 L134.49,549.52 L135.68,549.50 L136.85,549.41 L138.26,549.28 L139.10,549.72 L139.62,550.16 L140.60,550.43 L141.48,550.81Z" fill="none" stroke="#474747" stroke-width="0.55" stroke-linejoin="round"/>
<path d="M139.28,551.30 L139.12,551.66 L138.93,552.02 L138.87,552.49 L138.23,552.78 L137.46,552.94 L136.61,552.88 L135.85,552.92 L135.15,552.77 L134.73,552.41 L133.95,552.34 L133.62,552.00 L133.40,551.66 L133.12,551.30 L132.63,550.84 L133.03,550.44 L133.71,550.16 L134.58,550.07 L135.07,549.73 L135.87,549.77 L136.62,549.68 L137.28,549.90 L137.93,550.04 L138.54,550.26 L138.95,550.57 L139.36,550.91Z" fill="none" stroke="#2f2f2f" stroke-width="0.55" stroke-linejoin="round"/>
<circle cx="122.85" cy="549.41" r="0.23" fill="#999"/>
<circle cx="144.59" cy="551.09" r="0.35" fill="#777"/>
<circle cx="149.47" cy="548.46" r="0.36" fill="#999"/>
<circle cx="145.68" cy="553.66" r="0.27" fill="#999"/>
<circle cx="132.49" cy="547.96" r="0.29" fill="#bbb"/>
<circle cx="149.24" cy="550.44" r="0.31" fill="#999"/>
<circle cx="147.67" cy="548.94" r="0.29" fill="#999"/>
<circle cx="128.27" cy="554.76" r="0.36" fill="#bbb"/>
<circle cx="127.61" cy="551.64" r="0.33" fill="#bbb"/>
<circle cx="127.35" cy="551.59" r="0.23" fill="#777"/>
<circle cx="137.30" cy="554.41" r="0.32" fill="#bbb"/>
<circle cx="138.65" cy="555.69" r="0.33" fill="#aaa"/>
<circle cx="147.06" cy="551.19" r="0.29" fill="#bbb"/>
<circle cx="127.75" cy="551.12" r="0.33" fill="#777"/>
<circle cx="151.06" cy="551.01" r="0.23" fill="#777"/>
<circle cx="127.91" cy="550.48" r="0.34" fill="#aaa"/>
<circle cx="128.12" cy="549.46" r="0.32" fill="#bbb"/>
<circle cx="149.28" cy="551.15" r="0.33" fill="#bbb"/>
<circle cx="141.08" cy="555.66" r="0.34" fill="#bbb"/>
<circle cx="136.96" cy="555.97" r="0.35" fill="#777"/>
<circle cx="144.98" cy="552.89" r="0.26" fill="#aaa"/>
<circle cx="147.13" cy="549.98" r="0.26" fill="#bbb"/>
<circle cx="152.04" cy="551.62" r="0.24" fill="#aaa"/>
<circle cx="128.73" cy="547.07" r="0.27" fill="#bbb"/>
<circle cx="126.48" cy="550.75" r="0.25" fill="#bbb"/>
<circle cx="128.42" cy="555.03" r="0.30" fill="#aaa"/>
<circle cx="144.84" cy="554.93" r="0.35" fill="#aaa"/>
<circle cx="146.90" cy="551.68" r="0.33" fill="#bbb"/>
<circle cx="125.48" cy="550.28" r="0.30" fill="#aaa"/>
<circle cx="145.88" cy="553.70" r="0.33" fill="#aaa"/>
<circle cx="125.72" cy="553.11" r="0.33" fill="#777"/>
<circle cx="143.79" cy="554.85" r="0.28" fill="#777"/>
<circle cx="144.39" cy="547.50" r="0.36" fill="#999"/>
<circle cx="147.07" cy="550.50" r="0.33" fill="#777"/>
<circle cx="127.79" cy="551.39" r="0.23" fill="#bbb"/>
<circle cx="138.26" cy="555.94" r="0.29" fill="#999"/>
<path d="M64.26,587.70 L62.73,588.48 L62.88,589.38 L61.18,590.07 L59.12,590.64 L57.01,591.34 L54.09,591.64 L51.19,591.15 L49.28,590.36 L47.09,590.14 L45.28,589.69 L44.08,589.07 L43.58,588.38 L40.90,587.70 L39.87,586.73 L40.60,585.76 L43.04,585.10 L45.50,584.55 L48.94,584.77 L51.43,584.88 L53.77,584.57 L56.26,584.67 L58.64,584.97 L59.77,585.72 L62.25,586.13 L62.89,586.91Z" fill="none" stroke="#838383" stroke-width="0.55" stroke-linejoin="round"/>
<path d="M60.95,587.70 L61.80,588.43 L61.87,589.28 L59.74,589.72 L58.30,590.30 L56.42,590.75 L54.14,590.86 L51.98,590.58 L50.22,590.20 L48.59,589.87 L46.64,589.62 L45.47,589.04 L45.52,588.33 L45.69,587.70 L44.80,587.01 L45.70,586.40 L46.62,585.78 L47.28,584.89 L49.46,584.52 L51.89,584.57 L54.16,584.48 L56.14,584.91 L58.23,585.14 L57.73,586.28 L59.05,586.62 L60.83,587.05Z" fill="none" stroke="#616161" stroke-width="0.55" stroke-linejoin="round"/>
<path d="M59.42,587.70 L59.27,588.28 L58.98,588.88 L58.00,589.36 L56.64,589.63 L55.28,589.82 L53.97,590.08 L52.38,590.46 L50.64,590.38 L49.38,589.89 L47.87,589.56 L47.29,588.92 L47.14,588.29 L47.50,587.70 L48.18,587.21 L48.46,586.72 L48.95,586.21 L49.53,585.59 L50.72,585.10 L52.46,585.19 L54.01,585.20 L55.73,585.12 L57.13,585.48 L58.11,586.00 L57.87,586.74 L59.26,587.12Z" fill="none" stroke="#3f3f3f" stroke-width="0.55" stroke-linejoin="round"/>
<path d="M57.02,587.70 L56.32,588.17 L55.49,588.49 L55.16,588.88 L54.34,589.03 L53.76,589.33 L53.00,589.58 L52.08,589.68 L51.17,589.57 L50.55,589.18 L49.57,589.06 L49.00,588.65 L48.61,588.20 L48.49,587.70 L48.65,587.21 L48.89,586.72 L49.57,586.35 L50.59,586.24 L51.33,586.05 L52.19,586.16 L52.93,586.10 L53.97,585.79 L55.12,585.80 L55.94,586.17 L56.11,586.75 L56.66,587.18Z" fill="none" stroke="#2d2d2d" stroke-width="0.55" stroke-linejoin="round"/>
<circle cx="46.16" cy="589.58" r="0.24" fill="#777"/>
<circle cx="45.03" cy="590.41" r="0.27" fill="#aaa"/>
<circle cx="53.40" cy="591.14" r="0.26" fill="#777"/>
<circle cx="55.11" cy="584.03" r="0.28" fill="#999"/>
<circle cx="67.28" cy="586.79" r="0.35" fill="#bbb"/>
<circle cx="65.70" cy="584.72" r="0.25" fill="#bbb"/>
<circle cx="45.36" cy="588.49" r="0.28" fill="#aaa"/>
<circle cx="43.39" cy="592.23" r="0.23" fill="#bbb"/>
<circle cx="42.89" cy="589.76" r="0.31" fill="#777"/>
<circle cx="60.70" cy="591.67" r="0.32" fill="#999"/>
<circle cx="59.81" cy="591.58" r="0.26" fill="#bbb"/>
<circle cx="38.95" cy="586.75" r="0.27" fill="#aaa"/>
<circle cx="53.54" cy="592.26" r="0.34" fill="#777"/>
<circle cx="43.79" cy="583.78" r="0.31" fill="#777"/>
<circle cx="45.60" cy="584.77" r="0.25" fill="#999"/>
<circle cx="51.04" cy="590.93" r="0.32" fill="#777"/>
<circle cx="53.43" cy="581.99" r="0.36" fill="#777"/>
<circle cx="41.25" cy="588.14" r="0.24" fill="#bbb"/>
<circle cx="42.26" cy="589.46" r="0.28" fill="#aaa"/>
<circle cx="66.81" cy="588.64" r="0.25" fill="#bbb"/>
<circle cx="65.38" cy="586.54" r="0.33" fill="#999"/>
<circle cx="39.34" cy="589.22" r="0.37" fill="#aaa"/>
<circle cx="40.17" cy="586.29" r="0.29" fill="#999"/>
<circle cx="58.97" cy="592.01" r="0.37" fill="#bbb"/>
<path d="M88.2,587.8 C87.5,589 88.5,590.6 90,590.4 C91,590.2 91.5,589.2 92.5,589.3 L95.8,589.2 M89,588.3 C90,587.9 91,588.6 91.5,589.5 M99.5,590.5 C100,588.2 102,587 103.6,587.3 C105,587.6 105.9,589 105.6,590.2 C104,590.6 101.8,590.6 99.5,590.5 Z M101,589.8 C101.8,588.6 103,588.3 104.2,589.3" fill="none" stroke="#222" stroke-width="0.8"/><circle cx="97.6" cy="591.4" r="0.65" fill="#222"/>
<path d="M145.63,589.00 L145.43,589.75 L145.04,590.53 L144.04,591.30 L141.58,591.61 L139.55,592.01 L137.17,592.05 L134.80,592.28 L132.18,592.29 L128.87,592.36 L127.48,591.45 L125.62,590.77 L126.24,589.78 L124.73,589.00 L125.81,588.18 L127.89,587.62 L128.80,586.93 L130.44,586.38 L132.64,586.11 L134.59,585.18 L137.44,585.23 L140.11,585.52 L142.27,586.07 L144.05,586.70 L145.53,587.39 L146.86,588.14Z" fill="none" stroke="#8f8f8f" stroke-width="0.55" stroke-linejoin="round"/>
<path d="M144.60,589.00 L144.09,589.61 L144.07,590.30 L143.43,591.00 L142.47,591.79 L140.23,592.02 L138.06,592.20 L135.88,592.05 L133.55,592.11 L132.09,591.45 L130.43,591.01 L129.58,590.35 L129.06,589.68 L128.79,589.00 L128.64,588.29 L129.73,587.68 L130.50,587.01 L132.78,586.90 L133.78,586.10 L135.75,585.59 L138.07,585.76 L139.96,586.23 L142.39,586.25 L143.73,586.90 L145.25,587.48 L144.44,588.36Z" fill="none" stroke="#797979" stroke-width="0.55" stroke-linejoin="round"/>
<path d="M143.07,589.00 L142.74,589.56 L143.69,590.38 L142.60,590.96 L141.07,591.34 L139.33,591.49 L137.70,591.58 L136.03,591.75 L134.70,591.23 L133.23,591.05 L132.64,590.46 L131.47,590.10 L130.20,589.64 L129.69,589.00 L129.39,588.29 L131.16,587.84 L132.37,587.45 L132.98,586.81 L134.08,586.13 L135.99,586.13 L137.75,586.27 L139.44,586.40 L140.55,586.95 L141.31,587.49 L142.47,587.87 L142.41,588.47Z" fill="none" stroke="#646464" stroke-width="0.55" stroke-linejoin="round"/>
<path d="M141.25,589.00 L141.42,589.64 L140.61,590.17 L139.29,590.45 L138.21,590.65 L137.28,590.90 L136.25,591.07 L135.11,591.20 L134.02,591.01 L133.11,590.70 L131.87,590.54 L131.13,590.09 L130.98,589.53 L130.40,589.00 L130.96,588.47 L131.28,587.95 L131.48,587.30 L132.40,586.83 L133.83,586.77 L135.15,586.94 L136.24,586.98 L137.25,587.14 L138.12,587.40 L139.13,587.62 L139.90,588.00 L140.77,588.43Z" fill="none" stroke="#4e4e4e" stroke-width="0.55" stroke-linejoin="round"/>
<path d="M139.70,589.00 L139.70,589.51 L139.39,589.98 L138.50,590.17 L137.94,590.42 L137.32,590.60 L136.68,590.81 L135.99,590.62 L135.24,590.73 L134.70,590.42 L134.15,590.17 L133.91,589.77 L133.48,589.42 L133.37,589.00 L133.30,588.55 L133.42,588.08 L133.79,587.64 L134.38,587.30 L135.16,587.15 L135.97,587.24 L136.69,587.15 L137.30,587.43 L137.73,587.76 L138.52,587.82 L138.98,588.15 L139.50,588.52Z" fill="none" stroke="#393939" stroke-width="0.55" stroke-linejoin="round"/>
<circle cx="144.86" cy="584.30" r="0.30" fill="#aaa"/>
<circle cx="132.88" cy="591.84" r="0.34" fill="#999"/>
<circle cx="144.88" cy="590.47" r="0.22" fill="#bbb"/>
<circle cx="122.67" cy="589.79" r="0.27" fill="#777"/>
<circle cx="127.99" cy="590.42" r="0.29" fill="#777"/>
<circle cx="128.80" cy="590.22" r="0.25" fill="#999"/>
<circle cx="142.28" cy="592.66" r="0.29" fill="#aaa"/>
<circle cx="150.74" cy="588.64" r="0.31" fill="#999"/>
<circle cx="135.54" cy="594.19" r="0.36" fill="#999"/>
<circle cx="126.09" cy="588.86" r="0.34" fill="#aaa"/>
<circle cx="130.33" cy="591.92" r="0.24" fill="#999"/>
<circle cx="139.77" cy="591.92" r="0.33" fill="#bbb"/>
<circle cx="122.88" cy="587.95" r="0.27" fill="#bbb"/>
<circle cx="132.89" cy="591.83" r="0.28" fill="#777"/>
<circle cx="131.07" cy="593.20" r="0.37" fill="#bbb"/>
<circle cx="126.69" cy="592.61" r="0.35" fill="#bbb"/>
<circle cx="143.98" cy="586.76" r="0.32" fill="#777"/>
<circle cx="150.13" cy="589.87" r="0.23" fill="#aaa"/>
<circle cx="127.33" cy="585.75" r="0.29" fill="#777"/>
<circle cx="142.01" cy="593.24" r="0.23" fill="#aaa"/>
<circle cx="138.06" cy="584.58" r="0.32" fill="#999"/>
<circle cx="128.32" cy="587.60" r="0.31" fill="#999"/>
<circle cx="128.18" cy="591.61" r="0.28" fill="#777"/>
<circle cx="142.07" cy="591.13" r="0.36" fill="#bbb"/>
<circle cx="138.43" cy="593.66" r="0.28" fill="#999"/>
<circle cx="131.28" cy="591.75" r="0.22" fill="#aaa"/>
<circle cx="123.49" cy="589.68" r="0.28" fill="#777"/>
<circle cx="127.66" cy="593.59" r="0.25" fill="#bbb"/>
<circle cx="129.00" cy="589.78" r="0.23" fill="#aaa"/>
<circle cx="143.38" cy="592.42" r="0.29" fill="#999"/>
<circle cx="137.85" cy="584.91" r="0.29" fill="#777"/>
<circle cx="129.28" cy="587.07" r="0.26" fill="#bbb"/>
<circle cx="130.60" cy="586.66" r="0.25" fill="#bbb"/>
<circle cx="129.53" cy="590.70" r="0.25" fill="#bbb"/>
<circle cx="127.85" cy="586.16" r="0.32" fill="#aaa"/>
<circle cx="141.78" cy="591.84" r="0.26" fill="#999"/>
<text x="24.60" y="320.40" font-size="6.4" text-anchor="middle" fill="#222" transform="rotate(-90 24.60 320.40)"  stroke="#222" stroke-width="0.07">Na&#239;ve</text>
<text x="24.60" y="474.20" font-size="6.4" text-anchor="middle" fill="#222" transform="rotate(-90 24.60 474.20)"  stroke="#222" stroke-width="0.07">Na&#239;ve</text>
<text x="24.60" y="359.00" font-size="6.4" text-anchor="middle" fill="#222" transform="rotate(-90 24.60 359.00)"  stroke="#222" stroke-width="0.07">CM</text>
<text x="24.60" y="512.70" font-size="6.4" text-anchor="middle" fill="#222" transform="rotate(-90 24.60 512.70)"  stroke="#222" stroke-width="0.07">CM</text>
<text x="24.60" y="397.20" font-size="6.4" text-anchor="middle" fill="#222" transform="rotate(-90 24.60 397.20)"  stroke="#222" stroke-width="0.07">EM</text>
<text x="24.60" y="551.50" font-size="6.4" text-anchor="middle" fill="#222" transform="rotate(-90 24.60 551.50)"  stroke="#222" stroke-width="0.07">EM</text>
<text x="24.60" y="436.00" font-size="6.4" text-anchor="middle" fill="#222" textLength="20.5" lengthAdjust="spacingAndGlyphs" transform="rotate(-90 24.60 436.00)"  stroke="#222" stroke-width="0.07">TEMRA</text>
<text x="24.60" y="589.30" font-size="6.4" text-anchor="middle" fill="#222" textLength="20.5" lengthAdjust="spacingAndGlyphs" transform="rotate(-90 24.60 589.30)"  stroke="#222" stroke-width="0.07">TEMRA</text>
<line x1="32.50" y1="303.70" x2="32.50" y2="422.50" stroke="#222" stroke-width="1" />
<line x1="32.50" y1="445.30" x2="32.50" y2="607.60" stroke="#222" stroke-width="1" />
<text x="35.20" y="433.80" font-size="8.4" text-anchor="middle" fill="#111" textLength="10.2" lengthAdjust="spacingAndGlyphs" transform="rotate(-90 35.20 433.80)" stroke="#111" stroke-width="0.18">CD3</text>
<text x="14.70" y="378.30" font-size="8.7" text-anchor="middle" fill="#111" textLength="39.9" lengthAdjust="spacingAndGlyphs" transform="rotate(-90 14.70 378.30)" stroke="#111" stroke-width="0.12">Haplo-HCT</text>
<text x="14.90" y="532.40" font-size="8.8" text-anchor="middle" fill="#111" textLength="32.1" lengthAdjust="spacingAndGlyphs" transform="rotate(-90 14.90 532.40)" stroke="#111" stroke-width="0.12">MD-HCT</text>
<line x1="39.00" y1="615.20" x2="89.50" y2="615.20" stroke="#222" stroke-width="1" />
<line x1="108.50" y1="615.20" x2="161.50" y2="615.20" stroke="#222" stroke-width="1" />
<text x="98.80" y="618.40" font-size="8.6" text-anchor="middle" fill="#111" textLength="13.6" lengthAdjust="spacingAndGlyphs" stroke="#111" stroke-width="0.18">PD-1</text>
<line x1="215.40" y1="394.10" x2="215.40" y2="446.10" stroke="#222" stroke-width="1.3" />
<line x1="215.40" y1="446.10" x2="288.42" y2="446.10" stroke="#222" stroke-width="1.3" />
<line x1="212.40" y1="446.10" x2="215.40" y2="446.10" stroke="#222" stroke-width="1" />
<text x="210.00" y="448.40" font-size="6.4" text-anchor="end" fill="#333"  stroke="#333" stroke-width="0.07">0</text>
<line x1="212.40" y1="436.30" x2="215.40" y2="436.30" stroke="#222" stroke-width="1" />
<text x="210.00" y="438.60" font-size="6.4" text-anchor="end" fill="#333"  stroke="#333" stroke-width="0.07">20</text>
<line x1="212.40" y1="426.50" x2="215.40" y2="426.50" stroke="#222" stroke-width="1" />
<text x="210.00" y="428.80" font-size="6.4" text-anchor="end" fill="#333"  stroke="#333" stroke-width="0.07">40</text>
<line x1="212.40" y1="416.70" x2="215.40" y2="416.70" stroke="#222" stroke-width="1" />
<text x="210.00" y="419.00" font-size="6.4" text-anchor="end" fill="#333"  stroke="#333" stroke-width="0.07">60</text>
<line x1="212.40" y1="406.90" x2="215.40" y2="406.90" stroke="#222" stroke-width="1" />
<text x="210.00" y="409.20" font-size="6.4" text-anchor="end" fill="#333"  stroke="#333" stroke-width="0.07">80</text>
<line x1="212.40" y1="397.10" x2="215.40" y2="397.10" stroke="#222" stroke-width="1" />
<text x="210.00" y="399.40" font-size="6.4" text-anchor="end" fill="#333"  stroke="#333" stroke-width="0.07">100</text>
<line x1="219.30" y1="446.10" x2="219.30" y2="448.10" stroke="#222" stroke-width="1" />
<text x="219.30" y="458.10" font-size="6.6" text-anchor="middle" fill="#333"  stroke="#333" stroke-width="0.07">1</text>
<line x1="228.66" y1="446.10" x2="228.66" y2="448.10" stroke="#222" stroke-width="1" />
<text x="228.66" y="458.10" font-size="6.6" text-anchor="middle" fill="#333"  stroke="#333" stroke-width="0.07">2</text>
<line x1="238.02" y1="446.10" x2="238.02" y2="448.10" stroke="#222" stroke-width="1" />
<text x="238.02" y="458.10" font-size="6.6" text-anchor="middle" fill="#333"  stroke="#333" stroke-width="0.07">3</text>
<line x1="247.38" y1="446.10" x2="247.38" y2="448.10" stroke="#222" stroke-width="1" />
<text x="247.38" y="458.10" font-size="6.6" text-anchor="middle" fill="#333"  stroke="#333" stroke-width="0.07">6</text>
<line x1="256.74" y1="446.10" x2="256.74" y2="448.10" stroke="#222" stroke-width="1" />
<text x="256.74" y="458.10" font-size="6.6" text-anchor="middle" fill="#333"  stroke="#333" stroke-width="0.07">9</text>
<line x1="266.10" y1="446.10" x2="266.10" y2="448.10" stroke="#222" stroke-width="1" />
<text x="266.10" y="458.10" font-size="6.6" text-anchor="middle" fill="#333"  stroke="#333" stroke-width="0.07">12</text>
<line x1="275.46" y1="446.10" x2="275.46" y2="448.10" stroke="#222" stroke-width="1" />
<text x="275.46" y="458.10" font-size="6.6" text-anchor="middle" fill="#333"  stroke="#333" stroke-width="0.07">18</text>
<line x1="284.82" y1="446.10" x2="284.82" y2="448.10" stroke="#222" stroke-width="1" />
<text x="284.82" y="458.10" font-size="6.6" text-anchor="middle" fill="#333"  stroke="#333" stroke-width="0.07">24</text>
<rect x="216.60" y="413.76" width="2.10" height="32.34" fill="#b90a2c" stroke="none" stroke-width="1" />
<rect x="220.00" y="435.32" width="2.10" height="10.78" fill="#21438a" stroke="none" stroke-width="1" />
<line x1="217.65" y1="406.66" x2="217.65" y2="424.05" stroke="#111" stroke-width="1.0" />
<line x1="221.05" y1="434.59" x2="221.05" y2="442.18" stroke="#111" stroke-width="1.0" />
<rect x="225.96" y="421.60" width="2.10" height="24.50" fill="#b90a2c" stroke="none" stroke-width="1" />
<rect x="229.36" y="436.55" width="2.10" height="9.56" fill="#21438a" stroke="none" stroke-width="1" />
<line x1="227.01" y1="410.82" x2="227.01" y2="432.87" stroke="#111" stroke-width="1.0" />
<line x1="230.41" y1="427.97" x2="230.41" y2="442.18" stroke="#111" stroke-width="1.0" />
<rect x="235.32" y="426.99" width="2.10" height="19.11" fill="#b90a2c" stroke="none" stroke-width="1" />
<rect x="238.72" y="436.30" width="2.10" height="9.80" fill="#21438a" stroke="none" stroke-width="1" />
<line x1="236.37" y1="418.17" x2="236.37" y2="435.32" stroke="#111" stroke-width="1.0" />
<line x1="239.77" y1="429.44" x2="239.77" y2="442.18" stroke="#111" stroke-width="1.0" />
<rect x="244.68" y="430.42" width="2.10" height="15.68" fill="#b90a2c" stroke="none" stroke-width="1" />
<rect x="248.08" y="435.32" width="2.10" height="10.78" fill="#21438a" stroke="none" stroke-width="1" />
<line x1="245.73" y1="420.13" x2="245.73" y2="437.28" stroke="#111" stroke-width="1.0" />
<line x1="249.13" y1="431.40" x2="249.13" y2="440.71" stroke="#111" stroke-width="1.0" />
<rect x="254.04" y="431.89" width="2.10" height="14.21" fill="#b90a2c" stroke="none" stroke-width="1" />
<rect x="257.44" y="439.24" width="2.10" height="6.86" fill="#21438a" stroke="none" stroke-width="1" />
<line x1="255.09" y1="419.15" x2="255.09" y2="440.71" stroke="#111" stroke-width="1.0" />
<line x1="258.49" y1="433.36" x2="258.49" y2="444.14" stroke="#111" stroke-width="1.0" />
<rect x="263.40" y="436.79" width="2.10" height="9.31" fill="#b90a2c" stroke="none" stroke-width="1" />
<rect x="266.80" y="443.16" width="2.10" height="2.94" fill="#21438a" stroke="none" stroke-width="1" />
<line x1="264.45" y1="422.09" x2="264.45" y2="443.16" stroke="#111" stroke-width="1.0" />
<line x1="267.85" y1="440.22" x2="267.85" y2="445.61" stroke="#111" stroke-width="1.0" />
<rect x="272.76" y="439.73" width="2.10" height="6.37" fill="#b90a2c" stroke="none" stroke-width="1" />
<rect x="276.16" y="439.73" width="2.10" height="6.37" fill="#21438a" stroke="none" stroke-width="1" />
<line x1="273.81" y1="428.46" x2="273.81" y2="444.14" stroke="#111" stroke-width="1.0" />
<line x1="277.21" y1="422.09" x2="277.21" y2="444.14" stroke="#111" stroke-width="1.0" />
<rect x="282.12" y="439.73" width="2.10" height="6.37" fill="#b90a2c" stroke="none" stroke-width="1" />
<rect x="285.52" y="436.30" width="2.10" height="9.80" fill="#21438a" stroke="none" stroke-width="1" />
<line x1="283.17" y1="434.34" x2="283.17" y2="444.14" stroke="#111" stroke-width="1.0" />
<line x1="286.57" y1="425.52" x2="286.57" y2="442.18" stroke="#111" stroke-width="1.0" />
<line x1="217.90" y1="404.20" x2="220.70" y2="404.20" stroke="#222" stroke-width="0.95" />
<circle cx="216.43" cy="401.40" r="0.7" fill="#111"/>
<circle cx="218.48" cy="401.40" r="0.7" fill="#111"/>
<circle cx="220.53" cy="401.40" r="0.7" fill="#111"/>
<circle cx="222.58" cy="401.40" r="0.7" fill="#111"/>
<line x1="227.26" y1="408.80" x2="230.06" y2="408.80" stroke="#222" stroke-width="0.95" />
<circle cx="226.81" cy="406.00" r="0.7" fill="#111"/>
<circle cx="228.86" cy="406.00" r="0.7" fill="#111"/>
<circle cx="230.91" cy="406.00" r="0.7" fill="#111"/>
<line x1="236.62" y1="415.40" x2="239.42" y2="415.40" stroke="#222" stroke-width="0.95" />
<circle cx="238.22" cy="412.60" r="0.7" fill="#111"/>
<line x1="264.70" y1="418.50" x2="267.50" y2="418.50" stroke="#222" stroke-width="0.95" />
<circle cx="265.28" cy="415.70" r="0.7" fill="#111"/>
<circle cx="267.33" cy="415.70" r="0.7" fill="#111"/>
<line x1="311.10" y1="394.10" x2="311.10" y2="446.10" stroke="#222" stroke-width="1.3" />
<line x1="311.10" y1="446.10" x2="384.12" y2="446.10" stroke="#222" stroke-width="1.3" />
<line x1="308.10" y1="446.10" x2="311.10" y2="446.10" stroke="#222" stroke-width="1" />
<text x="305.70" y="448.40" font-size="6.4" text-anchor="end" fill="#333"  stroke="#333" stroke-width="0.07">0</text>
<line x1="308.10" y1="429.77" x2="311.10" y2="429.77" stroke="#222" stroke-width="1" />
<text x="305.70" y="432.07" font-size="6.4" text-anchor="end" fill="#333"  stroke="#333" stroke-width="0.07">20</text>
<line x1="308.10" y1="413.43" x2="311.10" y2="413.43" stroke="#222" stroke-width="1" />
<text x="305.70" y="415.73" font-size="6.4" text-anchor="end" fill="#333"  stroke="#333" stroke-width="0.07">40</text>
<line x1="308.10" y1="397.10" x2="311.10" y2="397.10" stroke="#222" stroke-width="1" />
<text x="305.70" y="399.40" font-size="6.4" text-anchor="end" fill="#333"  stroke="#333" stroke-width="0.07">60</text>
<line x1="315.00" y1="446.10" x2="315.00" y2="448.10" stroke="#222" stroke-width="1" />
<text x="315.00" y="458.10" font-size="6.6" text-anchor="middle" fill="#333"  stroke="#333" stroke-width="0.07">1</text>
<line x1="324.36" y1="446.10" x2="324.36" y2="448.10" stroke="#222" stroke-width="1" />
<text x="324.36" y="458.10" font-size="6.6" text-anchor="middle" fill="#333"  stroke="#333" stroke-width="0.07">2</text>
<line x1="333.72" y1="446.10" x2="333.72" y2="448.10" stroke="#222" stroke-width="1" />
<text x="333.72" y="458.10" font-size="6.6" text-anchor="middle" fill="#333"  stroke="#333" stroke-width="0.07">3</text>
<line x1="343.08" y1="446.10" x2="343.08" y2="448.10" stroke="#222" stroke-width="1" />
<text x="343.08" y="458.10" font-size="6.6" text-anchor="middle" fill="#333"  stroke="#333" stroke-width="0.07">6</text>
<line x1="352.44" y1="446.10" x2="352.44" y2="448.10" stroke="#222" stroke-width="1" />
<text x="352.44" y="458.10" font-size="6.6" text-anchor="middle" fill="#333"  stroke="#333" stroke-width="0.07">9</text>
<line x1="361.80" y1="446.10" x2="361.80" y2="448.10" stroke="#222" stroke-width="1" />
<text x="361.80" y="458.10" font-size="6.6" text-anchor="middle" fill="#333"  stroke="#333" stroke-width="0.07">12</text>
<line x1="371.16" y1="446.10" x2="371.16" y2="448.10" stroke="#222" stroke-width="1" />
<text x="371.16" y="458.10" font-size="6.6" text-anchor="middle" fill="#333"  stroke="#333" stroke-width="0.07">18</text>
<line x1="380.52" y1="446.10" x2="380.52" y2="448.10" stroke="#222" stroke-width="1" />
<text x="380.52" y="458.10" font-size="6.6" text-anchor="middle" fill="#333"  stroke="#333" stroke-width="0.07">24</text>
<rect x="312.30" y="416.70" width="2.10" height="29.40" fill="#b90a2c" stroke="none" stroke-width="1" />
<rect x="315.70" y="434.18" width="2.10" height="11.92" fill="#21438a" stroke="none" stroke-width="1" />
<line x1="313.35" y1="406.08" x2="313.35" y2="424.87" stroke="#111" stroke-width="1.0" />
<line x1="316.75" y1="427.32" x2="316.75" y2="437.93" stroke="#111" stroke-width="1.0" />
<rect x="321.66" y="419.15" width="2.10" height="26.95" fill="#b90a2c" stroke="none" stroke-width="1" />
<rect x="325.06" y="427.32" width="2.10" height="18.78" fill="#21438a" stroke="none" stroke-width="1" />
<line x1="322.71" y1="399.96" x2="322.71" y2="432.22" stroke="#111" stroke-width="1.0" />
<line x1="326.11" y1="419.15" x2="326.11" y2="436.30" stroke="#111" stroke-width="1.0" />
<rect x="331.02" y="421.60" width="2.10" height="24.50" fill="#b90a2c" stroke="none" stroke-width="1" />
<rect x="334.42" y="430.91" width="2.10" height="15.19" fill="#21438a" stroke="none" stroke-width="1" />
<line x1="332.07" y1="409.60" x2="332.07" y2="433.03" stroke="#111" stroke-width="1.0" />
<line x1="335.47" y1="424.87" x2="335.47" y2="438.75" stroke="#111" stroke-width="1.0" />
<rect x="340.38" y="426.91" width="2.10" height="19.19" fill="#b90a2c" stroke="none" stroke-width="1" />
<rect x="343.78" y="430.91" width="2.10" height="15.19" fill="#21438a" stroke="none" stroke-width="1" />
<line x1="341.43" y1="412.13" x2="341.43" y2="437.12" stroke="#111" stroke-width="1.0" />
<line x1="344.83" y1="425.93" x2="344.83" y2="439.98" stroke="#111" stroke-width="1.0" />
<rect x="349.74" y="428.95" width="2.10" height="17.15" fill="#b90a2c" stroke="none" stroke-width="1" />
<rect x="353.14" y="439.57" width="2.10" height="6.53" fill="#21438a" stroke="none" stroke-width="1" />
<line x1="350.79" y1="406.90" x2="350.79" y2="437.12" stroke="#111" stroke-width="1.0" />
<line x1="354.19" y1="429.77" x2="354.19" y2="443.65" stroke="#111" stroke-width="1.0" />
<rect x="359.10" y="433.20" width="2.10" height="12.90" fill="#b90a2c" stroke="none" stroke-width="1" />
<rect x="362.50" y="439.98" width="2.10" height="6.12" fill="#21438a" stroke="none" stroke-width="1" />
<line x1="360.15" y1="415.07" x2="360.15" y2="439.98" stroke="#111" stroke-width="1.0" />
<line x1="363.55" y1="428.46" x2="363.55" y2="444.47" stroke="#111" stroke-width="1.0" />
<rect x="368.46" y="436.71" width="2.10" height="9.39" fill="#b90a2c" stroke="none" stroke-width="1" />
<rect x="371.86" y="431.73" width="2.10" height="14.37" fill="#21438a" stroke="none" stroke-width="1" />
<line x1="369.51" y1="424.87" x2="369.51" y2="442.02" stroke="#111" stroke-width="1.0" />
<line x1="372.91" y1="413.60" x2="372.91" y2="441.20" stroke="#111" stroke-width="1.0" />
<rect x="377.82" y="437.12" width="2.10" height="8.98" fill="#b90a2c" stroke="none" stroke-width="1" />
<rect x="381.22" y="417.84" width="2.10" height="28.26" fill="#21438a" stroke="none" stroke-width="1" />
<line x1="378.87" y1="431.73" x2="378.87" y2="441.20" stroke="#111" stroke-width="1.0" />
<line x1="382.27" y1="410.17" x2="382.27" y2="432.22" stroke="#111" stroke-width="1.0" />
<line x1="313.60" y1="402.20" x2="316.40" y2="402.20" stroke="#222" stroke-width="0.95" />
<circle cx="313.15" cy="399.40" r="0.7" fill="#111"/>
<circle cx="315.20" cy="399.40" r="0.7" fill="#111"/>
<circle cx="317.25" cy="399.40" r="0.7" fill="#111"/>
<line x1="351.04" y1="404.30" x2="353.84" y2="404.30" stroke="#222" stroke-width="0.95" />
<circle cx="352.64" cy="401.50" r="0.7" fill="#111"/>
<line x1="411.00" y1="394.10" x2="411.00" y2="446.10" stroke="#222" stroke-width="1.3" />
<line x1="411.00" y1="446.10" x2="484.02" y2="446.10" stroke="#222" stroke-width="1.3" />
<line x1="408.00" y1="446.10" x2="411.00" y2="446.10" stroke="#222" stroke-width="1" />
<text x="405.60" y="448.40" font-size="6.4" text-anchor="end" fill="#333"  stroke="#333" stroke-width="0.07">0</text>
<line x1="408.00" y1="436.30" x2="411.00" y2="436.30" stroke="#222" stroke-width="1" />
<text x="405.60" y="438.60" font-size="6.4" text-anchor="end" fill="#333"  stroke="#333" stroke-width="0.07">20</text>
<line x1="408.00" y1="426.50" x2="411.00" y2="426.50" stroke="#222" stroke-width="1" />
<text x="405.60" y="428.80" font-size="6.4" text-anchor="end" fill="#333"  stroke="#333" stroke-width="0.07">40</text>
<line x1="408.00" y1="416.70" x2="411.00" y2="416.70" stroke="#222" stroke-width="1" />
<text x="405.60" y="419.00" font-size="6.4" text-anchor="end" fill="#333"  stroke="#333" stroke-width="0.07">60</text>
<line x1="408.00" y1="406.90" x2="411.00" y2="406.90" stroke="#222" stroke-width="1" />
<text x="405.60" y="409.20" font-size="6.4" text-anchor="end" fill="#333"  stroke="#333" stroke-width="0.07">80</text>
<line x1="408.00" y1="397.10" x2="411.00" y2="397.10" stroke="#222" stroke-width="1" />
<text x="405.60" y="399.40" font-size="6.4" text-anchor="end" fill="#333"  stroke="#333" stroke-width="0.07">100</text>
<line x1="414.90" y1="446.10" x2="414.90" y2="448.10" stroke="#222" stroke-width="1" />
<text x="414.90" y="458.10" font-size="6.6" text-anchor="middle" fill="#333"  stroke="#333" stroke-width="0.07">1</text>
<line x1="424.26" y1="446.10" x2="424.26" y2="448.10" stroke="#222" stroke-width="1" />
<text x="424.26" y="458.10" font-size="6.6" text-anchor="middle" fill="#333"  stroke="#333" stroke-width="0.07">2</text>
<line x1="433.62" y1="446.10" x2="433.62" y2="448.10" stroke="#222" stroke-width="1" />
<text x="433.62" y="458.10" font-size="6.6" text-anchor="middle" fill="#333"  stroke="#333" stroke-width="0.07">3</text>
<line x1="442.98" y1="446.10" x2="442.98" y2="448.10" stroke="#222" stroke-width="1" />
<text x="442.98" y="458.10" font-size="6.6" text-anchor="middle" fill="#333"  stroke="#333" stroke-width="0.07">6</text>
<line x1="452.34" y1="446.10" x2="452.34" y2="448.10" stroke="#222" stroke-width="1" />
<text x="452.34" y="458.10" font-size="6.6" text-anchor="middle" fill="#333"  stroke="#333" stroke-width="0.07">9</text>
<line x1="461.70" y1="446.10" x2="461.70" y2="448.10" stroke="#222" stroke-width="1" />
<text x="461.70" y="458.10" font-size="6.6" text-anchor="middle" fill="#333"  stroke="#333" stroke-width="0.07">12</text>
<line x1="471.06" y1="446.10" x2="471.06" y2="448.10" stroke="#222" stroke-width="1" />
<text x="471.06" y="458.10" font-size="6.6" text-anchor="middle" fill="#333"  stroke="#333" stroke-width="0.07">18</text>
<line x1="480.42" y1="446.10" x2="480.42" y2="448.10" stroke="#222" stroke-width="1" />
<text x="480.42" y="458.10" font-size="6.6" text-anchor="middle" fill="#333"  stroke="#333" stroke-width="0.07">24</text>
<rect x="412.20" y="420.62" width="2.10" height="25.48" fill="#b90a2c" stroke="none" stroke-width="1" />
<rect x="415.60" y="434.34" width="2.10" height="11.76" fill="#21438a" stroke="none" stroke-width="1" />
<line x1="413.25" y1="410.53" x2="413.25" y2="433.85" stroke="#111" stroke-width="1.0" />
<line x1="416.65" y1="423.07" x2="416.65" y2="442.38" stroke="#111" stroke-width="1.0" />
<rect x="421.56" y="426.70" width="2.10" height="19.40" fill="#b90a2c" stroke="none" stroke-width="1" />
<rect x="424.96" y="432.87" width="2.10" height="13.23" fill="#21438a" stroke="none" stroke-width="1" />
<line x1="422.61" y1="414.99" x2="422.61" y2="437.38" stroke="#111" stroke-width="1.0" />
<line x1="426.01" y1="423.71" x2="426.01" y2="441.20" stroke="#111" stroke-width="1.0" />
<rect x="430.92" y="428.71" width="2.10" height="17.39" fill="#b90a2c" stroke="none" stroke-width="1" />
<rect x="434.32" y="434.34" width="2.10" height="11.76" fill="#21438a" stroke="none" stroke-width="1" />
<line x1="431.97" y1="415.72" x2="431.97" y2="437.38" stroke="#111" stroke-width="1.0" />
<line x1="435.37" y1="425.03" x2="435.37" y2="442.38" stroke="#111" stroke-width="1.0" />
<rect x="440.28" y="429.44" width="2.10" height="16.66" fill="#b90a2c" stroke="none" stroke-width="1" />
<rect x="443.68" y="428.95" width="2.10" height="17.15" fill="#21438a" stroke="none" stroke-width="1" />
<line x1="441.33" y1="416.99" x2="441.33" y2="437.38" stroke="#111" stroke-width="1.0" />
<line x1="444.73" y1="418.17" x2="444.73" y2="439.88" stroke="#111" stroke-width="1.0" />
<rect x="449.64" y="432.38" width="2.10" height="13.72" fill="#b90a2c" stroke="none" stroke-width="1" />
<rect x="453.04" y="432.38" width="2.10" height="13.72" fill="#21438a" stroke="none" stroke-width="1" />
<line x1="450.69" y1="421.21" x2="450.69" y2="439.88" stroke="#111" stroke-width="1.0" />
<line x1="454.09" y1="428.22" x2="454.09" y2="441.20" stroke="#111" stroke-width="1.0" />
<rect x="459.00" y="434.83" width="2.10" height="11.27" fill="#b90a2c" stroke="none" stroke-width="1" />
<rect x="462.40" y="437.87" width="2.10" height="8.23" fill="#21438a" stroke="none" stroke-width="1" />
<line x1="460.05" y1="426.99" x2="460.05" y2="442.38" stroke="#111" stroke-width="1.0" />
<line x1="463.45" y1="429.93" x2="463.45" y2="443.65" stroke="#111" stroke-width="1.0" />
<rect x="468.36" y="436.30" width="2.10" height="9.80" fill="#b90a2c" stroke="none" stroke-width="1" />
<rect x="471.76" y="433.85" width="2.10" height="12.25" fill="#21438a" stroke="none" stroke-width="1" />
<line x1="469.41" y1="429.93" x2="469.41" y2="443.16" stroke="#111" stroke-width="1.0" />
<line x1="472.81" y1="419.15" x2="472.81" y2="442.87" stroke="#111" stroke-width="1.0" />
<rect x="477.72" y="437.87" width="2.10" height="8.23" fill="#b90a2c" stroke="none" stroke-width="1" />
<rect x="481.12" y="425.72" width="2.10" height="20.38" fill="#21438a" stroke="none" stroke-width="1" />
<line x1="478.77" y1="435.42" x2="478.77" y2="442.87" stroke="#111" stroke-width="1.0" />
<line x1="482.17" y1="418.17" x2="482.17" y2="437.38" stroke="#111" stroke-width="1.0" />
<line x1="413.50" y1="406.20" x2="416.30" y2="406.20" stroke="#222" stroke-width="0.95" />
<circle cx="415.10" cy="403.40" r="0.7" fill="#111"/>
<line x1="215.50" y1="468.60" x2="215.50" y2="520.60" stroke="#222" stroke-width="1.3" />
<line x1="215.50" y1="520.60" x2="288.52" y2="520.60" stroke="#222" stroke-width="1.3" />
<line x1="212.50" y1="520.60" x2="215.50" y2="520.60" stroke="#222" stroke-width="1" />
<text x="210.10" y="522.90" font-size="6.4" text-anchor="end" fill="#333"  stroke="#333" stroke-width="0.07">0</text>
<line x1="212.50" y1="510.80" x2="215.50" y2="510.80" stroke="#222" stroke-width="1" />
<text x="210.10" y="513.10" font-size="6.4" text-anchor="end" fill="#333"  stroke="#333" stroke-width="0.07">20</text>
<line x1="212.50" y1="501.00" x2="215.50" y2="501.00" stroke="#222" stroke-width="1" />
<text x="210.10" y="503.30" font-size="6.4" text-anchor="end" fill="#333"  stroke="#333" stroke-width="0.07">40</text>
<line x1="212.50" y1="491.20" x2="215.50" y2="491.20" stroke="#222" stroke-width="1" />
<text x="210.10" y="493.50" font-size="6.4" text-anchor="end" fill="#333"  stroke="#333" stroke-width="0.07">60</text>
<line x1="212.50" y1="481.40" x2="215.50" y2="481.40" stroke="#222" stroke-width="1" />
<text x="210.10" y="483.70" font-size="6.4" text-anchor="end" fill="#333"  stroke="#333" stroke-width="0.07">80</text>
<line x1="212.50" y1="471.60" x2="215.50" y2="471.60" stroke="#222" stroke-width="1" />
<text x="210.10" y="473.90" font-size="6.4" text-anchor="end" fill="#333"  stroke="#333" stroke-width="0.07">100</text>
<line x1="219.40" y1="520.60" x2="219.40" y2="522.60" stroke="#222" stroke-width="1" />
<text x="219.40" y="532.60" font-size="6.6" text-anchor="middle" fill="#333"  stroke="#333" stroke-width="0.07">1</text>
<line x1="228.76" y1="520.60" x2="228.76" y2="522.60" stroke="#222" stroke-width="1" />
<text x="228.76" y="532.60" font-size="6.6" text-anchor="middle" fill="#333"  stroke="#333" stroke-width="0.07">2</text>
<line x1="238.12" y1="520.60" x2="238.12" y2="522.60" stroke="#222" stroke-width="1" />
<text x="238.12" y="532.60" font-size="6.6" text-anchor="middle" fill="#333"  stroke="#333" stroke-width="0.07">3</text>
<line x1="247.48" y1="520.60" x2="247.48" y2="522.60" stroke="#222" stroke-width="1" />
<text x="247.48" y="532.60" font-size="6.6" text-anchor="middle" fill="#333"  stroke="#333" stroke-width="0.07">6</text>
<line x1="256.84" y1="520.60" x2="256.84" y2="522.60" stroke="#222" stroke-width="1" />
<text x="256.84" y="532.60" font-size="6.6" text-anchor="middle" fill="#333"  stroke="#333" stroke-width="0.07">9</text>
<line x1="266.20" y1="520.60" x2="266.20" y2="522.60" stroke="#222" stroke-width="1" />
<text x="266.20" y="532.60" font-size="6.6" text-anchor="middle" fill="#333"  stroke="#333" stroke-width="0.07">12</text>
<line x1="275.56" y1="520.60" x2="275.56" y2="522.60" stroke="#222" stroke-width="1" />
<text x="275.56" y="532.60" font-size="6.6" text-anchor="middle" fill="#333"  stroke="#333" stroke-width="0.07">18</text>
<line x1="284.92" y1="520.60" x2="284.92" y2="522.60" stroke="#222" stroke-width="1" />
<text x="284.92" y="532.60" font-size="6.6" text-anchor="middle" fill="#333"  stroke="#333" stroke-width="0.07">24</text>
<rect x="216.70" y="492.38" width="2.10" height="28.22" fill="#b90a2c" stroke="none" stroke-width="1" />
<rect x="220.10" y="509.82" width="2.10" height="10.78" fill="#21438a" stroke="none" stroke-width="1" />
<line x1="217.75" y1="480.42" x2="217.75" y2="500.02" stroke="#111" stroke-width="1.0" />
<line x1="221.15" y1="504.92" x2="221.15" y2="517.37" stroke="#111" stroke-width="1.0" />
<rect x="226.06" y="490.71" width="2.10" height="29.89" fill="#b90a2c" stroke="none" stroke-width="1" />
<rect x="229.46" y="506.10" width="2.10" height="14.50" fill="#21438a" stroke="none" stroke-width="1" />
<line x1="227.11" y1="481.89" x2="227.11" y2="503.60" stroke="#111" stroke-width="1.0" />
<line x1="230.51" y1="498.55" x2="230.51" y2="513.74" stroke="#111" stroke-width="1.0" />
<rect x="235.42" y="498.06" width="2.10" height="22.54" fill="#b90a2c" stroke="none" stroke-width="1" />
<rect x="238.82" y="502.96" width="2.10" height="17.64" fill="#21438a" stroke="none" stroke-width="1" />
<line x1="236.47" y1="489.24" x2="236.47" y2="504.92" stroke="#111" stroke-width="1.0" />
<line x1="239.87" y1="496.59" x2="239.87" y2="511.29" stroke="#111" stroke-width="1.0" />
<rect x="244.78" y="500.02" width="2.10" height="20.58" fill="#b90a2c" stroke="none" stroke-width="1" />
<rect x="248.18" y="506.10" width="2.10" height="14.50" fill="#21438a" stroke="none" stroke-width="1" />
<line x1="245.83" y1="488.26" x2="245.83" y2="509.82" stroke="#111" stroke-width="1.0" />
<line x1="249.23" y1="501.00" x2="249.23" y2="513.74" stroke="#111" stroke-width="1.0" />
<rect x="254.14" y="500.02" width="2.10" height="20.58" fill="#b90a2c" stroke="none" stroke-width="1" />
<rect x="257.54" y="507.86" width="2.10" height="12.74" fill="#21438a" stroke="none" stroke-width="1" />
<line x1="255.19" y1="488.26" x2="255.19" y2="513.74" stroke="#111" stroke-width="1.0" />
<line x1="258.59" y1="503.11" x2="258.59" y2="515.36" stroke="#111" stroke-width="1.0" />
<rect x="263.50" y="506.10" width="2.10" height="14.50" fill="#b90a2c" stroke="none" stroke-width="1" />
<rect x="266.90" y="511.09" width="2.10" height="9.51" fill="#21438a" stroke="none" stroke-width="1" />
<line x1="264.55" y1="490.37" x2="264.55" y2="515.36" stroke="#111" stroke-width="1.0" />
<line x1="267.95" y1="503.60" x2="267.95" y2="517.37" stroke="#111" stroke-width="1.0" />
<rect x="272.86" y="511.09" width="2.10" height="9.51" fill="#b90a2c" stroke="none" stroke-width="1" />
<rect x="276.26" y="508.60" width="2.10" height="12.00" fill="#21438a" stroke="none" stroke-width="1" />
<line x1="273.91" y1="496.59" x2="273.91" y2="518.64" stroke="#111" stroke-width="1.0" />
<line x1="277.31" y1="494.88" x2="277.31" y2="515.36" stroke="#111" stroke-width="1.0" />
<rect x="282.22" y="509.82" width="2.10" height="10.78" fill="#b90a2c" stroke="none" stroke-width="1" />
<rect x="285.62" y="504.92" width="2.10" height="15.68" fill="#21438a" stroke="none" stroke-width="1" />
<line x1="283.27" y1="503.11" x2="283.27" y2="516.19" stroke="#111" stroke-width="1.0" />
<line x1="286.67" y1="492.87" x2="286.67" y2="512.37" stroke="#111" stroke-width="1.0" />
<line x1="218.00" y1="476.60" x2="220.80" y2="476.60" stroke="#222" stroke-width="0.95" />
<circle cx="216.53" cy="473.80" r="0.7" fill="#111"/>
<circle cx="218.58" cy="473.80" r="0.7" fill="#111"/>
<circle cx="220.62" cy="473.80" r="0.7" fill="#111"/>
<circle cx="222.68" cy="473.80" r="0.7" fill="#111"/>
<line x1="227.36" y1="480.30" x2="230.16" y2="480.30" stroke="#222" stroke-width="0.95" />
<circle cx="227.93" cy="477.50" r="0.7" fill="#111"/>
<circle cx="229.98" cy="477.50" r="0.7" fill="#111"/>
<line x1="311.20" y1="468.60" x2="311.20" y2="520.60" stroke="#222" stroke-width="1.3" />
<line x1="311.20" y1="520.60" x2="384.22" y2="520.60" stroke="#222" stroke-width="1.3" />
<line x1="308.20" y1="520.60" x2="311.20" y2="520.60" stroke="#222" stroke-width="1" />
<text x="305.80" y="522.90" font-size="6.4" text-anchor="end" fill="#333"  stroke="#333" stroke-width="0.07">0</text>
<line x1="308.20" y1="508.35" x2="311.20" y2="508.35" stroke="#222" stroke-width="1" />
<text x="305.80" y="510.65" font-size="6.4" text-anchor="end" fill="#333"  stroke="#333" stroke-width="0.07">20</text>
<line x1="308.20" y1="496.10" x2="311.20" y2="496.10" stroke="#222" stroke-width="1" />
<text x="305.80" y="498.40" font-size="6.4" text-anchor="end" fill="#333"  stroke="#333" stroke-width="0.07">40</text>
<line x1="308.20" y1="483.85" x2="311.20" y2="483.85" stroke="#222" stroke-width="1" />
<text x="305.80" y="486.15" font-size="6.4" text-anchor="end" fill="#333"  stroke="#333" stroke-width="0.07">60</text>
<line x1="308.20" y1="471.60" x2="311.20" y2="471.60" stroke="#222" stroke-width="1" />
<text x="305.80" y="473.90" font-size="6.4" text-anchor="end" fill="#333"  stroke="#333" stroke-width="0.07">80</text>
<line x1="315.10" y1="520.60" x2="315.10" y2="522.60" stroke="#222" stroke-width="1" />
<text x="315.10" y="532.60" font-size="6.6" text-anchor="middle" fill="#333"  stroke="#333" stroke-width="0.07">1</text>
<line x1="324.46" y1="520.60" x2="324.46" y2="522.60" stroke="#222" stroke-width="1" />
<text x="324.46" y="532.60" font-size="6.6" text-anchor="middle" fill="#333"  stroke="#333" stroke-width="0.07">2</text>
<line x1="333.82" y1="520.60" x2="333.82" y2="522.60" stroke="#222" stroke-width="1" />
<text x="333.82" y="532.60" font-size="6.6" text-anchor="middle" fill="#333"  stroke="#333" stroke-width="0.07">3</text>
<line x1="343.18" y1="520.60" x2="343.18" y2="522.60" stroke="#222" stroke-width="1" />
<text x="343.18" y="532.60" font-size="6.6" text-anchor="middle" fill="#333"  stroke="#333" stroke-width="0.07">6</text>
<line x1="352.54" y1="520.60" x2="352.54" y2="522.60" stroke="#222" stroke-width="1" />
<text x="352.54" y="532.60" font-size="6.6" text-anchor="middle" fill="#333"  stroke="#333" stroke-width="0.07">9</text>
<line x1="361.90" y1="520.60" x2="361.90" y2="522.60" stroke="#222" stroke-width="1" />
<text x="361.90" y="532.60" font-size="6.6" text-anchor="middle" fill="#333"  stroke="#333" stroke-width="0.07">12</text>
<line x1="371.26" y1="520.60" x2="371.26" y2="522.60" stroke="#222" stroke-width="1" />
<text x="371.26" y="532.60" font-size="6.6" text-anchor="middle" fill="#333"  stroke="#333" stroke-width="0.07">18</text>
<line x1="380.62" y1="520.60" x2="380.62" y2="522.60" stroke="#222" stroke-width="1" />
<text x="380.62" y="532.60" font-size="6.6" text-anchor="middle" fill="#333"  stroke="#333" stroke-width="0.07">24</text>
<rect x="312.40" y="496.84" width="2.10" height="23.76" fill="#b90a2c" stroke="none" stroke-width="1" />
<rect x="315.80" y="506.08" width="2.10" height="14.52" fill="#21438a" stroke="none" stroke-width="1" />
<line x1="313.45" y1="487.53" x2="313.45" y2="509.88" stroke="#111" stroke-width="1.0" />
<line x1="316.85" y1="501.12" x2="316.85" y2="514.84" stroke="#111" stroke-width="1.0" />
<rect x="321.76" y="498.55" width="2.10" height="22.05" fill="#b90a2c" stroke="none" stroke-width="1" />
<rect x="325.16" y="502.84" width="2.10" height="17.76" fill="#21438a" stroke="none" stroke-width="1" />
<line x1="322.81" y1="483.24" x2="322.81" y2="509.88" stroke="#111" stroke-width="1.0" />
<line x1="326.21" y1="494.32" x2="326.21" y2="511.11" stroke="#111" stroke-width="1.0" />
<rect x="331.12" y="498.55" width="2.10" height="22.05" fill="#b90a2c" stroke="none" stroke-width="1" />
<rect x="334.52" y="507.86" width="2.10" height="12.74" fill="#21438a" stroke="none" stroke-width="1" />
<line x1="332.17" y1="487.53" x2="332.17" y2="508.60" stroke="#111" stroke-width="1.0" />
<line x1="335.57" y1="493.04" x2="335.57" y2="515.33" stroke="#111" stroke-width="1.0" />
<rect x="340.48" y="502.84" width="2.10" height="17.76" fill="#b90a2c" stroke="none" stroke-width="1" />
<rect x="343.88" y="509.09" width="2.10" height="11.51" fill="#21438a" stroke="none" stroke-width="1" />
<line x1="341.53" y1="487.53" x2="341.53" y2="512.33" stroke="#111" stroke-width="1.0" />
<line x1="344.93" y1="499.16" x2="344.93" y2="514.84" stroke="#111" stroke-width="1.0" />
<rect x="349.84" y="498.55" width="2.10" height="22.05" fill="#b90a2c" stroke="none" stroke-width="1" />
<rect x="353.24" y="513.62" width="2.10" height="6.98" fill="#21438a" stroke="none" stroke-width="1" />
<line x1="350.89" y1="482.38" x2="350.89" y2="514.48" stroke="#111" stroke-width="1.0" />
<line x1="354.29" y1="497.33" x2="354.29" y2="517.35" stroke="#111" stroke-width="1.0" />
<rect x="359.20" y="506.88" width="2.10" height="13.72" fill="#b90a2c" stroke="none" stroke-width="1" />
<rect x="362.60" y="511.84" width="2.10" height="8.76" fill="#21438a" stroke="none" stroke-width="1" />
<line x1="360.25" y1="489.12" x2="360.25" y2="513.62" stroke="#111" stroke-width="1.0" />
<line x1="363.65" y1="502.84" x2="363.65" y2="517.84" stroke="#111" stroke-width="1.0" />
<rect x="368.56" y="507.37" width="2.10" height="13.23" fill="#b90a2c" stroke="none" stroke-width="1" />
<rect x="371.96" y="508.60" width="2.10" height="12.00" fill="#21438a" stroke="none" stroke-width="1" />
<line x1="369.61" y1="494.26" x2="369.61" y2="515.33" stroke="#111" stroke-width="1.0" />
<line x1="373.01" y1="486.30" x2="373.01" y2="515.33" stroke="#111" stroke-width="1.0" />
<rect x="377.92" y="511.11" width="2.10" height="9.49" fill="#b90a2c" stroke="none" stroke-width="1" />
<rect x="381.32" y="495.61" width="2.10" height="24.99" fill="#21438a" stroke="none" stroke-width="1" />
<line x1="378.97" y1="501.12" x2="378.97" y2="516.13" stroke="#111" stroke-width="1.0" />
<line x1="382.37" y1="493.04" x2="382.37" y2="506.08" stroke="#111" stroke-width="1.0" />
<line x1="313.70" y1="481.90" x2="316.50" y2="481.90" stroke="#222" stroke-width="0.95" />
<circle cx="314.27" cy="479.10" r="0.7" fill="#111"/>
<circle cx="316.32" cy="479.10" r="0.7" fill="#111"/>
<line x1="379.22" y1="482.00" x2="382.02" y2="482.00" stroke="#222" stroke-width="0.95" />
<circle cx="380.82" cy="479.20" r="0.7" fill="#111"/>
<line x1="410.80" y1="468.60" x2="410.80" y2="520.60" stroke="#222" stroke-width="1.3" />
<line x1="410.80" y1="520.60" x2="483.82" y2="520.60" stroke="#222" stroke-width="1.3" />
<line x1="407.80" y1="520.60" x2="410.80" y2="520.60" stroke="#222" stroke-width="1" />
<text x="405.40" y="522.90" font-size="6.4" text-anchor="end" fill="#333"  stroke="#333" stroke-width="0.07">0</text>
<line x1="407.80" y1="510.80" x2="410.80" y2="510.80" stroke="#222" stroke-width="1" />
<text x="405.40" y="513.10" font-size="6.4" text-anchor="end" fill="#333"  stroke="#333" stroke-width="0.07">20</text>
<line x1="407.80" y1="501.00" x2="410.80" y2="501.00" stroke="#222" stroke-width="1" />
<text x="405.40" y="503.30" font-size="6.4" text-anchor="end" fill="#333"  stroke="#333" stroke-width="0.07">40</text>
<line x1="407.80" y1="491.20" x2="410.80" y2="491.20" stroke="#222" stroke-width="1" />
<text x="405.40" y="493.50" font-size="6.4" text-anchor="end" fill="#333"  stroke="#333" stroke-width="0.07">60</text>
<line x1="407.80" y1="481.40" x2="410.80" y2="481.40" stroke="#222" stroke-width="1" />
<text x="405.40" y="483.70" font-size="6.4" text-anchor="end" fill="#333"  stroke="#333" stroke-width="0.07">80</text>
<line x1="407.80" y1="471.60" x2="410.80" y2="471.60" stroke="#222" stroke-width="1" />
<text x="405.40" y="473.90" font-size="6.4" text-anchor="end" fill="#333"  stroke="#333" stroke-width="0.07">100</text>
<line x1="414.70" y1="520.60" x2="414.70" y2="522.60" stroke="#222" stroke-width="1" />
<text x="414.70" y="532.60" font-size="6.6" text-anchor="middle" fill="#333"  stroke="#333" stroke-width="0.07">1</text>
<line x1="424.06" y1="520.60" x2="424.06" y2="522.60" stroke="#222" stroke-width="1" />
<text x="424.06" y="532.60" font-size="6.6" text-anchor="middle" fill="#333"  stroke="#333" stroke-width="0.07">2</text>
<line x1="433.42" y1="520.60" x2="433.42" y2="522.60" stroke="#222" stroke-width="1" />
<text x="433.42" y="532.60" font-size="6.6" text-anchor="middle" fill="#333"  stroke="#333" stroke-width="0.07">3</text>
<line x1="442.78" y1="520.60" x2="442.78" y2="522.60" stroke="#222" stroke-width="1" />
<text x="442.78" y="532.60" font-size="6.6" text-anchor="middle" fill="#333"  stroke="#333" stroke-width="0.07">6</text>
<line x1="452.14" y1="520.60" x2="452.14" y2="522.60" stroke="#222" stroke-width="1" />
<text x="452.14" y="532.60" font-size="6.6" text-anchor="middle" fill="#333"  stroke="#333" stroke-width="0.07">9</text>
<line x1="461.50" y1="520.60" x2="461.50" y2="522.60" stroke="#222" stroke-width="1" />
<text x="461.50" y="532.60" font-size="6.6" text-anchor="middle" fill="#333"  stroke="#333" stroke-width="0.07">12</text>
<line x1="470.86" y1="520.60" x2="470.86" y2="522.60" stroke="#222" stroke-width="1" />
<text x="470.86" y="532.60" font-size="6.6" text-anchor="middle" fill="#333"  stroke="#333" stroke-width="0.07">18</text>
<line x1="480.22" y1="520.60" x2="480.22" y2="522.60" stroke="#222" stroke-width="1" />
<text x="480.22" y="532.60" font-size="6.6" text-anchor="middle" fill="#333"  stroke="#333" stroke-width="0.07">24</text>
<rect x="412.00" y="489.98" width="2.10" height="30.62" fill="#b90a2c" stroke="none" stroke-width="1" />
<rect x="415.40" y="506.10" width="2.10" height="14.50" fill="#21438a" stroke="none" stroke-width="1" />
<line x1="413.05" y1="479.73" x2="413.05" y2="504.14" stroke="#111" stroke-width="1.0" />
<line x1="416.45" y1="494.83" x2="416.45" y2="512.66" stroke="#111" stroke-width="1.0" />
<rect x="421.36" y="495.41" width="2.10" height="25.19" fill="#b90a2c" stroke="none" stroke-width="1" />
<rect x="424.76" y="504.92" width="2.10" height="15.68" fill="#21438a" stroke="none" stroke-width="1" />
<line x1="422.41" y1="484.19" x2="422.41" y2="507.42" stroke="#111" stroke-width="1.0" />
<line x1="425.81" y1="493.31" x2="425.81" y2="513.25" stroke="#111" stroke-width="1.0" />
<rect x="430.72" y="496.20" width="2.10" height="24.40" fill="#b90a2c" stroke="none" stroke-width="1" />
<rect x="434.12" y="506.10" width="2.10" height="14.50" fill="#21438a" stroke="none" stroke-width="1" />
<line x1="431.77" y1="483.21" x2="431.77" y2="505.90" stroke="#111" stroke-width="1.0" />
<line x1="435.17" y1="492.33" x2="435.17" y2="512.27" stroke="#111" stroke-width="1.0" />
<rect x="440.08" y="501.00" width="2.10" height="19.60" fill="#b90a2c" stroke="none" stroke-width="1" />
<rect x="443.48" y="502.23" width="2.10" height="18.38" fill="#21438a" stroke="none" stroke-width="1" />
<line x1="441.13" y1="489.04" x2="441.13" y2="511.29" stroke="#111" stroke-width="1.0" />
<line x1="444.53" y1="490.56" x2="444.53" y2="510.80" stroke="#111" stroke-width="1.0" />
<rect x="449.44" y="504.14" width="2.10" height="16.46" fill="#b90a2c" stroke="none" stroke-width="1" />
<rect x="452.84" y="503.16" width="2.10" height="17.44" fill="#21438a" stroke="none" stroke-width="1" />
<line x1="450.49" y1="489.04" x2="450.49" y2="513.25" stroke="#111" stroke-width="1.0" />
<line x1="453.89" y1="492.92" x2="453.89" y2="511.29" stroke="#111" stroke-width="1.0" />
<rect x="458.80" y="505.51" width="2.10" height="15.09" fill="#b90a2c" stroke="none" stroke-width="1" />
<rect x="462.20" y="508.99" width="2.10" height="11.61" fill="#21438a" stroke="none" stroke-width="1" />
<line x1="459.85" y1="496.79" x2="459.85" y2="510.90" stroke="#111" stroke-width="1.0" />
<line x1="463.25" y1="499.29" x2="463.25" y2="516.19" stroke="#111" stroke-width="1.0" />
<rect x="468.16" y="508.40" width="2.10" height="12.20" fill="#b90a2c" stroke="none" stroke-width="1" />
<rect x="471.56" y="502.23" width="2.10" height="18.38" fill="#21438a" stroke="none" stroke-width="1" />
<line x1="469.21" y1="504.14" x2="469.21" y2="515.21" stroke="#111" stroke-width="1.0" />
<line x1="472.61" y1="482.38" x2="472.61" y2="515.21" stroke="#111" stroke-width="1.0" />
<rect x="477.52" y="512.27" width="2.10" height="8.33" fill="#b90a2c" stroke="none" stroke-width="1" />
<rect x="480.92" y="496.20" width="2.10" height="24.40" fill="#21438a" stroke="none" stroke-width="1" />
<line x1="478.57" y1="499.68" x2="478.57" y2="516.19" stroke="#111" stroke-width="1.0" />
<line x1="481.97" y1="490.96" x2="481.97" y2="515.21" stroke="#111" stroke-width="1.0" />
<line x1="413.30" y1="477.00" x2="416.10" y2="477.00" stroke="#222" stroke-width="0.95" />
<circle cx="414.90" cy="474.20" r="0.7" fill="#111"/>
<line x1="215.50" y1="542.60" x2="215.50" y2="594.60" stroke="#222" stroke-width="1.3" />
<line x1="215.50" y1="594.60" x2="288.52" y2="594.60" stroke="#222" stroke-width="1.3" />
<line x1="212.50" y1="594.60" x2="215.50" y2="594.60" stroke="#222" stroke-width="1" />
<text x="210.10" y="596.90" font-size="6.4" text-anchor="end" fill="#333"  stroke="#333" stroke-width="0.07">0</text>
<line x1="212.50" y1="584.80" x2="215.50" y2="584.80" stroke="#222" stroke-width="1" />
<text x="210.10" y="587.10" font-size="6.4" text-anchor="end" fill="#333"  stroke="#333" stroke-width="0.07">10</text>
<line x1="212.50" y1="575.00" x2="215.50" y2="575.00" stroke="#222" stroke-width="1" />
<text x="210.10" y="577.30" font-size="6.4" text-anchor="end" fill="#333"  stroke="#333" stroke-width="0.07">20</text>
<line x1="212.50" y1="565.20" x2="215.50" y2="565.20" stroke="#222" stroke-width="1" />
<text x="210.10" y="567.50" font-size="6.4" text-anchor="end" fill="#333"  stroke="#333" stroke-width="0.07">30</text>
<line x1="212.50" y1="555.40" x2="215.50" y2="555.40" stroke="#222" stroke-width="1" />
<text x="210.10" y="557.70" font-size="6.4" text-anchor="end" fill="#333"  stroke="#333" stroke-width="0.07">40</text>
<line x1="212.50" y1="545.60" x2="215.50" y2="545.60" stroke="#222" stroke-width="1" />
<text x="210.10" y="547.90" font-size="6.4" text-anchor="end" fill="#333"  stroke="#333" stroke-width="0.07">50</text>
<line x1="219.40" y1="594.60" x2="219.40" y2="596.60" stroke="#222" stroke-width="1" />
<text x="219.40" y="606.60" font-size="6.6" text-anchor="middle" fill="#333"  stroke="#333" stroke-width="0.07">1</text>
<line x1="228.76" y1="594.60" x2="228.76" y2="596.60" stroke="#222" stroke-width="1" />
<text x="228.76" y="606.60" font-size="6.6" text-anchor="middle" fill="#333"  stroke="#333" stroke-width="0.07">2</text>
<line x1="238.12" y1="594.60" x2="238.12" y2="596.60" stroke="#222" stroke-width="1" />
<text x="238.12" y="606.60" font-size="6.6" text-anchor="middle" fill="#333"  stroke="#333" stroke-width="0.07">3</text>
<line x1="247.48" y1="594.60" x2="247.48" y2="596.60" stroke="#222" stroke-width="1" />
<text x="247.48" y="606.60" font-size="6.6" text-anchor="middle" fill="#333"  stroke="#333" stroke-width="0.07">6</text>
<line x1="256.84" y1="594.60" x2="256.84" y2="596.60" stroke="#222" stroke-width="1" />
<text x="256.84" y="606.60" font-size="6.6" text-anchor="middle" fill="#333"  stroke="#333" stroke-width="0.07">9</text>
<line x1="266.20" y1="594.60" x2="266.20" y2="596.60" stroke="#222" stroke-width="1" />
<text x="266.20" y="606.60" font-size="6.6" text-anchor="middle" fill="#333"  stroke="#333" stroke-width="0.07">12</text>
<line x1="275.56" y1="594.60" x2="275.56" y2="596.60" stroke="#222" stroke-width="1" />
<text x="275.56" y="606.60" font-size="6.6" text-anchor="middle" fill="#333"  stroke="#333" stroke-width="0.07">18</text>
<line x1="284.92" y1="594.60" x2="284.92" y2="596.60" stroke="#222" stroke-width="1" />
<text x="284.92" y="606.60" font-size="6.6" text-anchor="middle" fill="#333"  stroke="#333" stroke-width="0.07">24</text>
<rect x="216.70" y="580.88" width="2.10" height="13.72" fill="#b90a2c" stroke="none" stroke-width="1" />
<rect x="220.10" y="591.37" width="2.10" height="3.23" fill="#21438a" stroke="none" stroke-width="1" />
<line x1="217.75" y1="562.46" x2="217.75" y2="588.82" stroke="#111" stroke-width="1.0" />
<line x1="221.15" y1="584.60" x2="221.15" y2="593.82" stroke="#111" stroke-width="1.0" />
<rect x="226.06" y="573.73" width="2.10" height="20.87" fill="#b90a2c" stroke="none" stroke-width="1" />
<rect x="229.46" y="585.58" width="2.10" height="9.02" fill="#21438a" stroke="none" stroke-width="1" />
<line x1="227.11" y1="552.85" x2="227.11" y2="587.54" stroke="#111" stroke-width="1.0" />
<line x1="230.51" y1="572.06" x2="230.51" y2="592.64" stroke="#111" stroke-width="1.0" />
<rect x="235.42" y="575.00" width="2.10" height="19.60" fill="#b90a2c" stroke="none" stroke-width="1" />
<rect x="238.82" y="584.51" width="2.10" height="10.09" fill="#21438a" stroke="none" stroke-width="1" />
<line x1="236.47" y1="553.64" x2="236.47" y2="586.27" stroke="#111" stroke-width="1.0" />
<line x1="239.87" y1="570.49" x2="239.87" y2="592.05" stroke="#111" stroke-width="1.0" />
<rect x="244.78" y="578.23" width="2.10" height="16.37" fill="#b90a2c" stroke="none" stroke-width="1" />
<rect x="248.18" y="587.05" width="2.10" height="7.55" fill="#21438a" stroke="none" stroke-width="1" />
<line x1="245.83" y1="561.28" x2="245.83" y2="588.82" stroke="#111" stroke-width="1.0" />
<line x1="249.23" y1="570.49" x2="249.23" y2="592.64" stroke="#111" stroke-width="1.0" />
<rect x="254.14" y="585.09" width="2.10" height="9.51" fill="#b90a2c" stroke="none" stroke-width="1" />
<rect x="257.54" y="584.51" width="2.10" height="10.09" fill="#21438a" stroke="none" stroke-width="1" />
<line x1="255.19" y1="552.46" x2="255.19" y2="592.05" stroke="#111" stroke-width="1.0" />
<line x1="258.59" y1="572.45" x2="258.59" y2="592.05" stroke="#111" stroke-width="1.0" />
<rect x="263.50" y="586.27" width="2.10" height="8.33" fill="#b90a2c" stroke="none" stroke-width="1" />
<rect x="266.90" y="592.05" width="2.10" height="2.55" fill="#21438a" stroke="none" stroke-width="1" />
<line x1="264.55" y1="561.28" x2="264.55" y2="592.64" stroke="#111" stroke-width="1.0" />
<line x1="267.95" y1="583.04" x2="267.95" y2="594.11" stroke="#111" stroke-width="1.0" />
<rect x="272.86" y="590.88" width="2.10" height="3.72" fill="#b90a2c" stroke="none" stroke-width="1" />
<rect x="276.26" y="585.78" width="2.10" height="8.82" fill="#21438a" stroke="none" stroke-width="1" />
<line x1="273.91" y1="574.51" x2="273.91" y2="593.82" stroke="#111" stroke-width="1.0" />
<line x1="277.31" y1="563.73" x2="277.31" y2="592.64" stroke="#111" stroke-width="1.0" />
<rect x="282.22" y="592.05" width="2.10" height="2.55" fill="#b90a2c" stroke="none" stroke-width="1" />
<rect x="285.62" y="578.23" width="2.10" height="16.37" fill="#21438a" stroke="none" stroke-width="1" />
<line x1="283.27" y1="587.05" x2="283.27" y2="593.82" stroke="#111" stroke-width="1.0" />
<line x1="286.67" y1="557.36" x2="286.67" y2="586.27" stroke="#111" stroke-width="1.0" />
<line x1="218.00" y1="550.90" x2="220.80" y2="550.90" stroke="#222" stroke-width="0.95" />
<circle cx="219.60" cy="548.10" r="0.7" fill="#111"/>
<line x1="283.52" y1="553.80" x2="286.32" y2="553.80" stroke="#222" stroke-width="0.95" />
<circle cx="285.12" cy="551.00" r="0.7" fill="#111"/>
<line x1="311.20" y1="542.60" x2="311.20" y2="594.60" stroke="#222" stroke-width="1.3" />
<line x1="311.20" y1="594.60" x2="384.22" y2="594.60" stroke="#222" stroke-width="1.3" />
<line x1="308.20" y1="594.60" x2="311.20" y2="594.60" stroke="#222" stroke-width="1" />
<text x="305.80" y="596.90" font-size="6.4" text-anchor="end" fill="#333"  stroke="#333" stroke-width="0.07">0</text>
<line x1="308.20" y1="578.27" x2="311.20" y2="578.27" stroke="#222" stroke-width="1" />
<text x="305.80" y="580.57" font-size="6.4" text-anchor="end" fill="#333"  stroke="#333" stroke-width="0.07">20</text>
<line x1="308.20" y1="561.93" x2="311.20" y2="561.93" stroke="#222" stroke-width="1" />
<text x="305.80" y="564.23" font-size="6.4" text-anchor="end" fill="#333"  stroke="#333" stroke-width="0.07">40</text>
<line x1="308.20" y1="545.60" x2="311.20" y2="545.60" stroke="#222" stroke-width="1" />
<text x="305.80" y="547.90" font-size="6.4" text-anchor="end" fill="#333"  stroke="#333" stroke-width="0.07">60</text>
<line x1="315.10" y1="594.60" x2="315.10" y2="596.60" stroke="#222" stroke-width="1" />
<text x="315.10" y="606.60" font-size="6.6" text-anchor="middle" fill="#333"  stroke="#333" stroke-width="0.07">1</text>
<line x1="324.46" y1="594.60" x2="324.46" y2="596.60" stroke="#222" stroke-width="1" />
<text x="324.46" y="606.60" font-size="6.6" text-anchor="middle" fill="#333"  stroke="#333" stroke-width="0.07">2</text>
<line x1="333.82" y1="594.60" x2="333.82" y2="596.60" stroke="#222" stroke-width="1" />
<text x="333.82" y="606.60" font-size="6.6" text-anchor="middle" fill="#333"  stroke="#333" stroke-width="0.07">3</text>
<line x1="343.18" y1="594.60" x2="343.18" y2="596.60" stroke="#222" stroke-width="1" />
<text x="343.18" y="606.60" font-size="6.6" text-anchor="middle" fill="#333"  stroke="#333" stroke-width="0.07">6</text>
<line x1="352.54" y1="594.60" x2="352.54" y2="596.60" stroke="#222" stroke-width="1" />
<text x="352.54" y="606.60" font-size="6.6" text-anchor="middle" fill="#333"  stroke="#333" stroke-width="0.07">9</text>
<line x1="361.90" y1="594.60" x2="361.90" y2="596.60" stroke="#222" stroke-width="1" />
<text x="361.90" y="606.60" font-size="6.6" text-anchor="middle" fill="#333"  stroke="#333" stroke-width="0.07">12</text>
<line x1="371.26" y1="594.60" x2="371.26" y2="596.60" stroke="#222" stroke-width="1" />
<text x="371.26" y="606.60" font-size="6.6" text-anchor="middle" fill="#333"  stroke="#333" stroke-width="0.07">18</text>
<line x1="380.62" y1="594.60" x2="380.62" y2="596.60" stroke="#222" stroke-width="1" />
<text x="380.62" y="606.60" font-size="6.6" text-anchor="middle" fill="#333"  stroke="#333" stroke-width="0.07">24</text>
<rect x="312.40" y="592.15" width="2.10" height="2.45" fill="#b90a2c" stroke="none" stroke-width="1" />
<rect x="315.80" y="590.84" width="2.10" height="3.76" fill="#21438a" stroke="none" stroke-width="1" />
<line x1="313.45" y1="574.51" x2="313.45" y2="593.78" stroke="#111" stroke-width="1.0" />
<line x1="316.85" y1="583.33" x2="316.85" y2="593.78" stroke="#111" stroke-width="1.0" />
<rect x="321.76" y="587.09" width="2.10" height="7.51" fill="#b90a2c" stroke="none" stroke-width="1" />
<rect x="325.16" y="587.09" width="2.10" height="7.51" fill="#21438a" stroke="none" stroke-width="1" />
<line x1="322.81" y1="566.18" x2="322.81" y2="592.56" stroke="#111" stroke-width="1.0" />
<line x1="326.21" y1="575.00" x2="326.21" y2="592.56" stroke="#111" stroke-width="1.0" />
<rect x="331.12" y="582.51" width="2.10" height="12.09" fill="#b90a2c" stroke="none" stroke-width="1" />
<rect x="334.52" y="588.88" width="2.10" height="5.72" fill="#21438a" stroke="none" stroke-width="1" />
<line x1="332.17" y1="572.96" x2="332.17" y2="590.11" stroke="#111" stroke-width="1.0" />
<line x1="335.57" y1="571.73" x2="335.57" y2="593.13" stroke="#111" stroke-width="1.0" />
<rect x="340.48" y="585.05" width="2.10" height="9.55" fill="#b90a2c" stroke="none" stroke-width="1" />
<rect x="343.88" y="589.70" width="2.10" height="4.90" fill="#21438a" stroke="none" stroke-width="1" />
<line x1="341.53" y1="577.04" x2="341.53" y2="591.33" stroke="#111" stroke-width="1.0" />
<line x1="344.93" y1="585.05" x2="344.93" y2="593.13" stroke="#111" stroke-width="1.0" />
<rect x="349.84" y="581.78" width="2.10" height="12.82" fill="#b90a2c" stroke="none" stroke-width="1" />
<rect x="353.24" y="592.15" width="2.10" height="2.45" fill="#21438a" stroke="none" stroke-width="1" />
<line x1="350.89" y1="559.16" x2="350.89" y2="590.11" stroke="#111" stroke-width="1.0" />
<line x1="354.29" y1="583.17" x2="354.29" y2="593.78" stroke="#111" stroke-width="1.0" />
<rect x="359.20" y="590.11" width="2.10" height="4.49" fill="#b90a2c" stroke="none" stroke-width="1" />
<rect x="362.60" y="590.52" width="2.10" height="4.08" fill="#21438a" stroke="none" stroke-width="1" />
<line x1="360.25" y1="573.37" x2="360.25" y2="593.13" stroke="#111" stroke-width="1.0" />
<line x1="363.65" y1="578.02" x2="363.65" y2="593.13" stroke="#111" stroke-width="1.0" />
<rect x="368.56" y="592.15" width="2.10" height="2.45" fill="#b90a2c" stroke="none" stroke-width="1" />
<rect x="371.96" y="586.43" width="2.10" height="8.17" fill="#21438a" stroke="none" stroke-width="1" />
<line x1="369.61" y1="580.72" x2="369.61" y2="593.78" stroke="#111" stroke-width="1.0" />
<line x1="373.01" y1="558.18" x2="373.01" y2="592.15" stroke="#111" stroke-width="1.0" />
<rect x="377.92" y="588.31" width="2.10" height="6.29" fill="#b90a2c" stroke="none" stroke-width="1" />
<rect x="381.32" y="568.71" width="2.10" height="25.89" fill="#21438a" stroke="none" stroke-width="1" />
<line x1="378.97" y1="583.82" x2="378.97" y2="592.56" stroke="#111" stroke-width="1.0" />
<line x1="382.37" y1="555.64" x2="382.37" y2="588.07" stroke="#111" stroke-width="1.0" />
<line x1="351.14" y1="557.30" x2="353.94" y2="557.30" stroke="#222" stroke-width="0.95" />
<circle cx="352.74" cy="554.50" r="0.7" fill="#111"/>
<line x1="379.22" y1="554.20" x2="382.02" y2="554.20" stroke="#222" stroke-width="0.95" />
<circle cx="380.82" cy="551.40" r="0.7" fill="#111"/>
<line x1="410.80" y1="542.60" x2="410.80" y2="594.60" stroke="#222" stroke-width="1.3" />
<line x1="410.80" y1="594.60" x2="483.82" y2="594.60" stroke="#222" stroke-width="1.3" />
<line x1="407.80" y1="594.60" x2="410.80" y2="594.60" stroke="#222" stroke-width="1" />
<text x="405.40" y="596.90" font-size="6.4" text-anchor="end" fill="#333"  stroke="#333" stroke-width="0.07">0</text>
<line x1="407.80" y1="582.35" x2="410.80" y2="582.35" stroke="#222" stroke-width="1" />
<text x="405.40" y="584.65" font-size="6.4" text-anchor="end" fill="#333"  stroke="#333" stroke-width="0.07">20</text>
<line x1="407.80" y1="570.10" x2="410.80" y2="570.10" stroke="#222" stroke-width="1" />
<text x="405.40" y="572.40" font-size="6.4" text-anchor="end" fill="#333"  stroke="#333" stroke-width="0.07">40</text>
<line x1="407.80" y1="557.85" x2="410.80" y2="557.85" stroke="#222" stroke-width="1" />
<text x="405.40" y="560.15" font-size="6.4" text-anchor="end" fill="#333"  stroke="#333" stroke-width="0.07">60</text>
<line x1="407.80" y1="545.60" x2="410.80" y2="545.60" stroke="#222" stroke-width="1" />
<text x="405.40" y="547.90" font-size="6.4" text-anchor="end" fill="#333"  stroke="#333" stroke-width="0.07">80</text>
<line x1="414.70" y1="594.60" x2="414.70" y2="596.60" stroke="#222" stroke-width="1" />
<text x="414.70" y="606.60" font-size="6.6" text-anchor="middle" fill="#333"  stroke="#333" stroke-width="0.07">1</text>
<line x1="424.06" y1="594.60" x2="424.06" y2="596.60" stroke="#222" stroke-width="1" />
<text x="424.06" y="606.60" font-size="6.6" text-anchor="middle" fill="#333"  stroke="#333" stroke-width="0.07">2</text>
<line x1="433.42" y1="594.60" x2="433.42" y2="596.60" stroke="#222" stroke-width="1" />
<text x="433.42" y="606.60" font-size="6.6" text-anchor="middle" fill="#333"  stroke="#333" stroke-width="0.07">3</text>
<line x1="442.78" y1="594.60" x2="442.78" y2="596.60" stroke="#222" stroke-width="1" />
<text x="442.78" y="606.60" font-size="6.6" text-anchor="middle" fill="#333"  stroke="#333" stroke-width="0.07">6</text>
<line x1="452.14" y1="594.60" x2="452.14" y2="596.60" stroke="#222" stroke-width="1" />
<text x="452.14" y="606.60" font-size="6.6" text-anchor="middle" fill="#333"  stroke="#333" stroke-width="0.07">9</text>
<line x1="461.50" y1="594.60" x2="461.50" y2="596.60" stroke="#222" stroke-width="1" />
<text x="461.50" y="606.60" font-size="6.6" text-anchor="middle" fill="#333"  stroke="#333" stroke-width="0.07">12</text>
<line x1="470.86" y1="594.60" x2="470.86" y2="596.60" stroke="#222" stroke-width="1" />
<text x="470.86" y="606.60" font-size="6.6" text-anchor="middle" fill="#333"  stroke="#333" stroke-width="0.07">18</text>
<line x1="480.22" y1="594.60" x2="480.22" y2="596.60" stroke="#222" stroke-width="1" />
<text x="480.22" y="606.60" font-size="6.6" text-anchor="middle" fill="#333"  stroke="#333" stroke-width="0.07">24</text>
<rect x="412.00" y="574.08" width="2.10" height="20.52" fill="#b90a2c" stroke="none" stroke-width="1" />
<rect x="415.40" y="588.84" width="2.10" height="5.76" fill="#21438a" stroke="none" stroke-width="1" />
<line x1="413.05" y1="562.93" x2="413.05" y2="584.98" stroke="#111" stroke-width="1.0" />
<line x1="416.45" y1="580.21" x2="416.45" y2="593.25" stroke="#111" stroke-width="1.0" />
<rect x="421.36" y="577.70" width="2.10" height="16.90" fill="#b90a2c" stroke="none" stroke-width="1" />
<rect x="424.76" y="583.64" width="2.10" height="10.96" fill="#21438a" stroke="none" stroke-width="1" />
<line x1="422.41" y1="560.61" x2="422.41" y2="587.50" stroke="#111" stroke-width="1.0" />
<line x1="425.81" y1="574.39" x2="425.81" y2="590.19" stroke="#111" stroke-width="1.0" />
<rect x="430.72" y="578.31" width="2.10" height="16.29" fill="#b90a2c" stroke="none" stroke-width="1" />
<rect x="434.12" y="581.74" width="2.10" height="12.86" fill="#21438a" stroke="none" stroke-width="1" />
<line x1="431.77" y1="565.81" x2="431.77" y2="586.94" stroke="#111" stroke-width="1.0" />
<line x1="435.17" y1="577.88" x2="435.17" y2="591.35" stroke="#111" stroke-width="1.0" />
<rect x="440.08" y="583.09" width="2.10" height="11.51" fill="#b90a2c" stroke="none" stroke-width="1" />
<rect x="443.48" y="586.51" width="2.10" height="8.09" fill="#21438a" stroke="none" stroke-width="1" />
<line x1="441.13" y1="571.57" x2="441.13" y2="589.39" stroke="#111" stroke-width="1.0" />
<line x1="444.53" y1="569.24" x2="444.53" y2="591.72" stroke="#111" stroke-width="1.0" />
<rect x="449.44" y="585.60" width="2.10" height="9.00" fill="#b90a2c" stroke="none" stroke-width="1" />
<rect x="452.84" y="587.50" width="2.10" height="7.11" fill="#21438a" stroke="none" stroke-width="1" />
<line x1="450.49" y1="572.12" x2="450.49" y2="590.19" stroke="#111" stroke-width="1.0" />
<line x1="453.89" y1="580.21" x2="453.89" y2="591.72" stroke="#111" stroke-width="1.0" />
<rect x="458.80" y="587.86" width="2.10" height="6.74" fill="#b90a2c" stroke="none" stroke-width="1" />
<rect x="462.20" y="591.72" width="2.10" height="2.88" fill="#21438a" stroke="none" stroke-width="1" />
<line x1="459.85" y1="577.88" x2="459.85" y2="592.15" stroke="#111" stroke-width="1.0" />
<line x1="463.25" y1="587.86" x2="463.25" y2="593.62" stroke="#111" stroke-width="1.0" />
<rect x="468.16" y="588.84" width="2.10" height="5.76" fill="#b90a2c" stroke="none" stroke-width="1" />
<rect x="471.56" y="586.94" width="2.10" height="7.66" fill="#21438a" stroke="none" stroke-width="1" />
<line x1="469.21" y1="586.02" x2="469.21" y2="592.76" stroke="#111" stroke-width="1.0" />
<line x1="472.61" y1="558.71" x2="472.61" y2="592.76" stroke="#111" stroke-width="1.0" />
<rect x="477.52" y="590.74" width="2.10" height="3.86" fill="#b90a2c" stroke="none" stroke-width="1" />
<rect x="480.92" y="579.90" width="2.10" height="14.70" fill="#21438a" stroke="none" stroke-width="1" />
<line x1="478.57" y1="584.62" x2="478.57" y2="593.25" stroke="#111" stroke-width="1.0" />
<line x1="481.97" y1="570.10" x2="481.97" y2="586.94" stroke="#111" stroke-width="1.0" />
<line x1="413.30" y1="561.40" x2="416.10" y2="561.40" stroke="#222" stroke-width="0.95" />
<circle cx="413.88" cy="558.60" r="0.7" fill="#111"/>
<circle cx="415.93" cy="558.60" r="0.7" fill="#111"/>
<line x1="422.66" y1="558.30" x2="425.46" y2="558.30" stroke="#222" stroke-width="0.95" />
<circle cx="424.26" cy="555.50" r="0.7" fill="#111"/>
<line x1="460.10" y1="574.40" x2="462.90" y2="574.40" stroke="#222" stroke-width="0.95" />
<circle cx="461.70" cy="571.60" r="0.7" fill="#111"/>
<text x="252.2" y="389.2" font-size="8.6" text-anchor="middle" fill="#111" stroke="#111" stroke-width="0.12">CD4<tspan font-size="6.6" dy="-3.3">+</tspan><tspan dy="3.3"> Tcon cells</tspan></text>
<text x="347.9" y="389.2" font-size="8.6" text-anchor="middle" fill="#111" stroke="#111" stroke-width="0.12">CD4<tspan font-size="6.6" dy="-3.3">+</tspan><tspan dy="3.3"> Treg cells</tspan></text>
<text x="447.1" y="389.2" font-size="8.6" text-anchor="middle" fill="#111" stroke="#111" stroke-width="0.12">CD8<tspan font-size="6.6" dy="-3.3">+</tspan><tspan dy="3.3"> T cells</tspan></text>
<rect x="480.60" y="393.20" width="4.30" height="4.10" fill="#b80f2a" stroke="none" stroke-width="1" />
<rect x="480.60" y="401.80" width="4.30" height="4.20" fill="#1f3f80" stroke="none" stroke-width="1" />
<text x="487.60" y="397.20" font-size="5.1" text-anchor="start" fill="#333"  stroke="#333" stroke-width="0.07">Haplo-HCT</text>
<text x="487.60" y="406.00" font-size="5.1" text-anchor="start" fill="#333"  stroke="#333" stroke-width="0.07">MD-HCT</text>
<text x="193.30" y="420.50" font-size="8.6" text-anchor="middle" fill="#111" textLength="28.7" lengthAdjust="spacingAndGlyphs" transform="rotate(-90 193.30 420.50)" stroke="#111" stroke-width="0.15">%PD1<tspan font-size="5.6" dy="-3">+</tspan><tspan dy="3"> CM</tspan></text>
<text x="193.40" y="494.40" font-size="8.6" text-anchor="middle" fill="#111" textLength="29.6" lengthAdjust="spacingAndGlyphs" transform="rotate(-90 193.40 494.40)" stroke="#111" stroke-width="0.15">%PD1<tspan font-size="5.6" dy="-3">+</tspan><tspan dy="3"> EM</tspan></text>
<text x="193.40" y="568.70" font-size="8.6" text-anchor="middle" fill="#111" textLength="40.2" lengthAdjust="spacingAndGlyphs" transform="rotate(-90 193.40 568.70)" stroke="#111" stroke-width="0.15">%PD1<tspan font-size="5.6" dy="-3">+</tspan><tspan dy="3"> TEMRA</tspan></text>
<line x1="204.50" y1="615.50" x2="318.75" y2="615.50" stroke="#222" stroke-width="1" />
<line x1="371.25" y1="615.50" x2="483.60" y2="615.50" stroke="#222" stroke-width="1" />
<text x="344.40" y="618.60" font-size="8.7" text-anchor="middle" fill="#111" textLength="43.8" lengthAdjust="spacingAndGlyphs" stroke="#111" stroke-width="0.32">Months after HCT</text>
</svg></body></html>
